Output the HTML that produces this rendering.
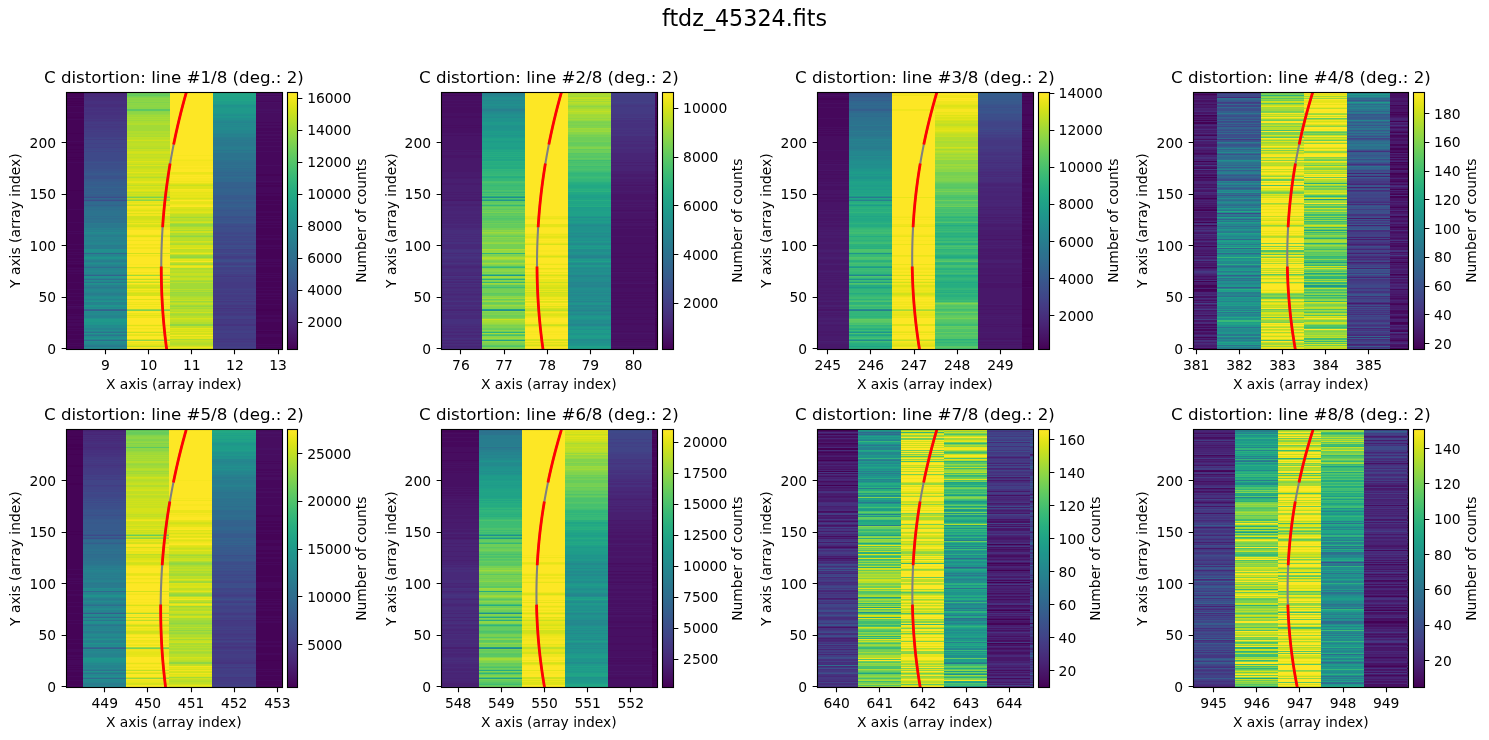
<!DOCTYPE html>
<html lang="en"><head><meta charset="utf-8"><title>ftdz_45324.fits</title>
<style>html,body{margin:0;padding:0;background:#fff}svg{display:block;will-change:transform;opacity:.999}text{font-family:"DejaVu Sans","Liberation Sans",sans-serif;fill:#000}</style></head><body>
<svg width="1489" height="740" viewBox="0 0 1489 740">
<rect width="1489" height="740" fill="#fff"/>
<defs><linearGradient id="vir" x1="0" y1="0" x2="0" y2="1"><stop offset="0.0000" stop-color="#fde725"/><stop offset="0.0156" stop-color="#f6e620"/><stop offset="0.0312" stop-color="#ece51b"/><stop offset="0.0469" stop-color="#e2e418"/><stop offset="0.0625" stop-color="#d8e219"/><stop offset="0.0781" stop-color="#cde11d"/><stop offset="0.0938" stop-color="#c2df23"/><stop offset="0.1094" stop-color="#b8de29"/><stop offset="0.1250" stop-color="#addc30"/><stop offset="0.1406" stop-color="#a2da37"/><stop offset="0.1562" stop-color="#98d83e"/><stop offset="0.1719" stop-color="#8ed645"/><stop offset="0.1875" stop-color="#84d44b"/><stop offset="0.2031" stop-color="#7ad151"/><stop offset="0.2188" stop-color="#70cf57"/><stop offset="0.2344" stop-color="#67cc5c"/><stop offset="0.2500" stop-color="#5ec962"/><stop offset="0.2656" stop-color="#56c667"/><stop offset="0.2812" stop-color="#4ec36b"/><stop offset="0.2969" stop-color="#46c06f"/><stop offset="0.3125" stop-color="#3fbc73"/><stop offset="0.3281" stop-color="#38b977"/><stop offset="0.3438" stop-color="#32b67a"/><stop offset="0.3594" stop-color="#2db27d"/><stop offset="0.3750" stop-color="#28ae80"/><stop offset="0.3906" stop-color="#25ab82"/><stop offset="0.4062" stop-color="#22a785"/><stop offset="0.4219" stop-color="#20a386"/><stop offset="0.4375" stop-color="#1fa088"/><stop offset="0.4531" stop-color="#1e9c89"/><stop offset="0.4688" stop-color="#1f988b"/><stop offset="0.4844" stop-color="#1f948c"/><stop offset="0.5000" stop-color="#21918c"/><stop offset="0.5156" stop-color="#228d8d"/><stop offset="0.5312" stop-color="#23898e"/><stop offset="0.5469" stop-color="#25858e"/><stop offset="0.5625" stop-color="#26828e"/><stop offset="0.5781" stop-color="#277e8e"/><stop offset="0.5938" stop-color="#297a8e"/><stop offset="0.6094" stop-color="#2a768e"/><stop offset="0.6250" stop-color="#2c728e"/><stop offset="0.6406" stop-color="#2e6f8e"/><stop offset="0.6562" stop-color="#2f6b8e"/><stop offset="0.6719" stop-color="#31678e"/><stop offset="0.6875" stop-color="#33638d"/><stop offset="0.7031" stop-color="#355f8d"/><stop offset="0.7188" stop-color="#375b8d"/><stop offset="0.7344" stop-color="#39568c"/><stop offset="0.7500" stop-color="#3b528b"/><stop offset="0.7656" stop-color="#3d4e8a"/><stop offset="0.7812" stop-color="#3e4989"/><stop offset="0.7969" stop-color="#404588"/><stop offset="0.8125" stop-color="#424086"/><stop offset="0.8281" stop-color="#443b84"/><stop offset="0.8438" stop-color="#453781"/><stop offset="0.8594" stop-color="#46327e"/><stop offset="0.8750" stop-color="#472d7b"/><stop offset="0.8906" stop-color="#482878"/><stop offset="0.9062" stop-color="#482374"/><stop offset="0.9219" stop-color="#481d6f"/><stop offset="0.9375" stop-color="#48186a"/><stop offset="0.9531" stop-color="#471365"/><stop offset="0.9688" stop-color="#470d60"/><stop offset="0.9844" stop-color="#46075a"/><stop offset="1.0000" stop-color="#440154"/></linearGradient></defs>
<text font-size="22.22" text-anchor="middle" x="744.5" y="26">ftdz_45324.fits</text>
<g id="p1">
<g shape-rendering="crispEdges">
<path fill="#440154" d="M66 265h18v2h-18zM66 190h18v1h-18zM66 159h18v1h-18zM66 157h18v1h-18zM66 152h18v1h-18zM66 149h18v1h-18zM66 144h18v2h-18zM66 133h18v1h-18zM66 117h18v1h-18zM66 105h18v1h-18zM66 103h18v1h-18zM66 101h18v1h-18zM66 98h18v1h-18zM66 93h18v1h-18zM256 331h27v1h-27zM256 309h27v2h-27z"/>
<path fill="#450457" d="M66 346h18v2h-18zM66 344h18v1h-18zM66 340h18v3h-18zM66 335h18v4h-18zM66 331h18v3h-18zM66 329h18v1h-18zM66 326h18v2h-18zM66 322h18v1h-18zM66 319h18v1h-18zM66 315h18v1h-18zM66 309h18v5h-18zM66 305h18v1h-18zM66 301h18v3h-18zM66 297h18v3h-18zM66 294h18v2h-18zM66 290h18v3h-18zM66 283h18v6h-18zM66 274h18v8h-18zM66 272h18v1h-18zM66 269h18v1h-18zM66 267h18v1h-18zM66 264h18v1h-18zM66 262h18v1h-18zM66 259h18v2h-18zM66 255h18v3h-18zM66 253h18v1h-18zM66 250h18v2h-18zM66 245h18v4h-18zM66 234h18v10h-18zM66 232h18v1h-18zM66 223h18v8h-18zM66 210h18v12h-18zM66 191h18v18h-18zM66 163h18v27h-18zM66 160h18v2h-18zM66 158h18v1h-18zM66 153h18v4h-18zM66 150h18v2h-18zM66 146h18v3h-18zM66 142h18v2h-18zM66 134h18v7h-18zM66 120h18v13h-18zM66 118h18v1h-18zM66 113h18v4h-18zM66 107h18v5h-18zM66 104h18v1h-18zM66 102h18v1h-18zM66 99h18v2h-18zM66 94h18v3h-18zM66 92h18v1h-18zM256 347h27v1h-27zM256 345h27v1h-27zM256 337h27v7h-27zM256 332h27v2h-27zM256 322h27v8h-27zM256 317h27v2h-27zM256 311h27v4h-27zM256 305h27v4h-27zM256 300h27v4h-27zM256 297h27v2h-27zM256 295h27v1h-27zM256 291h27v2h-27zM256 288h27v2h-27zM256 282h27v5h-27zM256 278h27v3h-27zM256 276h27v1h-27zM256 274h27v1h-27zM256 267h27v6h-27zM256 264h27v1h-27zM256 262h27v1h-27zM256 249h27v10h-27zM256 247h27v1h-27zM256 240h27v5h-27zM256 236h27v2h-27zM256 228h27v7h-27zM256 225h27v2h-27zM256 223h27v1h-27zM256 219h27v2h-27zM256 217h27v1h-27zM256 213h27v3h-27zM256 205h27v6h-27zM256 201h27v3h-27zM256 196h27v4h-27zM256 193h27v1h-27zM256 185h27v2h-27zM256 183h27v1h-27zM256 174h27v2h-27z"/>
<path fill="#46085c" d="M66 348h18v2h-18zM66 345h18v1h-18zM66 343h18v1h-18zM66 339h18v1h-18zM66 334h18v1h-18zM66 330h18v1h-18zM66 328h18v1h-18zM66 323h18v3h-18zM66 320h18v2h-18zM66 316h18v3h-18zM66 314h18v1h-18zM66 307h18v2h-18zM66 304h18v1h-18zM66 300h18v1h-18zM66 296h18v1h-18zM66 293h18v1h-18zM66 289h18v1h-18zM66 282h18v1h-18zM66 273h18v1h-18zM66 270h18v2h-18zM66 268h18v1h-18zM66 263h18v1h-18zM66 261h18v1h-18zM66 258h18v1h-18zM66 254h18v1h-18zM66 252h18v1h-18zM66 249h18v1h-18zM66 244h18v1h-18zM66 233h18v1h-18zM66 231h18v1h-18zM66 222h18v1h-18zM66 209h18v1h-18zM66 162h18v1h-18zM66 141h18v1h-18zM66 119h18v1h-18zM66 112h18v1h-18zM66 106h18v1h-18zM66 97h18v1h-18zM256 348h27v2h-27zM256 346h27v1h-27zM256 344h27v1h-27zM256 334h27v3h-27zM256 330h27v1h-27zM256 319h27v3h-27zM256 315h27v2h-27zM256 304h27v1h-27zM256 299h27v1h-27zM256 296h27v1h-27zM256 293h27v2h-27zM256 290h27v1h-27zM256 287h27v1h-27zM256 281h27v1h-27zM256 277h27v1h-27zM256 275h27v1h-27zM256 273h27v1h-27zM256 265h27v2h-27zM256 263h27v1h-27zM256 259h27v3h-27zM256 248h27v1h-27zM256 245h27v2h-27zM256 238h27v2h-27zM256 235h27v1h-27zM256 227h27v1h-27zM256 224h27v1h-27zM256 221h27v2h-27zM256 218h27v1h-27zM256 216h27v1h-27zM256 211h27v2h-27zM256 204h27v1h-27zM256 200h27v1h-27zM256 194h27v2h-27zM256 187h27v6h-27zM256 184h27v1h-27zM256 182h27v1h-27zM256 176h27v5h-27zM256 166h27v8h-27zM256 152h27v13h-27zM256 147h27v4h-27zM256 142h27v4h-27zM256 139h27v2h-27zM256 136h27v2h-27zM256 132h27v2h-27zM256 128h27v3h-27zM256 125h27v1h-27zM256 122h27v1h-27zM256 101h27v1h-27zM256 95h27v1h-27z"/>
<path fill="#470d60" d="M66 306h18v1h-18zM256 181h27v1h-27zM256 165h27v1h-27zM256 151h27v1h-27zM256 146h27v1h-27zM256 141h27v1h-27zM256 138h27v1h-27zM256 134h27v2h-27zM256 131h27v1h-27zM256 126h27v2h-27zM256 123h27v2h-27zM256 113h27v9h-27zM256 111h27v1h-27zM256 103h27v6h-27zM256 97h27v4h-27zM256 92h27v2h-27z"/>
<path fill="#471063" d="M256 112h27v1h-27zM256 109h27v2h-27zM256 102h27v1h-27zM256 96h27v1h-27zM256 94h27v1h-27z"/>
<path fill="#482576" d="M84 92h43v2h-43z"/>
<path fill="#482979" d="M84 94h43v3h-43z"/>
<path fill="#472d7b" d="M84 104h43v3h-43zM84 97h43v4h-43z"/>
<path fill="#46307e" d="M84 112h43v3h-43zM84 109h43v2h-43zM84 107h43v1h-43zM84 101h43v3h-43z"/>
<path fill="#46337f" d="M84 120h43v1h-43zM84 115h43v4h-43zM84 111h43v1h-43zM84 108h43v1h-43zM213 324h43v2h-43zM213 308h43v1h-43z"/>
<path fill="#453781" d="M84 126h43v2h-43zM84 124h43v1h-43zM84 121h43v1h-43zM84 119h43v1h-43zM213 341h43v1h-43zM213 339h43v1h-43zM213 319h43v1h-43zM213 313h43v2h-43zM213 310h43v1h-43zM213 305h43v2h-43zM213 301h43v1h-43zM213 276h43v1h-43z"/>
<path fill="#443a83" d="M84 131h43v1h-43zM84 128h43v2h-43zM84 125h43v1h-43zM84 122h43v2h-43zM213 348h43v2h-43zM213 344h43v2h-43zM213 342h43v1h-43zM213 340h43v1h-43zM213 338h43v1h-43zM213 333h43v1h-43zM213 329h43v1h-43zM213 320h43v4h-43zM213 315h43v1h-43zM213 311h43v1h-43zM213 309h43v1h-43zM213 299h43v1h-43zM213 295h43v2h-43zM213 292h43v1h-43zM213 282h43v6h-43z"/>
<path fill="#433d84" d="M84 139h43v1h-43zM84 132h43v5h-43zM84 130h43v1h-43zM213 346h43v1h-43zM213 343h43v1h-43zM213 334h43v4h-43zM213 330h43v1h-43zM213 326h43v3h-43zM213 312h43v1h-43zM213 307h43v1h-43zM213 304h43v1h-43zM213 302h43v1h-43zM213 297h43v2h-43zM213 294h43v1h-43zM213 290h43v2h-43zM213 288h43v1h-43zM213 278h43v4h-43zM213 274h43v2h-43zM213 264h43v1h-43zM213 256h43v2h-43z"/>
<path fill="#424086" d="M84 147h43v1h-43zM84 143h43v1h-43zM84 137h43v1h-43zM213 347h43v1h-43zM213 331h43v2h-43zM213 316h43v3h-43zM213 303h43v1h-43zM213 300h43v1h-43zM213 293h43v1h-43zM213 289h43v1h-43zM213 277h43v1h-43zM213 272h43v1h-43zM213 267h43v3h-43zM213 263h43v1h-43zM213 258h43v1h-43zM213 249h43v1h-43z"/>
<path fill="#414487" d="M84 151h43v1h-43zM84 144h43v3h-43zM84 140h43v3h-43zM84 138h43v1h-43zM213 273h43v1h-43zM213 270h43v2h-43zM213 262h43v1h-43zM213 254h43v2h-43zM213 250h43v3h-43zM213 244h43v1h-43z"/>
<path fill="#404688" d="M84 148h43v2h-43zM213 265h43v1h-43zM213 243h43v1h-43zM213 240h43v1h-43zM213 236h43v2h-43zM213 233h43v1h-43z"/>
<path fill="#3e4989" d="M84 152h43v9h-43zM84 150h43v1h-43zM213 259h43v1h-43zM213 247h43v1h-43zM213 242h43v1h-43zM213 238h43v2h-43zM213 234h43v1h-43zM213 232h43v1h-43zM213 226h43v1h-43z"/>
<path fill="#3d4d8a" d="M84 200h43v1h-43zM84 197h43v1h-43zM84 163h43v2h-43zM84 161h43v1h-43zM213 266h43v1h-43zM213 260h43v2h-43zM213 253h43v1h-43zM213 248h43v1h-43zM213 245h43v2h-43zM213 241h43v1h-43zM213 235h43v1h-43zM213 229h43v3h-43zM213 227h43v1h-43zM213 224h43v2h-43z"/>
<path fill="#3c4f8a" d="M84 165h43v4h-43zM213 228h43v1h-43zM213 217h43v1h-43z"/>
<path fill="#3b528b" d="M84 176h43v3h-43zM84 169h43v2h-43zM84 162h43v1h-43zM213 223h43v1h-43zM213 219h43v1h-43zM213 216h43v1h-43z"/>
<path fill="#39558c" d="M84 175h43v1h-43zM84 171h43v2h-43zM213 220h43v2h-43zM213 218h43v1h-43zM213 210h43v1h-43z"/>
<path fill="#38598c" d="M84 196h43v1h-43zM84 179h43v2h-43zM84 173h43v2h-43zM213 222h43v1h-43zM213 211h43v5h-43zM213 209h43v1h-43zM213 202h43v1h-43zM213 197h43v1h-43z"/>
<path fill="#375b8d" d="M84 184h43v1h-43zM84 181h43v1h-43zM213 207h43v2h-43zM213 203h43v1h-43zM213 198h43v2h-43zM213 195h43v2h-43z"/>
<path fill="#355e8d" d="M84 199h43v1h-43zM84 194h43v2h-43zM84 192h43v1h-43zM84 188h43v3h-43zM84 185h43v2h-43zM84 182h43v2h-43zM213 204h43v2h-43zM213 201h43v1h-43zM213 187h43v1h-43z"/>
<path fill="#34618d" d="M84 310h43v1h-43zM84 191h43v1h-43zM213 206h43v1h-43zM213 200h43v1h-43zM213 192h43v3h-43zM213 188h43v1h-43zM213 182h43v5h-43z"/>
<path fill="#33638d" d="M84 275h43v1h-43zM84 205h43v1h-43zM84 193h43v1h-43zM84 187h43v1h-43zM213 189h43v3h-43z"/>
<path fill="#31668e" d="M84 201h43v1h-43zM84 198h43v1h-43zM213 175h43v1h-43zM213 172h43v1h-43z"/>
<path fill="#30698e" d="M84 253h43v1h-43zM84 204h43v1h-43zM213 178h43v4h-43zM213 176h43v1h-43zM213 173h43v2h-43z"/>
<path fill="#2f6b8e" d="M84 309h43v1h-43zM84 206h43v1h-43zM84 202h43v2h-43zM213 170h43v2h-43zM213 168h43v1h-43z"/>
<path fill="#2e6e8e" d="M84 340h43v1h-43zM84 267h43v1h-43zM84 218h43v1h-43zM84 216h43v1h-43zM84 209h43v1h-43zM84 207h43v1h-43zM213 177h43v1h-43zM213 169h43v1h-43zM213 166h43v1h-43zM213 162h43v3h-43z"/>
<path fill="#2d718e" d="M84 279h43v1h-43zM84 221h43v2h-43zM84 219h43v1h-43zM84 210h43v1h-43zM84 208h43v1h-43zM213 167h43v1h-43zM213 165h43v1h-43zM213 160h43v2h-43z"/>
<path fill="#2c738e" d="M84 332h43v1h-43zM84 220h43v1h-43zM84 217h43v1h-43zM84 211h43v5h-43zM213 153h43v5h-43z"/>
<path fill="#2b758e" d="M84 335h43v1h-43zM84 282h43v1h-43zM213 158h43v2h-43zM213 150h43v1h-43z"/>
<path fill="#2a788e" d="M84 346h43v1h-43zM84 287h43v1h-43zM84 224h43v4h-43zM213 152h43v1h-43zM213 142h43v4h-43zM213 140h43v1h-43z"/>
<path fill="#297b8e" d="M84 274h43v1h-43zM84 245h43v1h-43zM84 223h43v1h-43zM213 151h43v1h-43zM213 149h43v1h-43zM213 146h43v1h-43zM213 141h43v1h-43zM213 138h43v2h-43z"/>
<path fill="#287d8e" d="M84 345h43v1h-43zM84 293h43v2h-43zM84 266h43v1h-43zM84 261h43v1h-43zM84 246h43v3h-43zM84 235h43v2h-43zM84 229h43v1h-43zM213 147h43v2h-43zM213 137h43v1h-43z"/>
<path fill="#27808e" d="M84 288h43v1h-43zM84 285h43v2h-43zM84 260h43v1h-43zM84 240h43v1h-43zM84 231h43v1h-43zM84 228h43v1h-43zM213 134h43v1h-43z"/>
<path fill="#26828e" d="M84 334h43v1h-43zM84 316h43v1h-43zM84 302h43v1h-43zM84 299h43v1h-43zM84 295h43v1h-43zM84 265h43v1h-43zM84 241h43v1h-43zM84 238h43v1h-43zM84 234h43v1h-43zM213 135h43v2h-43z"/>
<path fill="#25848e" d="M84 344h43v1h-43zM84 339h43v1h-43zM84 331h43v1h-43zM84 328h43v2h-43zM84 317h43v1h-43zM84 315h43v1h-43zM84 303h43v2h-43zM84 292h43v1h-43zM84 278h43v1h-43zM84 272h43v1h-43zM84 268h43v2h-43zM84 254h43v2h-43zM84 244h43v1h-43zM84 242h43v1h-43zM84 239h43v1h-43zM84 237h43v1h-43zM84 230h43v1h-43zM213 133h43v1h-43zM213 122h43v1h-43z"/>
<path fill="#24878e" d="M84 348h43v2h-43zM84 312h43v1h-43zM84 291h43v1h-43zM84 289h43v1h-43zM84 281h43v1h-43zM84 273h43v1h-43zM84 270h43v1h-43zM84 264h43v1h-43zM84 262h43v1h-43zM84 259h43v1h-43zM84 243h43v1h-43zM84 233h43v1h-43zM213 130h43v3h-43zM213 126h43v1h-43zM213 124h43v1h-43zM213 121h43v1h-43z"/>
<path fill="#238a8d" d="M84 347h43v1h-43zM84 342h43v2h-43zM84 336h43v1h-43zM84 325h43v1h-43zM84 313h43v2h-43zM84 307h43v1h-43zM84 296h43v1h-43zM84 290h43v1h-43zM84 271h43v1h-43zM84 256h43v1h-43zM84 252h43v1h-43zM84 232h43v1h-43zM213 127h43v3h-43zM213 125h43v1h-43zM213 123h43v1h-43zM213 120h43v1h-43z"/>
<path fill="#228c8d" d="M84 337h43v1h-43zM84 326h43v2h-43zM84 311h43v1h-43zM84 300h43v1h-43zM84 298h43v1h-43zM84 284h43v1h-43zM84 280h43v1h-43z"/>
<path fill="#218f8d" d="M84 341h43v1h-43zM84 330h43v1h-43zM84 318h43v1h-43zM84 308h43v1h-43zM84 297h43v1h-43zM84 276h43v2h-43zM84 263h43v1h-43zM84 249h43v3h-43zM213 118h43v2h-43zM213 115h43v1h-43z"/>
<path fill="#20928c" d="M84 283h43v1h-43zM84 258h43v1h-43zM213 114h43v1h-43zM213 105h43v1h-43z"/>
<path fill="#1f948c" d="M84 338h43v1h-43zM84 333h43v1h-43zM84 324h43v1h-43zM84 322h43v1h-43zM84 305h43v2h-43zM84 301h43v1h-43zM84 257h43v1h-43zM213 117h43v1h-43zM213 106h43v1h-43z"/>
<path fill="#1f968b" d="M84 323h43v1h-43zM213 116h43v1h-43zM213 113h43v1h-43zM213 107h43v1h-43z"/>
<path fill="#1f998a" d="M84 319h43v3h-43zM213 108h43v5h-43zM213 104h43v1h-43z"/>
<path fill="#1f9e89" d="M213 101h43v3h-43z"/>
<path fill="#1fa188" d="M213 99h43v1h-43zM213 97h43v1h-43z"/>
<path fill="#20a386" d="M213 100h43v1h-43zM213 98h43v1h-43zM213 95h43v2h-43z"/>
<path fill="#21a585" d="M213 93h43v2h-43z"/>
<path fill="#25ab82" d="M213 92h43v1h-43z"/>
<path fill="#5cc863" d="M127 109h43v2h-43z"/>
<path fill="#63cb5f" d="M127 95h43v1h-43z"/>
<path fill="#67cc5c" d="M127 94h43v1h-43z"/>
<path fill="#6ece58" d="M127 92h43v2h-43z"/>
<path fill="#75d054" d="M127 96h43v1h-43z"/>
<path fill="#7ad151" d="M127 310h43v1h-43zM127 197h43v1h-43z"/>
<path fill="#81d34d" d="M127 102h43v1h-43zM127 97h43v1h-43z"/>
<path fill="#89d548" d="M127 200h43v1h-43zM127 111h43v1h-43zM127 107h43v2h-43zM127 104h43v1h-43zM127 99h43v2h-43z"/>
<path fill="#8ed645" d="M127 340h43v1h-43zM127 112h43v2h-43zM127 105h43v2h-43zM127 103h43v1h-43zM127 101h43v1h-43zM127 98h43v1h-43zM170 324h43v2h-43zM170 257h43v1h-43zM170 236h43v1h-43z"/>
<path fill="#95d840" d="M127 114h43v1h-43zM170 306h43v1h-43zM170 292h43v1h-43zM170 256h43v1h-43zM170 224h43v2h-43z"/>
<path fill="#9dd93b" d="M127 309h43v1h-43zM127 275h43v1h-43zM127 120h43v1h-43zM127 116h43v1h-43zM170 301h43v1h-43zM170 294h43v2h-43zM170 281h43v1h-43zM170 255h43v1h-43z"/>
<path fill="#a2da37" d="M127 125h43v6h-43zM127 118h43v1h-43zM127 115h43v1h-43zM170 314h43v1h-43zM170 308h43v1h-43zM170 305h43v1h-43zM170 293h43v1h-43zM170 290h43v1h-43zM170 283h43v6h-43zM170 264h43v1h-43zM170 235h43v1h-43zM170 226h43v1h-43zM170 217h43v1h-43z"/>
<path fill="#aadc32" d="M127 196h43v1h-43zM127 136h43v1h-43zM127 133h43v1h-43zM127 121h43v2h-43zM127 119h43v1h-43zM127 117h43v1h-43zM170 339h43v1h-43zM170 315h43v1h-43zM170 313h43v1h-43zM170 296h43v1h-43zM170 280h43v1h-43zM170 276h43v1h-43zM170 268h43v1h-43zM170 244h43v1h-43zM170 233h43v1h-43zM170 230h43v1h-43zM170 223h43v1h-43z"/>
<path fill="#b2dd2d" d="M127 199h43v1h-43zM127 177h43v1h-43zM127 148h43v1h-43zM127 134h43v2h-43zM127 131h43v2h-43zM127 123h43v2h-43zM170 343h43v2h-43zM170 322h43v2h-43zM170 311h43v1h-43zM170 307h43v1h-43zM170 302h43v1h-43zM170 299h43v1h-43zM170 297h43v1h-43zM170 291h43v1h-43zM170 272h43v1h-43zM170 269h43v1h-43zM170 263h43v1h-43zM170 243h43v1h-43zM170 240h43v1h-43zM170 237h43v1h-43zM170 234h43v1h-43zM170 220h43v1h-43z"/>
<path fill="#bade28" d="M127 146h43v2h-43zM127 141h43v2h-43zM127 138h43v1h-43zM170 342h43v1h-43zM170 316h43v2h-43zM170 309h43v2h-43zM170 304h43v1h-43zM170 298h43v1h-43zM170 289h43v1h-43zM170 282h43v1h-43zM170 277h43v1h-43zM170 271h43v1h-43zM170 258h43v1h-43zM170 249h43v1h-43zM170 238h43v2h-43zM170 227h43v2h-43zM170 219h43v1h-43zM170 216h43v1h-43z"/>
<path fill="#c0df25" d="M127 346h43v1h-43zM127 282h43v1h-43zM127 279h43v1h-43zM127 192h43v1h-43zM127 185h43v1h-43zM127 166h43v2h-43zM127 164h43v1h-43zM127 157h43v1h-43zM127 154h43v1h-43zM127 150h43v1h-43zM127 143h43v3h-43zM127 139h43v1h-43zM127 137h43v1h-43zM170 345h43v1h-43zM170 341h43v1h-43zM170 326h43v2h-43zM170 320h43v2h-43zM170 275h43v1h-43zM170 270h43v1h-43zM170 254h43v1h-43zM170 250h43v2h-43zM170 218h43v1h-43zM170 214h43v2h-43z"/>
<path fill="#c8e020" d="M127 332h43v1h-43zM127 287h43v1h-43zM127 205h43v1h-43zM127 194h43v1h-43zM127 176h43v1h-43zM127 174h43v1h-43zM127 168h43v1h-43zM127 160h43v1h-43zM127 158h43v1h-43zM127 155h43v2h-43zM127 149h43v1h-43zM170 340h43v1h-43zM170 319h43v1h-43zM170 303h43v1h-43zM170 300h43v1h-43zM170 278h43v2h-43zM170 273h43v2h-43zM170 262h43v1h-43zM170 242h43v1h-43zM170 229h43v1h-43zM170 221h43v1h-43zM170 185h43v1h-43z"/>
<path fill="#d0e11c" d="M127 339h43v1h-43zM127 293h43v1h-43zM127 267h43v1h-43zM127 253h43v1h-43zM127 226h43v1h-43zM127 216h43v3h-43zM127 195h43v1h-43zM127 187h43v2h-43zM127 184h43v1h-43zM127 178h43v1h-43zM127 173h43v1h-43zM127 171h43v1h-43zM127 169h43v1h-43zM127 162h43v2h-43zM127 159h43v1h-43zM127 153h43v1h-43zM127 151h43v1h-43zM127 140h43v1h-43zM170 348h43v2h-43zM170 333h43v1h-43zM170 331h43v1h-43zM170 312h43v1h-43zM170 252h43v1h-43zM170 231h43v2h-43zM170 213h43v1h-43zM170 209h43v1h-43z"/>
<path fill="#d5e21a" d="M127 294h43v2h-43zM127 285h43v2h-43zM127 225h43v1h-43zM127 222h43v1h-43zM127 219h43v1h-43zM127 198h43v1h-43zM127 193h43v1h-43zM127 191h43v1h-43zM127 183h43v1h-43zM127 179h43v2h-43zM127 175h43v1h-43zM127 170h43v1h-43zM127 152h43v1h-43zM170 346h43v1h-43zM170 336h43v1h-43zM170 334h43v1h-43zM170 329h43v1h-43zM170 318h43v1h-43zM170 245h43v3h-43zM170 241h43v1h-43zM170 222h43v1h-43zM170 210h43v1h-43zM170 198h43v1h-43zM170 184h43v1h-43z"/>
<path fill="#dde318" d="M127 345h43v1h-43zM127 325h43v1h-43zM127 315h43v1h-43zM127 299h43v1h-43zM127 292h43v1h-43zM127 288h43v1h-43zM127 236h43v1h-43zM127 224h43v1h-43zM127 220h43v1h-43zM127 213h43v1h-43zM127 210h43v1h-43zM127 204h43v1h-43zM127 189h43v1h-43zM127 186h43v1h-43zM127 165h43v1h-43zM127 161h43v1h-43zM170 330h43v1h-43zM170 265h43v1h-43zM170 260h43v1h-43zM170 211h43v1h-43zM170 207h43v2h-43zM170 186h43v3h-43z"/>
<path fill="#e5e419" d="M127 344h43v1h-43zM127 335h43v1h-43zM127 290h43v1h-43zM127 281h43v1h-43zM127 274h43v1h-43zM127 235h43v1h-43zM127 221h43v1h-43zM127 202h43v1h-43zM127 190h43v1h-43zM127 181h43v1h-43zM127 172h43v1h-43zM170 337h43v2h-43zM170 332h43v1h-43zM170 328h43v1h-43zM170 267h43v1h-43zM170 259h43v1h-43zM170 248h43v1h-43zM170 212h43v1h-43zM170 202h43v2h-43zM170 199h43v1h-43zM170 197h43v1h-43zM170 195h43v1h-43zM170 192h43v1h-43zM170 183h43v1h-43z"/>
<path fill="#eae51a" d="M127 342h43v1h-43zM127 334h43v1h-43zM127 317h43v1h-43zM127 313h43v1h-43zM127 304h43v1h-43zM127 284h43v1h-43zM127 227h43v1h-43zM127 211h43v1h-43zM127 209h43v1h-43zM127 201h43v1h-43zM127 182h43v1h-43zM170 253h43v1h-43zM170 201h43v1h-43zM170 196h43v1h-43zM170 193h43v2h-43zM170 172h43v2h-43z"/>
<path fill="#f1e51d" d="M127 343h43v1h-43zM127 331h43v1h-43zM127 328h43v1h-43zM127 316h43v1h-43zM127 314h43v1h-43zM127 306h43v1h-43zM127 302h43v1h-43zM127 291h43v1h-43zM127 278h43v1h-43zM127 272h43v1h-43zM127 268h43v1h-43zM127 255h43v1h-43zM127 247h43v2h-43zM127 244h43v1h-43zM127 240h43v1h-43zM127 228h43v2h-43zM127 223h43v1h-43zM127 214h43v2h-43zM127 208h43v1h-43zM127 203h43v1h-43zM170 347h43v1h-43zM170 266h43v1h-43zM170 204h43v1h-43zM170 190h43v2h-43zM170 181h43v1h-43zM170 174h43v1h-43zM170 160h43v1h-43z"/>
<path fill="#f8e621" d="M127 347h43v3h-43zM127 329h43v1h-43zM127 326h43v1h-43zM127 324h43v1h-43zM127 311h43v1h-43zM127 307h43v2h-43zM127 303h43v1h-43zM127 289h43v1h-43zM127 269h43v1h-43zM127 264h43v1h-43zM127 256h43v1h-43zM127 245h43v1h-43zM127 237h43v1h-43zM127 234h43v1h-43zM127 212h43v1h-43zM127 206h43v2h-43zM170 335h43v1h-43zM170 261h43v1h-43zM170 205h43v1h-43zM170 189h43v1h-43zM170 182h43v1h-43zM170 178h43v3h-43zM170 176h43v1h-43zM170 167h43v2h-43zM170 161h43v5h-43zM170 159h43v1h-43zM170 155h43v1h-43z"/>
<path fill="#fde725" d="M127 341h43v1h-43zM127 336h43v3h-43zM127 333h43v1h-43zM127 330h43v1h-43zM127 327h43v1h-43zM127 318h43v6h-43zM127 312h43v1h-43zM127 305h43v1h-43zM127 300h43v2h-43zM127 296h43v3h-43zM127 283h43v1h-43zM127 280h43v1h-43zM127 276h43v2h-43zM127 273h43v1h-43zM127 270h43v2h-43zM127 265h43v2h-43zM127 257h43v7h-43zM127 254h43v1h-43zM127 249h43v4h-43zM127 246h43v1h-43zM127 241h43v3h-43zM127 238h43v2h-43zM127 230h43v4h-43zM170 206h43v1h-43zM170 200h43v1h-43zM170 177h43v1h-43zM170 175h43v1h-43zM170 169h43v3h-43zM170 166h43v1h-43zM170 156h43v3h-43zM170 92h43v63h-43z"/>
</g>
<clipPath id="c1"><rect x="66.5" y="92.5" width="216" height="257"/></clipPath>
<g clip-path="url(#c1)" fill="none" stroke-linecap="butt">
<polyline stroke="#808080" stroke-width="2.08" points="166.65,349.3 166.23,346.04 165.82,342.79 165.44,339.53 165.06,336.27 164.71,333.02 164.38,329.76 164.06,326.5 163.75,323.24 163.47,319.99 163.2,316.73 162.95,313.47 162.72,310.22 162.51,306.96 162.31,303.7 162.13,300.45 161.96,297.19 161.82,293.93 161.69,290.67 161.58,287.42 161.48,284.16 161.4,280.9 161.34,277.65 161.3,274.39 161.27,271.13 161.27,267.88 161.27,264.62 161.3,261.36 161.34,258.11 161.4,254.85 161.48,251.59 161.58,248.33 161.69,245.08 161.82,241.82 161.97,238.56 162.13,235.31 162.31,232.05 162.51,228.79 162.73,225.54 162.96,222.28 163.21,219.02 163.48,215.76 163.76,212.51 164.06,209.25 164.38,205.99 164.72,202.74 165.07,199.48 165.45,196.22 165.83,192.97 166.24,189.71 166.66,186.45 167.1,183.19 167.56,179.94 168.03,176.68 168.53,173.42 169.04,170.17 169.56,166.91 170.11,163.65 170.67,160.4 171.24,157.14 171.84,153.88 172.45,150.63 173.08,147.37 173.73,144.11 174.39,140.85 175.08,137.6 175.77,134.34 176.49,131.08 177.22,127.83 177.97,124.57 178.74,121.31 179.53,118.06 180.33,114.8 181.15,111.54 181.99,108.28 182.84,105.03 183.71,101.77 184.6,98.51 185.51,95.26 186.43,92"/>
<polyline stroke="#ff0000" stroke-width="2.78" points="166.65,349.3 166.37,347.18 166.1,345.06 165.84,342.93 165.59,340.81 165.34,338.69 165.1,336.57 164.86,334.45 164.64,332.33 164.42,330.2 164.21,328.08 164.01,325.96 163.81,323.84 163.62,321.72 163.44,319.6 163.26,317.47 163.1,315.35 162.94,313.23 162.78,311.11 162.64,308.99 162.5,306.87 162.37,304.74 162.25,302.62 162.13,300.5 162.02,298.38 161.92,296.26 161.82,294.13 161.74,292.01 161.66,289.89 161.59,287.77 161.52,285.65 161.46,283.53 161.41,281.4 161.37,279.28 161.34,277.16 161.31,275.04 161.29,272.92 161.27,270.8 161.27,268.67 161.27,266.55"/>
<polyline stroke="#ff0000" stroke-width="2.78" points="162.61,227.24 162.72,225.6 162.84,223.96 162.96,222.33 163.08,220.69 163.21,219.06 163.34,217.42 163.48,215.78 163.62,214.15 163.76,212.51 163.91,210.88 164.07,209.24 164.22,207.6 164.39,205.97 164.55,204.33 164.73,202.69 164.9,201.06 165.08,199.42 165.27,197.79 165.45,196.15 165.65,194.51 165.84,192.88 166.05,191.24 166.25,189.61 166.46,187.97 166.68,186.33 166.9,184.7 167.12,183.06 167.35,181.42 167.58,179.79 167.82,178.15 168.06,176.52 168.3,174.88 168.55,173.24 168.81,171.61 169.07,169.97 169.33,168.33 169.6,166.7 169.87,165.06 170.14,163.43"/>
<polyline stroke="#ff0000" stroke-width="2.78" points="173.65,144.49 173.92,143.14 174.2,141.8 174.48,140.45 174.76,139.11 175.04,137.76 175.33,136.41 175.62,135.07 175.91,133.72 176.2,132.38 176.5,131.03 176.8,129.68 177.11,128.34 177.41,126.99 177.72,125.65 178.04,124.3 178.35,122.96 178.67,121.61 178.99,120.26 179.32,118.92 179.65,117.57 179.98,116.23 180.31,114.88 180.65,113.53 180.98,112.19 181.33,110.84 181.67,109.5 182.02,108.15 182.37,106.8 182.73,105.46 183.08,104.11 183.44,102.77 183.81,101.42 184.17,100.08 184.54,98.73 184.91,97.38 185.29,96.04 185.66,94.69 186.05,93.35 186.43,92"/>
</g>
<rect x="66.5" y="92.5" width="216" height="257" fill="none" stroke="#000" stroke-width="1.11"/>
<path d="M105.5 349.5v4.86M148.5 349.5v4.86M191.5 349.5v4.86M234.5 349.5v4.86M278.5 349.5v4.86M66.5 348.5h-4.86M66.5 297.5h-4.86M66.5 245.5h-4.86M66.5 194.5h-4.86M66.5 142.5h-4.86" stroke="#000" stroke-width="1.11" fill="none"/>
<g font-size="13.89" text-anchor="middle">
<text x="105.45" y="369.9">9</text>
<text x="148.6" y="369.9">10</text>
<text x="191.75" y="369.9">11</text>
<text x="234.9" y="369.9">12</text>
<text x="278.05" y="369.9">13</text>
</g>
<g font-size="13.89" text-anchor="end">
<text x="56.1" y="354">0</text>
<text x="56.1" y="302">50</text>
<text x="56.1" y="251">100</text>
<text x="56.1" y="199">150</text>
<text x="56.1" y="148">200</text>
</g>
<text font-size="13.89" text-anchor="middle" x="173.78" y="388.7">X axis (array index)</text>
<text font-size="13.89" text-anchor="middle" transform="translate(20.1 220.65) rotate(-90)">Y axis (array index)</text>
<text font-size="16.67" text-anchor="middle" x="173.88" y="83">C distortion: line #1/8 (deg.: 2)</text>
<rect x="287.5" y="92.5" width="10" height="257" fill="url(#vir)" stroke="#000" stroke-width="1.11"/>
<path d="M297.5 322.5h4.86M297.5 290.5h4.86M297.5 258.5h4.86M297.5 226.5h4.86M297.5 194.5h4.86M297.5 162.5h4.86M297.5 130.5h4.86M297.5 98.5h4.86" stroke="#000" stroke-width="1.11" fill="none"/>
<g font-size="13.89">
<text x="307.15" y="327">2000</text>
<text x="307.15" y="295">4000</text>
<text x="307.15" y="263">6000</text>
<text x="307.15" y="231">8000</text>
<text x="307.15" y="199">10000</text>
<text x="307.15" y="167">12000</text>
<text x="307.15" y="135">14000</text>
<text x="307.15" y="103">16000</text>
</g>
<text font-size="13.89" text-anchor="middle" transform="translate(365.75 220.65) rotate(-90)">Number of counts</text>
</g>
<g id="p2">
<g shape-rendering="crispEdges">
<path fill="#440154" d="M655 324h3v2h-3zM655 322h3v1h-3zM655 318h3v1h-3zM655 292h3v1h-3zM655 290h3v1h-3zM655 284h3v1h-3zM655 252h3v1h-3z"/>
<path fill="#450457" d="M655 326h3v24h-3zM655 323h3v1h-3zM655 319h3v3h-3zM655 316h3v1h-3zM655 312h3v3h-3zM655 304h3v7h-3zM655 293h3v10h-3zM655 291h3v1h-3zM655 285h3v5h-3zM655 281h3v3h-3zM655 276h3v3h-3zM655 263h3v11h-3zM655 254h3v6h-3zM655 250h3v2h-3zM655 245h3v4h-3zM655 242h3v1h-3zM655 235h3v6h-3zM655 228h3v6h-3zM655 224h3v2h-3zM655 221h3v2h-3zM655 219h3v1h-3zM655 212h3v6h-3zM655 208h3v2h-3zM655 202h3v5h-3zM655 200h3v1h-3zM655 197h3v2h-3zM655 194h3v1h-3zM655 191h3v1h-3zM655 189h3v1h-3zM655 186h3v2h-3zM655 179h3v6h-3zM655 176h3v1h-3zM655 171h3v3h-3zM655 165h3v2h-3zM655 161h3v2h-3zM655 158h3v1h-3zM655 155h3v2h-3zM655 152h3v2h-3zM655 149h3v1h-3zM655 142h3v1h-3zM655 136h3v3h-3zM655 133h3v1h-3zM655 131h3v1h-3zM655 128h3v1h-3zM655 124h3v2h-3zM655 118h3v1h-3zM655 116h3v1h-3zM655 108h3v1h-3z"/>
<path fill="#46085c" d="M441 95h41v1h-41zM655 317h3v1h-3zM655 315h3v1h-3zM655 311h3v1h-3zM655 303h3v1h-3zM655 279h3v2h-3zM655 274h3v2h-3zM655 260h3v3h-3zM655 253h3v1h-3zM655 249h3v1h-3zM655 243h3v2h-3zM655 241h3v1h-3zM655 234h3v1h-3zM655 226h3v2h-3zM655 223h3v1h-3zM655 220h3v1h-3zM655 218h3v1h-3zM655 210h3v2h-3zM655 207h3v1h-3zM655 201h3v1h-3zM655 199h3v1h-3zM655 195h3v2h-3zM655 192h3v2h-3zM655 190h3v1h-3zM655 188h3v1h-3zM655 185h3v1h-3zM655 177h3v2h-3zM655 174h3v2h-3zM655 167h3v4h-3zM655 163h3v2h-3zM655 159h3v2h-3zM655 157h3v1h-3zM655 154h3v1h-3zM655 150h3v2h-3zM655 147h3v2h-3zM655 143h3v3h-3zM655 139h3v3h-3zM655 134h3v2h-3zM655 132h3v1h-3zM655 129h3v2h-3zM655 126h3v2h-3zM655 119h3v5h-3zM655 117h3v1h-3zM655 109h3v7h-3zM655 107h3v1h-3zM655 92h3v14h-3z"/>
<path fill="#470d60" d="M441 127h41v1h-41zM441 125h41v1h-41zM441 116h41v2h-41zM441 107h41v6h-41zM441 104h41v2h-41zM441 101h41v2h-41zM441 96h41v4h-41zM441 92h41v3h-41zM611 341h44v1h-44zM611 339h44v1h-44zM611 331h44v1h-44zM611 323h44v2h-44zM611 319h44v1h-44zM611 317h44v1h-44zM611 313h44v1h-44zM611 306h44v2h-44zM611 303h44v1h-44zM611 301h44v1h-44zM611 297h44v2h-44zM611 295h44v1h-44zM611 292h44v2h-44zM611 284h44v4h-44zM611 280h44v1h-44zM611 277h44v1h-44zM611 271h44v1h-44zM611 268h44v1h-44zM611 263h44v1h-44zM611 256h44v2h-44zM611 253h44v1h-44zM611 243h44v1h-44zM655 146h3v1h-3zM655 106h3v1h-3z"/>
<path fill="#471063" d="M441 135h41v1h-41zM441 128h41v5h-41zM441 126h41v1h-41zM441 118h41v7h-41zM441 113h41v3h-41zM441 106h41v1h-41zM441 103h41v1h-41zM441 100h41v1h-41zM611 347h44v3h-44zM611 342h44v4h-44zM611 340h44v1h-44zM611 334h44v5h-44zM611 332h44v1h-44zM611 325h44v6h-44zM611 320h44v3h-44zM611 318h44v1h-44zM611 314h44v3h-44zM611 308h44v5h-44zM611 304h44v2h-44zM611 302h44v1h-44zM611 299h44v2h-44zM611 296h44v1h-44zM611 294h44v1h-44zM611 288h44v4h-44zM611 281h44v2h-44zM611 278h44v2h-44zM611 273h44v4h-44zM611 269h44v2h-44zM611 264h44v4h-44zM611 258h44v5h-44zM611 254h44v2h-44zM611 244h44v9h-44zM611 237h44v6h-44zM611 229h44v7h-44zM611 226h44v2h-44zM611 222h44v1h-44zM611 219h44v2h-44zM611 210h44v1h-44z"/>
<path fill="#481467" d="M441 155h41v3h-41zM441 151h41v1h-41zM441 136h41v14h-41zM441 133h41v2h-41zM611 346h44v1h-44zM611 333h44v1h-44zM611 283h44v1h-44zM611 272h44v1h-44zM611 236h44v1h-44zM611 228h44v1h-44zM611 223h44v3h-44zM611 221h44v1h-44zM611 213h44v6h-44zM611 211h44v1h-44zM611 207h44v3h-44zM611 205h44v1h-44zM611 202h44v2h-44zM611 194h44v6h-44zM611 185h44v1h-44z"/>
<path fill="#48186a" d="M441 200h41v1h-41zM441 177h41v1h-41zM441 158h41v14h-41zM441 152h41v3h-41zM441 150h41v1h-41zM611 212h44v1h-44zM611 206h44v1h-44zM611 204h44v1h-44zM611 200h44v2h-44zM611 192h44v2h-44zM611 187h44v4h-44zM611 184h44v1h-44zM611 182h44v1h-44z"/>
<path fill="#481b6d" d="M441 199h41v1h-41zM441 197h41v1h-41zM441 194h41v1h-41zM441 192h41v1h-41zM441 183h41v2h-41zM441 178h41v1h-41zM441 172h41v5h-41zM611 191h44v1h-44zM611 186h44v1h-44zM611 183h44v1h-44zM611 179h44v3h-44zM611 174h44v3h-44z"/>
<path fill="#481f70" d="M441 204h41v2h-41zM441 198h41v1h-41zM441 195h41v2h-41zM441 193h41v1h-41zM441 185h41v7h-41zM441 179h41v4h-41zM611 177h44v2h-44zM611 171h44v3h-44zM611 165h44v1h-44zM611 162h44v1h-44z"/>
<path fill="#482374" d="M441 310h41v1h-41zM441 222h41v1h-41zM441 220h41v1h-41zM441 217h41v2h-41zM441 214h41v2h-41zM441 208h41v3h-41zM441 206h41v1h-41zM441 201h41v3h-41zM611 166h44v5h-44zM611 163h44v1h-44zM611 160h44v1h-44z"/>
<path fill="#482576" d="M441 346h41v1h-41zM441 343h41v1h-41zM441 340h41v1h-41zM441 335h41v1h-41zM441 332h41v1h-41zM441 309h41v1h-41zM441 294h41v1h-41zM441 287h41v1h-41zM441 282h41v1h-41zM441 279h41v1h-41zM441 275h41v1h-41zM441 266h41v2h-41zM441 225h41v3h-41zM441 223h41v1h-41zM441 221h41v1h-41zM441 219h41v1h-41zM441 216h41v1h-41zM441 211h41v3h-41zM441 207h41v1h-41zM611 164h44v1h-44zM611 161h44v1h-44zM611 153h44v7h-44z"/>
<path fill="#482979" d="M441 347h41v1h-41zM441 345h41v1h-41zM441 342h41v1h-41zM441 336h41v2h-41zM441 331h41v1h-41zM441 328h41v2h-41zM441 326h41v1h-41zM441 315h41v4h-41zM441 312h41v1h-41zM441 307h41v1h-41zM441 302h41v3h-41zM441 298h41v2h-41zM441 295h41v1h-41zM441 293h41v1h-41zM441 291h41v1h-41zM441 288h41v1h-41zM441 284h41v1h-41zM441 281h41v1h-41zM441 272h41v3h-41zM441 268h41v1h-41zM441 265h41v1h-41zM441 261h41v1h-41zM441 253h41v1h-41zM441 244h41v5h-41zM441 241h41v1h-41zM441 238h41v1h-41zM441 236h41v1h-41zM441 234h41v1h-41zM441 228h41v2h-41zM441 224h41v1h-41zM611 149h44v4h-44zM611 144h44v3h-44zM611 141h44v1h-44z"/>
<path fill="#472d7b" d="M441 348h41v2h-41zM441 344h41v1h-41zM441 341h41v1h-41zM441 339h41v1h-41zM441 333h41v2h-41zM441 330h41v1h-41zM441 327h41v1h-41zM441 324h41v2h-41zM441 313h41v2h-41zM441 311h41v1h-41zM441 308h41v1h-41zM441 306h41v1h-41zM441 300h41v1h-41zM441 296h41v2h-41zM441 292h41v1h-41zM441 289h41v2h-41zM441 285h41v2h-41zM441 277h41v2h-41zM441 269h41v3h-41zM441 264h41v1h-41zM441 262h41v1h-41zM441 259h41v2h-41zM441 255h41v1h-41zM441 239h41v2h-41zM441 237h41v1h-41zM441 235h41v1h-41zM441 230h41v4h-41zM611 147h44v2h-44zM611 142h44v2h-44zM611 136h44v5h-44z"/>
<path fill="#46307e" d="M441 338h41v1h-41zM441 319h41v5h-41zM441 305h41v1h-41zM441 283h41v1h-41zM441 280h41v1h-41zM441 258h41v1h-41zM441 256h41v1h-41zM441 254h41v1h-41zM441 252h41v1h-41zM441 249h41v1h-41zM441 242h41v2h-41zM611 132h44v2h-44zM611 130h44v1h-44zM611 123h44v5h-44zM611 120h44v2h-44z"/>
<path fill="#46337f" d="M441 301h41v1h-41zM441 276h41v1h-41zM441 263h41v1h-41zM441 257h41v1h-41zM441 250h41v2h-41zM611 134h44v2h-44zM611 131h44v1h-44zM611 128h44v2h-44zM611 122h44v1h-44zM611 118h44v1h-44z"/>
<path fill="#453781" d="M611 119h44v1h-44zM611 114h44v3h-44zM611 105h44v2h-44z"/>
<path fill="#443a83" d="M611 117h44v1h-44zM611 107h44v7h-44zM611 104h44v1h-44z"/>
<path fill="#433d84" d="M611 103h44v1h-44zM611 95h44v7h-44z"/>
<path fill="#424086" d="M611 102h44v1h-44zM611 93h44v2h-44z"/>
<path fill="#414487" d="M611 92h44v1h-44z"/>
<path fill="#27808e" d="M482 109h43v2h-43z"/>
<path fill="#26828e" d="M482 94h43v1h-43zM568 310h43v1h-43zM568 257h43v1h-43z"/>
<path fill="#25848e" d="M482 95h43v1h-43zM482 92h43v2h-43zM568 324h43v1h-43zM568 301h43v1h-43zM568 285h43v2h-43zM568 282h43v1h-43zM568 275h43v2h-43zM568 256h43v1h-43z"/>
<path fill="#24878e" d="M482 111h43v1h-43zM482 108h43v1h-43zM482 100h43v1h-43zM482 96h43v1h-43zM568 325h43v1h-43zM568 314h43v1h-43zM568 305h43v2h-43zM568 295h43v1h-43zM568 292h43v1h-43zM568 283h43v2h-43zM568 255h43v1h-43z"/>
<path fill="#238a8d" d="M482 112h43v1h-43zM482 106h43v1h-43zM482 103h43v1h-43zM568 311h43v1h-43zM568 308h43v2h-43zM568 299h43v1h-43zM568 294h43v1h-43zM568 287h43v1h-43zM568 268h43v1h-43zM568 263h43v2h-43zM568 244h43v1h-43zM568 236h43v1h-43zM568 225h43v1h-43z"/>
<path fill="#228c8d" d="M482 197h43v1h-43zM482 117h43v1h-43zM482 113h43v1h-43zM482 107h43v1h-43zM482 101h43v2h-43zM482 99h43v1h-43zM482 97h43v1h-43zM568 339h43v2h-43zM568 323h43v1h-43zM568 320h43v2h-43zM568 313h43v1h-43zM568 296h43v2h-43zM568 290h43v2h-43zM568 280h43v2h-43zM568 277h43v2h-43zM568 271h43v1h-43zM568 249h43v3h-43zM568 243h43v1h-43zM568 233h43v1h-43z"/>
<path fill="#218f8d" d="M482 310h43v1h-43zM482 116h43v1h-43zM482 114h43v1h-43zM482 104h43v2h-43zM482 98h43v1h-43zM568 342h43v1h-43zM568 329h43v1h-43zM568 322h43v1h-43zM568 307h43v1h-43zM568 302h43v1h-43zM568 300h43v1h-43zM568 298h43v1h-43zM568 293h43v1h-43zM568 288h43v2h-43zM568 279h43v1h-43zM568 274h43v1h-43zM568 272h43v1h-43zM568 269h43v2h-43zM568 267h43v1h-43zM568 258h43v1h-43zM568 254h43v1h-43zM568 240h43v1h-43zM568 237h43v1h-43zM568 235h43v1h-43zM568 226h43v1h-43zM568 224h43v1h-43zM568 217h43v1h-43z"/>
<path fill="#20928c" d="M482 126h43v2h-43zM482 120h43v1h-43zM482 115h43v1h-43zM568 341h43v1h-43zM568 326h43v1h-43zM568 319h43v1h-43zM568 315h43v1h-43zM568 312h43v1h-43zM568 273h43v1h-43zM568 253h43v1h-43zM568 234h43v1h-43zM568 232h43v1h-43zM568 227h43v4h-43z"/>
<path fill="#1f948c" d="M482 128h43v2h-43zM482 125h43v1h-43zM482 121h43v1h-43zM482 118h43v2h-43zM568 343h43v2h-43zM568 333h43v2h-43zM568 304h43v1h-43zM568 262h43v1h-43zM568 252h43v1h-43zM568 242h43v1h-43zM568 238h43v2h-43z"/>
<path fill="#1f968b" d="M482 200h43v1h-43zM482 135h43v1h-43zM482 130h43v1h-43zM568 345h43v1h-43zM568 328h43v1h-43zM568 318h43v1h-43zM568 316h43v1h-43zM568 303h43v1h-43zM568 260h43v1h-43zM568 247h43v1h-43zM568 245h43v1h-43zM568 231h43v1h-43zM568 223h43v1h-43zM568 220h43v1h-43z"/>
<path fill="#1f998a" d="M482 275h43v1h-43zM482 136h43v1h-43zM482 133h43v1h-43zM482 122h43v3h-43zM568 338h43v1h-43zM568 331h43v1h-43zM568 327h43v1h-43zM568 317h43v1h-43zM568 265h43v2h-43zM568 259h43v1h-43zM568 241h43v1h-43zM568 219h43v1h-43zM568 216h43v1h-43z"/>
<path fill="#1e9c89" d="M482 141h43v1h-43zM482 137h43v1h-43zM482 134h43v1h-43zM482 131h43v2h-43zM568 348h43v2h-43zM568 337h43v1h-43zM568 335h43v1h-43zM568 332h43v1h-43zM568 330h43v1h-43zM568 248h43v1h-43zM568 246h43v1h-43zM568 221h43v2h-43zM568 218h43v1h-43zM568 207h43v1h-43z"/>
<path fill="#1f9e89" d="M482 147h43v2h-43zM482 142h43v1h-43zM568 336h43v1h-43zM568 208h43v3h-43zM568 197h43v1h-43z"/>
<path fill="#1fa188" d="M482 143h43v4h-43zM482 140h43v1h-43zM482 138h43v1h-43zM568 346h43v2h-43zM568 261h43v1h-43zM568 211h43v5h-43zM568 195h43v2h-43z"/>
<path fill="#20a386" d="M482 340h43v1h-43zM482 149h43v1h-43zM482 139h43v1h-43zM568 203h43v1h-43zM568 198h43v2h-43z"/>
<path fill="#21a585" d="M482 309h43v1h-43zM482 159h43v2h-43zM482 157h43v1h-43zM482 151h43v1h-43zM568 205h43v1h-43zM568 201h43v2h-43zM568 194h43v1h-43z"/>
<path fill="#22a884" d="M482 155h43v1h-43zM482 153h43v1h-43zM482 150h43v1h-43zM568 204h43v1h-43zM568 192h43v2h-43zM568 185h43v3h-43z"/>
<path fill="#25ab82" d="M482 167h43v2h-43zM482 164h43v1h-43zM482 158h43v1h-43zM482 154h43v1h-43zM482 152h43v1h-43zM568 206h43v1h-43zM568 188h43v1h-43zM568 184h43v1h-43z"/>
<path fill="#26ad81" d="M482 196h43v1h-43zM482 177h43v1h-43zM482 166h43v1h-43zM482 162h43v2h-43zM482 156h43v1h-43zM568 200h43v1h-43zM568 190h43v1h-43zM568 183h43v1h-43z"/>
<path fill="#29af7f" d="M482 279h43v1h-43zM482 176h43v1h-43zM482 165h43v1h-43zM482 161h43v1h-43zM568 189h43v1h-43zM568 182h43v1h-43z"/>
<path fill="#2db27d" d="M482 332h43v1h-43zM482 170h43v1h-43zM568 191h43v1h-43z"/>
<path fill="#31b57b" d="M482 253h43v1h-43zM482 199h43v1h-43zM482 178h43v1h-43zM482 171h43v2h-43zM482 169h43v1h-43zM568 181h43v1h-43zM568 173h43v1h-43z"/>
<path fill="#34b679" d="M482 282h43v1h-43zM482 267h43v1h-43zM482 205h43v1h-43zM482 192h43v1h-43zM482 179h43v2h-43zM482 173h43v2h-43zM568 179h43v2h-43zM568 174h43v2h-43z"/>
<path fill="#38b977" d="M482 185h43v1h-43zM482 175h43v1h-43zM568 178h43v1h-43zM568 176h43v1h-43zM568 172h43v1h-43z"/>
<path fill="#3dbc74" d="M482 189h43v1h-43zM482 186h43v1h-43zM482 184h43v1h-43zM568 177h43v1h-43z"/>
<path fill="#40bd72" d="M482 287h43v1h-43zM482 194h43v1h-43zM482 187h43v2h-43zM482 183h43v1h-43zM568 171h43v1h-43zM568 166h43v1h-43zM568 160h43v1h-43z"/>
<path fill="#46c06f" d="M482 335h43v1h-43zM482 274h43v1h-43zM482 191h43v1h-43zM482 181h43v1h-43zM568 170h43v1h-43zM568 167h43v2h-43zM568 162h43v1h-43z"/>
<path fill="#4cc26c" d="M482 198h43v1h-43zM482 193h43v1h-43zM482 190h43v1h-43zM482 182h43v1h-43zM568 169h43v1h-43zM568 163h43v2h-43zM568 161h43v1h-43z"/>
<path fill="#50c46a" d="M482 346h43v1h-43zM482 266h43v1h-43zM482 218h43v1h-43zM482 195h43v1h-43zM568 165h43v1h-43z"/>
<path fill="#56c667" d="M482 219h43v1h-43zM482 216h43v1h-43zM482 204h43v1h-43zM568 156h43v2h-43zM568 153h43v1h-43z"/>
<path fill="#5cc863" d="M482 345h43v1h-43zM482 334h43v1h-43zM482 293h43v1h-43zM482 285h43v2h-43zM482 222h43v1h-43zM482 220h43v1h-43zM482 217h43v1h-43zM482 213h43v1h-43zM482 209h43v1h-43zM482 206h43v1h-43zM482 201h43v2h-43zM568 159h43v1h-43zM568 154h43v2h-43z"/>
<path fill="#63cb5f" d="M482 294h43v1h-43zM482 226h43v2h-43zM482 224h43v1h-43zM482 214h43v2h-43zM568 158h43v1h-43zM568 149h43v1h-43zM568 143h43v1h-43z"/>
<path fill="#67cc5c" d="M482 339h43v1h-43zM482 329h43v1h-43zM482 303h43v1h-43zM482 299h43v1h-43zM482 295h43v1h-43zM482 288h43v1h-43zM482 236h43v1h-43zM482 225h43v1h-43zM482 221h43v1h-43zM482 211h43v1h-43zM482 208h43v1h-43zM482 203h43v1h-43zM568 144h43v2h-43zM568 142h43v1h-43z"/>
<path fill="#6ece58" d="M482 331h43v1h-43zM482 328h43v1h-43zM482 315h43v2h-43zM482 302h43v1h-43zM482 278h43v1h-43zM482 223h43v1h-43zM482 210h43v1h-43zM482 207h43v1h-43zM568 150h43v3h-43zM568 137h43v4h-43z"/>
<path fill="#75d054" d="M482 344h43v1h-43zM482 317h43v1h-43zM482 304h43v1h-43zM482 289h43v4h-43zM482 272h43v1h-43zM482 261h43v1h-43zM482 244h43v5h-43zM482 240h43v1h-43zM482 235h43v1h-43zM482 228h43v2h-43zM568 146h43v1h-43zM568 141h43v1h-43zM568 135h43v1h-43z"/>
<path fill="#7ad151" d="M482 347h43v1h-43zM482 343h43v1h-43zM482 325h43v1h-43zM482 312h43v2h-43zM482 281h43v1h-43zM482 268h43v1h-43zM482 265h43v1h-43zM482 255h43v1h-43zM482 241h43v1h-43zM482 238h43v1h-43zM482 212h43v1h-43zM568 136h43v1h-43zM568 125h43v1h-43zM568 122h43v1h-43z"/>
<path fill="#81d34d" d="M482 348h43v2h-43zM482 342h43v1h-43zM482 326h43v2h-43zM482 314h43v1h-43zM482 307h43v2h-43zM482 300h43v1h-43zM482 262h43v1h-43zM482 260h43v1h-43zM482 254h43v1h-43zM482 239h43v1h-43zM482 234h43v1h-43zM482 231h43v1h-43zM568 147h43v2h-43zM568 134h43v1h-43zM568 126h43v2h-43zM568 123h43v2h-43zM568 121h43v1h-43z"/>
<path fill="#89d548" d="M482 336h43v1h-43zM482 318h43v1h-43zM482 311h43v1h-43zM482 306h43v1h-43zM482 296h43v2h-43zM482 284h43v1h-43zM482 280h43v1h-43zM482 273h43v1h-43zM482 271h43v1h-43zM482 269h43v1h-43zM482 264h43v1h-43zM482 237h43v1h-43zM568 132h43v2h-43z"/>
<path fill="#8ed645" d="M482 341h43v1h-43zM482 337h43v1h-43zM482 330h43v1h-43zM482 324h43v1h-43zM482 270h43v1h-43zM482 256h43v1h-43zM482 242h43v1h-43zM482 233h43v1h-43zM482 230h43v1h-43zM568 106h43v1h-43z"/>
<path fill="#95d840" d="M482 276h43v1h-43zM482 250h43v3h-43zM482 243h43v1h-43zM568 129h43v2h-43zM568 120h43v1h-43zM568 118h43v1h-43z"/>
<path fill="#9dd93b" d="M482 338h43v1h-43zM482 323h43v1h-43zM482 305h43v1h-43zM482 301h43v1h-43zM482 298h43v1h-43zM482 283h43v1h-43zM482 277h43v1h-43zM482 259h43v1h-43zM482 232h43v1h-43zM568 131h43v1h-43zM568 128h43v1h-43zM568 115h43v1h-43zM568 107h43v1h-43zM568 105h43v1h-43z"/>
<path fill="#a2da37" d="M482 333h43v1h-43zM482 322h43v1h-43zM482 263h43v1h-43zM568 119h43v1h-43zM568 116h43v2h-43zM568 114h43v1h-43zM568 108h43v1h-43zM568 101h43v1h-43zM568 96h43v1h-43z"/>
<path fill="#aadc32" d="M482 320h43v2h-43zM482 257h43v1h-43zM482 249h43v1h-43zM568 104h43v1h-43zM568 99h43v1h-43zM568 94h43v2h-43z"/>
<path fill="#b2dd2d" d="M482 258h43v1h-43zM568 112h43v2h-43zM568 109h43v2h-43zM568 103h43v1h-43zM568 93h43v1h-43z"/>
<path fill="#bade28" d="M525 310h43v1h-43zM568 102h43v1h-43zM568 100h43v1h-43zM568 97h43v1h-43zM568 92h43v1h-43z"/>
<path fill="#c0df25" d="M568 111h43v1h-43zM568 98h43v1h-43z"/>
<path fill="#c8e020" d="M482 319h43v1h-43zM525 325h43v1h-43zM525 309h43v1h-43zM525 292h43v1h-43zM525 282h43v1h-43z"/>
<path fill="#d5e21a" d="M525 345h43v1h-43zM525 339h43v2h-43zM525 324h43v1h-43zM525 308h43v1h-43zM525 294h43v2h-43zM525 290h43v1h-43zM525 287h43v2h-43zM525 275h43v1h-43zM525 256h43v1h-43zM525 244h43v1h-43z"/>
<path fill="#dde318" d="M525 342h43v1h-43zM525 314h43v2h-43zM525 306h43v1h-43zM525 301h43v1h-43zM525 296h43v1h-43zM525 293h43v1h-43zM525 285h43v2h-43z"/>
<path fill="#e5e419" d="M525 344h43v1h-43zM525 313h43v1h-43zM525 311h43v1h-43zM525 302h43v1h-43zM525 299h43v1h-43zM525 268h43v1h-43zM525 236h43v2h-43zM525 224h43v3h-43z"/>
<path fill="#eae51a" d="M525 326h43v1h-43zM525 316h43v1h-43zM525 291h43v1h-43zM525 289h43v1h-43zM525 283h43v2h-43zM525 279h43v3h-43zM525 274h43v1h-43zM525 272h43v1h-43zM525 264h43v1h-43zM525 257h43v1h-43zM525 255h43v1h-43zM525 243h43v1h-43zM525 234h43v1h-43zM525 218h43v1h-43z"/>
<path fill="#f1e51d" d="M525 348h43v2h-43zM525 346h43v1h-43zM525 343h43v1h-43zM525 317h43v1h-43zM525 307h43v1h-43zM525 304h43v1h-43zM525 297h43v2h-43zM525 276h43v2h-43zM525 269h43v1h-43zM525 238h43v1h-43zM525 235h43v1h-43zM525 216h43v2h-43z"/>
<path fill="#f8e621" d="M525 341h43v1h-43zM525 334h43v1h-43zM525 331h43v2h-43zM525 327h43v1h-43zM525 322h43v2h-43zM525 312h43v1h-43zM525 305h43v1h-43zM525 263h43v1h-43zM525 254h43v1h-43zM525 250h43v2h-43zM525 242h43v1h-43zM525 240h43v1h-43zM525 233h43v1h-43zM525 227h43v1h-43zM525 219h43v1h-43z"/>
<path fill="#fde725" d="M525 347h43v1h-43zM525 335h43v4h-43zM525 333h43v1h-43zM525 328h43v3h-43zM525 318h43v4h-43zM525 303h43v1h-43zM525 300h43v1h-43zM525 278h43v1h-43zM525 273h43v1h-43zM525 270h43v2h-43zM525 265h43v3h-43zM525 258h43v5h-43zM525 252h43v2h-43zM525 245h43v5h-43zM525 241h43v1h-43zM525 239h43v1h-43zM525 228h43v5h-43zM525 220h43v4h-43zM525 92h43v124h-43z"/>
</g>
<clipPath id="c2"><rect x="441.5" y="92.5" width="216" height="257"/></clipPath>
<g clip-path="url(#c2)" fill="none" stroke-linecap="butt">
<polyline stroke="#808080" stroke-width="2.08" points="543,349.3 542.55,346.04 542.12,342.79 541.7,339.53 541.3,336.27 540.93,333.02 540.56,329.76 540.22,326.5 539.89,323.24 539.58,319.99 539.29,316.73 539.02,313.47 538.76,310.22 538.52,306.96 538.3,303.7 538.1,300.45 537.91,297.19 537.74,293.93 537.59,290.67 537.46,287.42 537.34,284.16 537.24,280.9 537.16,277.65 537.1,274.39 537.05,271.13 537.02,267.88 537.01,264.62 537.02,261.36 537.04,258.11 537.08,254.85 537.14,251.59 537.22,248.33 537.31,245.08 537.43,241.82 537.55,238.56 537.7,235.31 537.87,232.05 538.05,228.79 538.25,225.54 538.46,222.28 538.7,219.02 538.95,215.76 539.22,212.51 539.51,209.25 539.81,205.99 540.13,202.74 540.47,199.48 540.83,196.22 541.2,192.97 541.59,189.71 542,186.45 542.43,183.19 542.88,179.94 543.34,176.68 543.82,173.42 544.32,170.17 544.83,166.91 545.36,163.65 545.91,160.4 546.48,157.14 547.06,153.88 547.67,150.63 548.29,147.37 548.92,144.11 549.58,140.85 550.25,137.6 550.94,134.34 551.65,131.08 552.37,127.83 553.12,124.57 553.88,121.31 554.65,118.06 555.45,114.8 556.26,111.54 557.09,108.28 557.94,105.03 558.8,101.77 559.69,98.51 560.59,95.26 561.5,92"/>
<polyline stroke="#ff0000" stroke-width="2.78" points="543,349.3 542.7,347.18 542.41,345.06 542.14,342.93 541.86,340.81 541.6,338.69 541.34,336.57 541.09,334.45 540.85,332.33 540.61,330.2 540.38,328.08 540.16,325.96 539.95,323.84 539.75,321.72 539.55,319.6 539.36,317.47 539.17,315.35 539,313.23 538.83,311.11 538.67,308.99 538.52,306.87 538.37,304.74 538.23,302.62 538.1,300.5 537.98,298.38 537.86,296.26 537.75,294.13 537.65,292.01 537.56,289.89 537.47,287.77 537.39,285.65 537.32,283.53 537.26,281.4 537.2,279.28 537.15,277.16 537.11,275.04 537.08,272.92 537.05,270.8 537.03,268.67 537.02,266.55"/>
<polyline stroke="#ff0000" stroke-width="2.78" points="538.14,227.24 538.24,225.6 538.35,223.96 538.46,222.33 538.58,220.69 538.7,219.06 538.82,217.42 538.95,215.78 539.08,214.15 539.22,212.51 539.36,210.88 539.51,209.24 539.66,207.6 539.81,205.97 539.97,204.33 540.14,202.69 540.3,201.06 540.48,199.42 540.65,197.79 540.84,196.15 541.02,194.51 541.21,192.88 541.41,191.24 541.61,189.61 541.81,187.97 542.02,186.33 542.23,184.7 542.45,183.06 542.67,181.42 542.9,179.79 543.13,178.15 543.36,176.52 543.6,174.88 543.85,173.24 544.09,171.61 544.35,169.97 544.6,168.33 544.86,166.7 545.13,165.06 545.4,163.43"/>
<polyline stroke="#ff0000" stroke-width="2.78" points="548.85,144.49 549.12,143.14 549.39,141.8 549.66,140.45 549.94,139.11 550.22,137.76 550.5,136.41 550.78,135.07 551.07,133.72 551.37,132.38 551.66,131.03 551.96,129.68 552.26,128.34 552.56,126.99 552.87,125.65 553.18,124.3 553.49,122.96 553.81,121.61 554.12,120.26 554.45,118.92 554.77,117.57 555.1,116.23 555.43,114.88 555.76,113.53 556.1,112.19 556.44,110.84 556.78,109.5 557.13,108.15 557.47,106.8 557.83,105.46 558.18,104.11 558.54,102.77 558.9,101.42 559.26,100.08 559.63,98.73 560,97.38 560.37,96.04 560.75,94.69 561.12,93.35 561.5,92"/>
</g>
<rect x="441.5" y="92.5" width="216" height="257" fill="none" stroke="#000" stroke-width="1.11"/>
<path d="M460.5 349.5v4.86M504.5 349.5v4.86M547.5 349.5v4.86M590.5 349.5v4.86M633.5 349.5v4.86M441.5 348.5h-4.86M441.5 297.5h-4.86M441.5 245.5h-4.86M441.5 194.5h-4.86M441.5 142.5h-4.86" stroke="#000" stroke-width="1.11" fill="none"/>
<g font-size="13.89" text-anchor="middle">
<text x="460.92" y="369.9">76</text>
<text x="504.07" y="369.9">77</text>
<text x="547.22" y="369.9">78</text>
<text x="590.37" y="369.9">79</text>
<text x="633.52" y="369.9">80</text>
</g>
<g font-size="13.89" text-anchor="end">
<text x="431.1" y="354">0</text>
<text x="431.1" y="302">50</text>
<text x="431.1" y="251">100</text>
<text x="431.1" y="199">150</text>
<text x="431.1" y="148">200</text>
</g>
<text font-size="13.89" text-anchor="middle" x="548.77" y="388.7">X axis (array index)</text>
<text font-size="13.89" text-anchor="middle" transform="translate(396.1 220.65) rotate(-90)">Y axis (array index)</text>
<text font-size="16.67" text-anchor="middle" x="548.88" y="83">C distortion: line #2/8 (deg.: 2)</text>
<rect x="662.5" y="92.5" width="11" height="257" fill="url(#vir)" stroke="#000" stroke-width="1.11"/>
<path d="M673.5 303.5h4.86M673.5 254.5h4.86M673.5 205.5h4.86M673.5 157.5h4.86M673.5 108.5h4.86" stroke="#000" stroke-width="1.11" fill="none"/>
<g font-size="13.89">
<text x="683.1" y="308">2000</text>
<text x="683.1" y="260">4000</text>
<text x="683.1" y="211">6000</text>
<text x="683.1" y="162">8000</text>
<text x="683.1" y="113">10000</text>
</g>
<text font-size="13.89" text-anchor="middle" transform="translate(741.7 220.65) rotate(-90)">Number of counts</text>
</g>
<g id="p3">
<g shape-rendering="crispEdges">
<path fill="#440154" d="M1022 346h12v1h-12zM1022 343h12v2h-12zM1022 336h12v1h-12zM1022 324h12v3h-12zM1022 309h12v1h-12zM1022 285h12v2h-12zM1022 283h12v1h-12zM1022 281h12v1h-12zM1022 271h12v1h-12zM1022 230h12v1h-12z"/>
<path fill="#450457" d="M817 98h32v2h-32zM1022 347h12v3h-12zM1022 345h12v1h-12zM1022 337h12v6h-12zM1022 329h12v7h-12zM1022 327h12v1h-12zM1022 310h12v14h-12zM1022 288h12v21h-12zM1022 284h12v1h-12zM1022 282h12v1h-12zM1022 273h12v8h-12zM1022 269h12v2h-12zM1022 259h12v9h-12zM1022 253h12v5h-12zM1022 249h12v3h-12zM1022 244h12v2h-12zM1022 236h12v7h-12zM1022 231h12v4h-12zM1022 229h12v1h-12zM1022 225h12v3h-12zM1022 221h12v2h-12zM1022 218h12v2h-12zM1022 214h12v2h-12zM1022 209h12v3h-12zM1022 206h12v2h-12zM1022 203h12v2h-12zM1022 198h12v4h-12zM1022 192h12v5h-12zM1022 185h12v3h-12zM1022 178h12v5h-12zM1022 174h12v3h-12zM1022 172h12v1h-12zM1022 167h12v4h-12zM1022 165h12v1h-12zM1022 158h12v2h-12zM1022 156h12v1h-12zM1022 154h12v1h-12zM1022 150h12v1h-12zM1022 146h12v1h-12zM1022 141h12v1h-12zM1022 138h12v1h-12zM1022 130h12v1h-12zM1022 126h12v1h-12zM1022 124h12v1h-12zM1022 114h12v2h-12zM1022 103h12v1h-12zM1022 100h12v1h-12zM1022 96h12v1h-12z"/>
<path fill="#46085c" d="M817 134h32v2h-32zM817 132h32v1h-32zM817 130h32v1h-32zM817 128h32v1h-32zM817 119h32v8h-32zM817 108h32v10h-32zM817 104h32v3h-32zM817 100h32v3h-32zM817 96h32v2h-32zM817 92h32v3h-32zM1022 328h12v1h-12zM1022 287h12v1h-12zM1022 272h12v1h-12zM1022 268h12v1h-12zM1022 258h12v1h-12zM1022 252h12v1h-12zM1022 246h12v3h-12zM1022 243h12v1h-12zM1022 235h12v1h-12zM1022 228h12v1h-12zM1022 223h12v2h-12zM1022 220h12v1h-12zM1022 216h12v2h-12zM1022 212h12v2h-12zM1022 208h12v1h-12zM1022 205h12v1h-12zM1022 202h12v1h-12zM1022 197h12v1h-12zM1022 188h12v4h-12zM1022 183h12v2h-12zM1022 177h12v1h-12zM1022 173h12v1h-12zM1022 171h12v1h-12zM1022 166h12v1h-12zM1022 160h12v5h-12zM1022 157h12v1h-12zM1022 155h12v1h-12zM1022 151h12v3h-12zM1022 147h12v3h-12zM1022 142h12v4h-12zM1022 139h12v2h-12zM1022 132h12v6h-12zM1022 127h12v2h-12zM1022 125h12v1h-12zM1022 116h12v8h-12zM1022 104h12v10h-12zM1022 101h12v2h-12zM1022 97h12v3h-12zM1022 92h12v4h-12z"/>
<path fill="#470d60" d="M817 178h32v1h-32zM817 174h32v1h-32zM817 171h32v1h-32zM817 163h32v1h-32zM817 161h32v1h-32zM817 151h32v9h-32zM817 136h32v14h-32zM817 133h32v1h-32zM817 131h32v1h-32zM817 129h32v1h-32zM817 127h32v1h-32zM817 118h32v1h-32zM817 107h32v1h-32zM817 103h32v1h-32zM817 95h32v1h-32zM1022 131h12v1h-12zM1022 129h12v1h-12z"/>
<path fill="#471063" d="M817 200h32v2h-32zM817 197h32v2h-32zM817 194h32v1h-32zM817 186h32v4h-32zM817 183h32v1h-32zM817 179h32v3h-32zM817 175h32v3h-32zM817 172h32v2h-32zM817 165h32v5h-32zM817 162h32v1h-32zM817 160h32v1h-32zM817 150h32v1h-32z"/>
<path fill="#481467" d="M817 309h32v2h-32zM817 225h32v2h-32zM817 222h32v1h-32zM817 218h32v3h-32zM817 214h32v3h-32zM817 211h32v1h-32zM817 202h32v8h-32zM817 199h32v1h-32zM817 195h32v2h-32zM817 190h32v4h-32zM817 184h32v2h-32zM817 182h32v1h-32zM817 170h32v1h-32zM817 164h32v1h-32zM978 344h44v1h-44zM978 342h44v1h-44zM978 338h44v2h-44zM978 326h44v1h-44zM978 324h44v1h-44zM978 313h44v1h-44zM978 309h44v1h-44zM978 305h44v2h-44zM978 283h44v5h-44zM978 275h44v1h-44zM978 239h44v1h-44z"/>
<path fill="#48186a" d="M817 344h32v6h-32zM817 340h32v1h-32zM817 334h32v2h-32zM817 331h32v2h-32zM817 325h32v1h-32zM817 315h32v1h-32zM817 313h32v1h-32zM817 307h32v1h-32zM817 302h32v3h-32zM817 299h32v1h-32zM817 296h32v1h-32zM817 292h32v2h-32zM817 290h32v1h-32zM817 285h32v3h-32zM817 282h32v1h-32zM817 279h32v1h-32zM817 277h32v1h-32zM817 275h32v1h-32zM817 273h32v1h-32zM817 265h32v5h-32zM817 260h32v3h-32zM817 253h32v1h-32zM817 244h32v5h-32zM817 238h32v4h-32zM817 235h32v1h-32zM817 231h32v1h-32zM817 227h32v3h-32zM817 223h32v2h-32zM817 221h32v1h-32zM817 217h32v1h-32zM817 212h32v2h-32zM817 210h32v1h-32zM978 345h44v5h-44zM978 343h44v1h-44zM978 341h44v1h-44zM978 333h44v5h-44zM978 327h44v5h-44zM978 325h44v1h-44zM978 319h44v5h-44zM978 317h44v1h-44zM978 314h44v2h-44zM978 310h44v3h-44zM978 307h44v2h-44zM978 288h44v16h-44zM978 276h44v6h-44zM978 274h44v1h-44zM978 268h44v5h-44zM978 263h44v2h-44zM978 255h44v4h-44zM978 253h44v1h-44zM978 249h44v3h-44zM978 235h44v1h-44z"/>
<path fill="#481b6d" d="M817 342h32v2h-32zM817 336h32v4h-32zM817 333h32v1h-32zM817 326h32v5h-32zM817 324h32v1h-32zM817 320h32v2h-32zM817 316h32v2h-32zM817 314h32v1h-32zM817 312h32v1h-32zM817 308h32v1h-32zM817 300h32v1h-32zM817 297h32v2h-32zM817 294h32v2h-32zM817 291h32v1h-32zM817 288h32v2h-32zM817 283h32v2h-32zM817 280h32v2h-32zM817 278h32v1h-32zM817 276h32v1h-32zM817 274h32v1h-32zM817 272h32v1h-32zM817 270h32v1h-32zM817 263h32v1h-32zM817 259h32v1h-32zM817 254h32v3h-32zM817 252h32v1h-32zM817 249h32v1h-32zM817 242h32v2h-32zM817 236h32v2h-32zM817 232h32v3h-32zM817 230h32v1h-32zM978 340h44v1h-44zM978 332h44v1h-44zM978 318h44v1h-44zM978 316h44v1h-44zM978 304h44v1h-44zM978 282h44v1h-44zM978 273h44v1h-44zM978 265h44v3h-44zM978 259h44v1h-44zM978 254h44v1h-44zM978 252h44v1h-44zM978 248h44v1h-44zM978 246h44v1h-44zM978 242h44v3h-44zM978 240h44v1h-44zM978 236h44v3h-44zM978 230h44v5h-44zM978 224h44v3h-44zM978 217h44v1h-44z"/>
<path fill="#481f70" d="M817 341h32v1h-32zM817 322h32v2h-32zM817 318h32v2h-32zM817 311h32v1h-32zM817 305h32v2h-32zM817 301h32v1h-32zM817 271h32v1h-32zM817 264h32v1h-32zM817 257h32v2h-32zM817 250h32v2h-32zM978 260h44v3h-44zM978 247h44v1h-44zM978 245h44v1h-44zM978 241h44v1h-44zM978 227h44v3h-44zM978 223h44v1h-44zM978 221h44v1h-44zM978 218h44v2h-44zM978 214h44v2h-44zM978 209h44v1h-44zM978 207h44v1h-44z"/>
<path fill="#482374" d="M978 222h44v1h-44zM978 220h44v1h-44zM978 216h44v1h-44zM978 210h44v4h-44zM978 208h44v1h-44zM978 206h44v1h-44zM978 202h44v1h-44zM978 196h44v4h-44zM978 191h44v2h-44zM978 184h44v2h-44z"/>
<path fill="#482576" d="M978 203h44v3h-44zM978 200h44v2h-44zM978 193h44v3h-44zM978 188h44v3h-44zM978 186h44v1h-44zM978 183h44v1h-44z"/>
<path fill="#482979" d="M978 187h44v1h-44zM978 182h44v1h-44zM978 176h44v1h-44zM978 174h44v1h-44zM978 172h44v1h-44z"/>
<path fill="#472d7b" d="M978 178h44v4h-44zM978 175h44v1h-44zM978 173h44v1h-44zM978 171h44v1h-44zM978 169h44v1h-44zM978 162h44v1h-44z"/>
<path fill="#46307e" d="M978 177h44v1h-44zM978 170h44v1h-44zM978 167h44v2h-44zM978 165h44v1h-44zM978 163h44v1h-44zM978 160h44v1h-44zM978 154h44v1h-44z"/>
<path fill="#46337f" d="M978 166h44v1h-44zM978 164h44v1h-44zM978 161h44v1h-44zM978 157h44v3h-44zM978 155h44v1h-44zM978 152h44v2h-44z"/>
<path fill="#453781" d="M978 156h44v1h-44zM978 149h44v3h-44zM978 140h44v6h-44z"/>
<path fill="#443a83" d="M978 146h44v3h-44zM978 138h44v2h-44z"/>
<path fill="#433d84" d="M978 137h44v1h-44zM978 135h44v1h-44z"/>
<path fill="#424086" d="M978 136h44v1h-44zM978 134h44v1h-44zM978 132h44v1h-44z"/>
<path fill="#414487" d="M978 133h44v1h-44zM978 130h44v1h-44zM978 122h44v5h-44z"/>
<path fill="#404688" d="M978 131h44v1h-44zM978 127h44v2h-44zM978 121h44v1h-44z"/>
<path fill="#3e4989" d="M978 129h44v1h-44zM978 120h44v1h-44z"/>
<path fill="#3d4d8a" d="M978 117h44v3h-44zM978 114h44v1h-44z"/>
<path fill="#3c4f8a" d="M978 115h44v2h-44zM978 107h44v1h-44z"/>
<path fill="#3b528b" d="M978 113h44v1h-44zM978 109h44v2h-44zM978 105h44v2h-44z"/>
<path fill="#39558c" d="M978 111h44v2h-44zM978 108h44v1h-44zM978 104h44v1h-44z"/>
<path fill="#38598c" d="M849 93h43v1h-43zM978 101h44v3h-44zM978 99h44v1h-44z"/>
<path fill="#375b8d" d="M849 96h43v1h-43zM849 94h43v1h-43zM849 92h43v1h-43zM978 100h44v1h-44zM978 95h44v4h-44z"/>
<path fill="#355e8d" d="M849 109h43v2h-43zM849 100h43v1h-43zM849 95h43v1h-43zM978 94h44v1h-44z"/>
<path fill="#34618d" d="M849 97h43v1h-43zM978 93h44v1h-44z"/>
<path fill="#33638d" d="M849 98h43v2h-43zM978 92h44v1h-44z"/>
<path fill="#31668e" d="M849 108h43v1h-43zM849 105h43v1h-43zM849 101h43v2h-43z"/>
<path fill="#30698e" d="M849 111h43v2h-43zM849 106h43v2h-43zM849 103h43v2h-43z"/>
<path fill="#2f6b8e" d="M849 116h43v1h-43z"/>
<path fill="#2e6e8e" d="M849 113h43v3h-43z"/>
<path fill="#2d718e" d="M849 126h43v2h-43zM849 117h43v4h-43z"/>
<path fill="#2c738e" d="M849 128h43v2h-43zM849 121h43v4h-43z"/>
<path fill="#2b758e" d="M849 134h43v2h-43zM849 132h43v1h-43zM849 130h43v1h-43z"/>
<path fill="#2a788e" d="M849 197h43v1h-43zM849 136h43v1h-43zM849 133h43v1h-43zM849 125h43v1h-43z"/>
<path fill="#297b8e" d="M849 148h43v1h-43zM849 137h43v2h-43zM849 131h43v1h-43z"/>
<path fill="#287d8e" d="M849 310h43v1h-43zM849 146h43v2h-43zM849 143h43v1h-43zM849 141h43v1h-43z"/>
<path fill="#27808e" d="M849 200h43v1h-43zM849 149h43v1h-43zM849 144h43v2h-43zM849 142h43v1h-43zM849 140h43v1h-43z"/>
<path fill="#26828e" d="M849 275h43v1h-43zM849 150h43v1h-43zM849 139h43v1h-43z"/>
<path fill="#25848e" d="M849 155h43v1h-43z"/>
<path fill="#24878e" d="M849 157h43v2h-43zM849 151h43v4h-43z"/>
<path fill="#238a8d" d="M849 340h43v1h-43zM849 159h43v1h-43z"/>
<path fill="#228c8d" d="M849 164h43v1h-43zM849 160h43v1h-43zM849 156h43v1h-43z"/>
<path fill="#218f8d" d="M849 309h43v1h-43zM849 165h43v3h-43zM849 161h43v3h-43z"/>
<path fill="#20928c" d="M849 279h43v1h-43zM849 168h43v1h-43z"/>
<path fill="#1f948c" d="M849 332h43v1h-43zM849 253h43v1h-43zM849 196h43v1h-43zM849 177h43v2h-43z"/>
<path fill="#1f968b" d="M849 176h43v1h-43zM849 174h43v1h-43zM849 169h43v2h-43z"/>
<path fill="#1f998a" d="M849 267h43v1h-43zM849 171h43v1h-43z"/>
<path fill="#1e9c89" d="M849 282h43v1h-43zM849 205h43v1h-43zM849 199h43v1h-43zM849 179h43v2h-43zM849 175h43v1h-43zM849 172h43v2h-43z"/>
<path fill="#1f9e89" d="M849 287h43v1h-43zM849 189h43v1h-43zM849 185h43v2h-43z"/>
<path fill="#1fa188" d="M849 192h43v1h-43zM849 188h43v1h-43zM849 183h43v2h-43zM849 181h43v1h-43z"/>
<path fill="#20a386" d="M849 346h43v1h-43zM849 335h43v1h-43zM849 194h43v1h-43zM849 190h43v2h-43zM849 187h43v1h-43zM849 182h43v1h-43z"/>
<path fill="#21a585" d="M849 274h43v1h-43zM849 216h43v1h-43zM849 198h43v1h-43zM849 193h43v1h-43z"/>
<path fill="#22a884" d="M849 266h43v1h-43zM849 218h43v3h-43zM849 204h43v1h-43zM849 195h43v1h-43zM935 282h43v1h-43zM935 275h43v1h-43zM935 257h43v1h-43z"/>
<path fill="#25ab82" d="M849 339h43v1h-43zM849 334h43v1h-43zM849 293h43v1h-43zM849 285h43v2h-43zM849 225h43v2h-43zM849 221h43v1h-43zM849 217h43v1h-43zM849 214h43v2h-43zM849 201h43v1h-43zM935 292h43v1h-43zM935 256h43v1h-43zM935 225h43v1h-43z"/>
<path fill="#26ad81" d="M849 344h43v2h-43zM849 331h43v1h-43zM849 329h43v1h-43zM849 288h43v1h-43zM849 236h43v1h-43zM849 224h43v1h-43zM849 222h43v1h-43zM849 213h43v1h-43zM849 209h43v1h-43zM849 206h43v1h-43zM849 202h43v1h-43zM935 284h43v3h-43zM935 276h43v1h-43zM935 244h43v1h-43zM935 236h43v1h-43z"/>
<path fill="#29af7f" d="M849 347h43v3h-43zM849 343h43v1h-43zM849 261h43v1h-43zM849 248h43v1h-43zM849 246h43v1h-43zM849 210h43v2h-43zM849 207h43v1h-43zM935 295h43v2h-43zM935 290h43v1h-43zM935 287h43v1h-43zM935 283h43v1h-43zM935 281h43v1h-43zM935 269h43v1h-43zM935 255h43v1h-43zM935 243h43v1h-43zM935 233h43v1h-43z"/>
<path fill="#2db27d" d="M849 328h43v1h-43zM849 316h43v1h-43zM849 302h43v2h-43zM849 299h43v1h-43zM849 294h43v1h-43zM849 278h43v1h-43zM849 260h43v1h-43zM849 247h43v1h-43zM849 244h43v2h-43zM849 240h43v1h-43zM849 227h43v1h-43zM849 223h43v1h-43zM849 208h43v1h-43zM849 203h43v1h-43zM935 339h43v1h-43zM935 294h43v1h-43zM935 291h43v1h-43zM935 280h43v1h-43zM935 277h43v1h-43zM935 268h43v1h-43zM935 263h43v2h-43zM935 258h43v1h-43zM935 249h43v1h-43zM935 240h43v1h-43zM935 237h43v1h-43zM935 234h43v2h-43zM935 226h43v1h-43zM935 217h43v1h-43z"/>
<path fill="#31b57b" d="M849 342h43v1h-43zM849 325h43v1h-43zM849 317h43v1h-43zM849 313h43v2h-43zM849 304h43v1h-43zM849 289h43v2h-43zM849 212h43v1h-43zM935 342h43v1h-43zM935 297h43v2h-43zM935 288h43v1h-43zM935 271h43v1h-43zM935 230h43v1h-43zM935 228h43v1h-43zM935 223h43v2h-43z"/>
<path fill="#34b679" d="M849 336h43v1h-43zM849 315h43v1h-43zM849 311h43v2h-43zM849 307h43v1h-43zM849 295h43v1h-43zM849 291h43v2h-43zM849 281h43v1h-43zM849 272h43v2h-43zM849 254h43v1h-43zM849 241h43v1h-43zM849 237h43v3h-43zM849 234h43v2h-43zM849 228h43v1h-43zM935 301h43v1h-43zM935 299h43v1h-43zM935 293h43v1h-43zM935 289h43v1h-43zM935 278h43v2h-43zM935 274h43v1h-43zM935 272h43v1h-43zM935 262h43v1h-43zM935 254h43v1h-43zM935 250h43v2h-43zM935 232h43v1h-43zM935 227h43v1h-43zM935 220h43v1h-43z"/>
<path fill="#38b977" d="M849 337h43v1h-43zM849 326h43v1h-43zM849 296h43v1h-43zM849 271h43v1h-43zM849 269h43v1h-43zM849 262h43v1h-43zM849 255h43v2h-43zM849 231h43v1h-43zM849 229h43v1h-43zM935 340h43v1h-43zM935 270h43v1h-43zM935 252h43v1h-43zM935 238h43v2h-43zM935 229h43v1h-43zM935 219h43v1h-43zM935 216h43v1h-43z"/>
<path fill="#3dbc74" d="M849 341h43v1h-43zM849 330h43v1h-43zM849 327h43v1h-43zM849 306h43v1h-43zM849 280h43v1h-43zM849 270h43v1h-43zM849 268h43v1h-43zM849 264h43v1h-43zM849 242h43v1h-43zM849 230h43v1h-43zM935 343h43v3h-43zM935 324h43v2h-43zM935 300h43v1h-43zM935 267h43v1h-43zM935 253h43v1h-43zM935 247h43v1h-43zM935 242h43v1h-43zM935 231h43v1h-43zM935 218h43v1h-43zM935 213h43v1h-43z"/>
<path fill="#40bd72" d="M849 318h43v1h-43zM849 308h43v1h-43zM849 300h43v1h-43zM849 297h43v2h-43zM849 284h43v1h-43zM849 277h43v1h-43zM849 265h43v1h-43zM849 252h43v1h-43zM849 243h43v1h-43zM849 232h43v2h-43zM935 341h43v1h-43zM935 309h43v1h-43zM935 273h43v1h-43zM935 245h43v1h-43zM935 241h43v1h-43zM935 221h43v1h-43z"/>
<path fill="#46c06f" d="M849 338h43v1h-43zM849 333h43v1h-43zM849 323h43v1h-43zM849 263h43v1h-43zM849 259h43v1h-43zM935 348h43v2h-43zM935 310h43v1h-43zM935 265h43v2h-43zM935 259h43v1h-43zM935 248h43v1h-43zM935 214h43v2h-43zM935 209h43v3h-43zM935 207h43v1h-43zM935 197h43v1h-43z"/>
<path fill="#4cc26c" d="M849 324h43v1h-43zM849 305h43v1h-43zM849 301h43v1h-43zM849 276h43v1h-43zM849 258h43v1h-43zM849 249h43v3h-43zM935 333h43v1h-43zM935 331h43v1h-43zM935 323h43v1h-43zM935 313h43v1h-43zM935 260h43v1h-43zM935 246h43v1h-43z"/>
<path fill="#50c46a" d="M849 283h43v1h-43zM849 257h43v1h-43zM935 337h43v2h-43zM935 334h43v1h-43zM935 329h43v2h-43zM935 322h43v1h-43zM935 314h43v1h-43zM935 306h43v1h-43zM935 222h43v1h-43zM935 212h43v1h-43zM935 208h43v1h-43zM935 202h43v1h-43zM935 198h43v2h-43zM935 195h43v2h-43z"/>
<path fill="#56c667" d="M849 322h43v1h-43zM935 346h43v1h-43zM935 336h43v1h-43zM935 320h43v2h-43zM935 311h43v1h-43zM935 308h43v1h-43zM935 305h43v1h-43zM935 203h43v1h-43zM935 201h43v1h-43zM935 187h43v1h-43z"/>
<path fill="#5cc863" d="M849 320h43v2h-43zM935 347h43v1h-43zM935 335h43v1h-43zM935 327h43v1h-43zM935 319h43v1h-43zM935 315h43v1h-43zM935 307h43v1h-43zM935 302h43v1h-43zM935 261h43v1h-43zM935 205h43v1h-43zM935 188h43v1h-43zM935 184h43v3h-43z"/>
<path fill="#63cb5f" d="M849 319h43v1h-43zM935 332h43v1h-43zM935 328h43v1h-43zM935 326h43v1h-43zM935 316h43v2h-43zM935 204h43v1h-43zM935 192h43v3h-43zM935 183h43v1h-43z"/>
<path fill="#67cc5c" d="M935 304h43v1h-43zM935 190h43v1h-43z"/>
<path fill="#6ece58" d="M935 312h43v1h-43zM935 206h43v1h-43zM935 200h43v1h-43zM935 189h43v1h-43zM935 182h43v1h-43z"/>
<path fill="#75d054" d="M935 318h43v1h-43zM935 172h43v3h-43z"/>
<path fill="#7ad151" d="M935 191h43v1h-43zM935 181h43v1h-43zM935 177h43v1h-43zM935 175h43v1h-43z"/>
<path fill="#81d34d" d="M935 303h43v1h-43zM935 178h43v3h-43zM935 176h43v1h-43z"/>
<path fill="#89d548" d="M935 170h43v1h-43zM935 163h43v1h-43z"/>
<path fill="#8ed645" d="M935 171h43v1h-43zM935 169h43v1h-43zM935 166h43v1h-43zM935 160h43v3h-43z"/>
<path fill="#95d840" d="M935 168h43v1h-43z"/>
<path fill="#9dd93b" d="M935 167h43v1h-43zM935 164h43v2h-43zM935 157h43v1h-43zM935 154h43v1h-43z"/>
<path fill="#a2da37" d="M892 310h43v1h-43zM935 158h43v1h-43zM935 149h43v1h-43z"/>
<path fill="#aadc32" d="M935 159h43v1h-43zM935 155h43v2h-43zM935 153h43v1h-43zM935 141h43v2h-43z"/>
<path fill="#b2dd2d" d="M935 152h43v1h-43zM935 150h43v1h-43zM935 143h43v4h-43zM935 137h43v3h-43z"/>
<path fill="#bade28" d="M892 309h43v1h-43zM935 140h43v1h-43z"/>
<path fill="#c0df25" d="M892 340h43v1h-43zM935 151h43v1h-43zM935 148h43v1h-43zM935 134h43v2h-43zM935 124h43v2h-43z"/>
<path fill="#c8e020" d="M935 136h43v1h-43zM935 133h43v1h-43zM935 123h43v1h-43zM935 121h43v1h-43z"/>
<path fill="#d0e11c" d="M892 293h43v2h-43zM892 282h43v1h-43zM935 147h43v1h-43zM935 132h43v1h-43zM935 126h43v1h-43zM935 122h43v1h-43z"/>
<path fill="#d5e21a" d="M892 275h43v1h-43zM935 127h43v1h-43zM935 120h43v1h-43z"/>
<path fill="#dde318" d="M892 345h43v1h-43zM892 339h43v1h-43zM892 324h43v2h-43zM892 295h43v1h-43zM892 285h43v2h-43zM892 279h43v1h-43zM935 131h43v1h-43zM935 128h43v2h-43zM935 117h43v2h-43zM935 115h43v1h-43zM935 105h43v2h-43z"/>
<path fill="#e5e419" d="M892 346h43v1h-43zM892 344h43v1h-43zM892 332h43v1h-43zM892 314h43v2h-43zM892 292h43v1h-43zM935 130h43v1h-43zM935 119h43v1h-43zM935 107h43v1h-43z"/>
<path fill="#eae51a" d="M892 343h43v1h-43zM892 317h43v1h-43zM892 312h43v2h-43zM892 296h43v1h-43zM892 290h43v1h-43zM892 287h43v1h-43zM892 264h43v1h-43zM892 255h43v1h-43zM892 244h43v1h-43zM892 236h43v1h-43zM892 226h43v1h-43zM892 197h43v1h-43zM935 116h43v1h-43zM935 112h43v1h-43zM935 108h43v1h-43zM935 104h43v1h-43z"/>
<path fill="#f1e51d" d="M892 342h43v1h-43zM892 334h43v1h-43zM892 331h43v1h-43zM892 316h43v1h-43zM892 311h43v1h-43zM892 306h43v2h-43zM892 304h43v1h-43zM892 302h43v1h-43zM892 291h43v1h-43zM892 288h43v2h-43zM892 284h43v1h-43zM892 281h43v1h-43zM892 272h43v1h-43zM892 268h43v2h-43zM892 256h43v1h-43zM892 235h43v1h-43zM892 224h43v2h-43zM892 217h43v1h-43zM892 109h43v2h-43zM892 95h43v1h-43zM935 113h43v2h-43zM935 101h43v3h-43zM935 95h43v3h-43z"/>
<path fill="#f8e621" d="M892 341h43v1h-43zM892 308h43v1h-43zM892 303h43v1h-43zM892 301h43v1h-43zM892 299h43v1h-43zM892 297h43v1h-43zM892 283h43v1h-43zM892 274h43v1h-43zM892 271h43v1h-43zM892 267h43v1h-43zM892 240h43v1h-43zM892 234h43v1h-43zM892 219h43v1h-43zM892 216h43v1h-43zM892 93h43v2h-43zM935 109h43v3h-43zM935 99h43v1h-43z"/>
<path fill="#fde725" d="M892 347h43v3h-43zM892 335h43v4h-43zM892 333h43v1h-43zM892 326h43v5h-43zM892 318h43v6h-43zM892 305h43v1h-43zM892 300h43v1h-43zM892 298h43v1h-43zM892 280h43v1h-43zM892 276h43v3h-43zM892 273h43v1h-43zM892 270h43v1h-43zM892 265h43v2h-43zM892 257h43v7h-43zM892 245h43v10h-43zM892 241h43v3h-43zM892 237h43v3h-43zM892 227h43v7h-43zM892 220h43v4h-43zM892 218h43v1h-43zM892 198h43v18h-43zM892 111h43v86h-43zM892 96h43v13h-43zM892 92h43v1h-43zM935 100h43v1h-43zM935 98h43v1h-43zM935 92h43v3h-43z"/>
</g>
<clipPath id="c3"><rect x="817.5" y="92.5" width="216" height="257"/></clipPath>
<g clip-path="url(#c3)" fill="none" stroke-linecap="butt">
<polyline stroke="#808080" stroke-width="2.08" points="919.5,349.3 918.98,346.04 918.49,342.79 918.01,339.53 917.55,336.27 917.11,333.02 916.68,329.76 916.28,326.5 915.9,323.24 915.53,319.99 915.18,316.73 914.86,313.47 914.55,310.22 914.26,306.96 913.99,303.7 913.73,300.45 913.5,297.19 913.29,293.93 913.09,290.67 912.92,287.42 912.76,284.16 912.62,280.9 912.5,277.65 912.4,274.39 912.32,271.13 912.26,267.88 912.21,264.62 912.19,261.36 912.18,258.11 912.19,254.85 912.22,251.59 912.28,248.33 912.34,245.08 912.43,241.82 912.54,238.56 912.67,235.31 912.81,232.05 912.98,228.79 913.16,225.54 913.36,222.28 913.58,219.02 913.82,215.76 914.08,212.51 914.36,209.25 914.65,205.99 914.97,202.74 915.3,199.48 915.66,196.22 916.03,192.97 916.42,189.71 916.83,186.45 917.26,183.19 917.71,179.94 918.17,176.68 918.66,173.42 919.17,170.17 919.69,166.91 920.23,163.65 920.79,160.4 921.37,157.14 921.97,153.88 922.59,150.63 923.23,147.37 923.88,144.11 924.56,140.85 925.25,137.6 925.96,134.34 926.7,131.08 927.45,127.83 928.22,124.57 929,121.31 929.81,118.06 930.64,114.8 931.48,111.54 932.35,108.28 933.23,105.03 934.13,101.77 935.05,98.51 935.99,95.26 936.95,92"/>
<polyline stroke="#ff0000" stroke-width="2.78" points="919.5,349.3 919.16,347.18 918.83,345.06 918.51,342.93 918.19,340.81 917.89,338.69 917.59,336.57 917.3,334.45 917.01,332.33 916.74,330.2 916.47,328.08 916.21,325.96 915.96,323.84 915.72,321.72 915.49,319.6 915.26,317.47 915.04,315.35 914.83,313.23 914.63,311.11 914.44,308.99 914.25,306.87 914.07,304.74 913.9,302.62 913.74,300.5 913.58,298.38 913.44,296.26 913.3,294.13 913.17,292.01 913.05,289.89 912.93,287.77 912.83,285.65 912.73,283.53 912.64,281.4 912.56,279.28 912.48,277.16 912.42,275.04 912.36,272.92 912.31,270.8 912.27,268.67 912.23,266.55"/>
<polyline stroke="#ff0000" stroke-width="2.78" points="913.06,227.24 913.16,225.6 913.25,223.96 913.36,222.33 913.47,220.69 913.58,219.06 913.7,217.42 913.82,215.78 913.95,214.15 914.08,212.51 914.22,210.88 914.36,209.24 914.51,207.6 914.66,205.97 914.81,204.33 914.97,202.69 915.14,201.06 915.31,199.42 915.49,197.79 915.67,196.15 915.85,194.51 916.04,192.88 916.23,191.24 916.43,189.61 916.64,187.97 916.85,186.33 917.06,184.7 917.28,183.06 917.5,181.42 917.73,179.79 917.96,178.15 918.2,176.52 918.44,174.88 918.69,173.24 918.94,171.61 919.2,169.97 919.46,168.33 919.72,166.7 919.99,165.06 920.27,163.43"/>
<polyline stroke="#ff0000" stroke-width="2.78" points="923.81,144.49 924.08,143.14 924.36,141.8 924.64,140.45 924.93,139.11 925.22,137.76 925.51,136.41 925.8,135.07 926.1,133.72 926.4,132.38 926.71,131.03 927.02,129.68 927.33,128.34 927.64,126.99 927.96,125.65 928.28,124.3 928.6,122.96 928.93,121.61 929.26,120.26 929.6,118.92 929.93,117.57 930.27,116.23 930.62,114.88 930.96,113.53 931.31,112.19 931.67,110.84 932.02,109.5 932.38,108.15 932.74,106.8 933.11,105.46 933.48,104.11 933.85,102.77 934.23,101.42 934.61,100.08 934.99,98.73 935.38,97.38 935.76,96.04 936.16,94.69 936.55,93.35 936.95,92"/>
</g>
<rect x="817.5" y="92.5" width="216" height="257" fill="none" stroke="#000" stroke-width="1.11"/>
<path d="M827.5 349.5v4.86M870.5 349.5v4.86M914.5 349.5v4.86M957.5 349.5v4.86M1000.5 349.5v4.86M817.5 348.5h-4.86M817.5 297.5h-4.86M817.5 245.5h-4.86M817.5 194.5h-4.86M817.5 142.5h-4.86" stroke="#000" stroke-width="1.11" fill="none"/>
<g font-size="13.89" text-anchor="middle">
<text x="827.77" y="369.9">245</text>
<text x="870.92" y="369.9">246</text>
<text x="914.07" y="369.9">247</text>
<text x="957.22" y="369.9">248</text>
<text x="1000.37" y="369.9">249</text>
</g>
<g font-size="13.89" text-anchor="end">
<text x="807.1" y="354">0</text>
<text x="807.1" y="302">50</text>
<text x="807.1" y="251">100</text>
<text x="807.1" y="199">150</text>
<text x="807.1" y="148">200</text>
</g>
<text font-size="13.89" text-anchor="middle" x="924.77" y="388.7">X axis (array index)</text>
<text font-size="13.89" text-anchor="middle" transform="translate(771.1 220.65) rotate(-90)">Y axis (array index)</text>
<text font-size="16.67" text-anchor="middle" x="924.88" y="83">C distortion: line #3/8 (deg.: 2)</text>
<rect x="1038.5" y="92.5" width="11" height="257" fill="url(#vir)" stroke="#000" stroke-width="1.11"/>
<path d="M1049.5 315.5h4.86M1049.5 278.5h4.86M1049.5 241.5h4.86M1049.5 204.5h4.86M1049.5 167.5h4.86M1049.5 130.5h4.86M1049.5 93.5h4.86" stroke="#000" stroke-width="1.11" fill="none"/>
<g font-size="13.89">
<text x="1058.6" y="321">2000</text>
<text x="1058.6" y="284">4000</text>
<text x="1058.6" y="247">6000</text>
<text x="1058.6" y="209">8000</text>
<text x="1058.6" y="172">10000</text>
<text x="1058.6" y="135">12000</text>
<text x="1058.6" y="98">14000</text>
</g>
<text font-size="13.89" text-anchor="middle" transform="translate(1117.9 220.65) rotate(-90)">Number of counts</text>
</g>
<g id="p4">
<g shape-rendering="crispEdges">
<path fill="#440154" d="M1193 348h24v2h-24zM1193 289h24v1h-24zM1193 281h24v1h-24zM1193 222h24v1h-24zM1193 210h24v1h-24zM1193 198h24v1h-24zM1193 177h24v1h-24zM1193 161h24v1h-24zM1193 122h24v2h-24zM1193 120h24v1h-24zM1193 115h24v1h-24zM1193 94h24v1h-24zM1390 348h19v2h-19zM1390 322h19v2h-19zM1390 274h19v1h-19zM1390 262h19v1h-19zM1390 227h19v1h-19zM1390 216h19v1h-19zM1390 207h19v1h-19zM1390 196h19v2h-19zM1390 194h19v1h-19zM1390 189h19v1h-19zM1390 173h19v1h-19zM1390 169h19v1h-19zM1390 162h19v1h-19zM1390 152h19v1h-19zM1390 148h19v2h-19zM1390 132h19v1h-19zM1390 121h19v1h-19z"/>
<path fill="#450457" d="M1193 337h24v1h-24zM1193 290h24v1h-24zM1193 285h24v2h-24zM1193 267h24v1h-24zM1193 246h24v1h-24zM1193 225h24v1h-24zM1193 135h24v1h-24zM1390 340h19v1h-19zM1390 331h19v1h-19zM1390 317h19v1h-19zM1390 304h19v1h-19zM1390 181h19v1h-19zM1390 174h19v1h-19zM1390 168h19v1h-19zM1390 164h19v1h-19zM1390 157h19v1h-19zM1390 144h19v2h-19zM1390 135h19v1h-19zM1390 114h19v1h-19zM1390 112h19v1h-19zM1390 105h19v1h-19z"/>
<path fill="#46085c" d="M1193 329h24v2h-24zM1193 327h24v1h-24zM1193 324h24v1h-24zM1193 291h24v1h-24zM1193 287h24v1h-24zM1193 209h24v1h-24zM1193 207h24v1h-24zM1193 175h24v1h-24zM1193 168h24v1h-24zM1193 153h24v1h-24zM1390 330h19v1h-19zM1390 324h19v1h-19zM1390 311h19v1h-19zM1390 303h19v1h-19zM1390 298h19v1h-19zM1390 289h19v1h-19zM1390 258h19v1h-19zM1390 246h19v1h-19zM1390 184h19v1h-19zM1390 176h19v1h-19zM1390 159h19v1h-19zM1390 136h19v1h-19zM1390 127h19v1h-19z"/>
<path fill="#470d60" d="M1193 333h24v1h-24zM1193 315h24v1h-24zM1193 305h24v1h-24zM1193 300h24v1h-24zM1193 279h24v1h-24zM1193 255h24v1h-24zM1193 219h24v1h-24zM1193 139h24v1h-24zM1193 118h24v1h-24zM1193 116h24v1h-24zM1193 104h24v1h-24zM1390 334h19v1h-19zM1390 316h19v1h-19zM1390 312h19v2h-19zM1390 310h19v1h-19zM1390 277h19v1h-19zM1390 245h19v1h-19zM1390 243h19v1h-19zM1390 238h19v1h-19zM1390 232h19v1h-19zM1390 226h19v1h-19zM1390 211h19v1h-19zM1390 193h19v1h-19zM1390 191h19v1h-19zM1390 179h19v2h-19zM1390 175h19v1h-19zM1390 154h19v1h-19zM1390 137h19v1h-19zM1390 115h19v1h-19zM1390 108h19v1h-19zM1390 95h19v1h-19zM1390 92h19v2h-19z"/>
<path fill="#471063" d="M1193 339h24v1h-24zM1193 325h24v1h-24zM1193 296h24v2h-24zM1193 276h24v1h-24zM1193 239h24v1h-24zM1193 218h24v1h-24zM1193 187h24v1h-24zM1193 179h24v2h-24zM1193 170h24v1h-24zM1193 167h24v1h-24zM1193 164h24v1h-24zM1193 154h24v1h-24zM1193 100h24v2h-24zM1193 95h24v1h-24zM1390 345h19v2h-19zM1390 339h19v1h-19zM1390 318h19v1h-19zM1390 296h19v1h-19zM1390 282h19v1h-19zM1390 275h19v1h-19zM1390 264h19v1h-19zM1390 252h19v1h-19zM1390 241h19v1h-19zM1390 229h19v1h-19zM1390 224h19v1h-19zM1390 221h19v1h-19zM1390 217h19v1h-19zM1390 206h19v1h-19zM1390 177h19v1h-19zM1390 165h19v1h-19zM1390 163h19v1h-19zM1390 150h19v2h-19zM1390 139h19v2h-19zM1390 131h19v1h-19zM1390 116h19v1h-19zM1390 113h19v1h-19zM1390 107h19v1h-19zM1390 101h19v1h-19zM1390 96h19v2h-19zM1390 94h19v1h-19z"/>
<path fill="#481467" d="M1193 332h24v1h-24zM1193 320h24v2h-24zM1193 310h24v1h-24zM1193 302h24v1h-24zM1193 265h24v1h-24zM1193 261h24v1h-24zM1193 253h24v1h-24zM1193 243h24v1h-24zM1193 233h24v1h-24zM1193 220h24v1h-24zM1193 212h24v1h-24zM1193 205h24v1h-24zM1193 199h24v1h-24zM1193 195h24v1h-24zM1193 190h24v2h-24zM1193 184h24v1h-24zM1193 174h24v1h-24zM1193 150h24v1h-24zM1193 144h24v2h-24zM1193 134h24v1h-24zM1193 127h24v1h-24zM1193 112h24v2h-24zM1193 107h24v1h-24zM1193 98h24v1h-24zM1390 344h19v1h-19zM1390 338h19v1h-19zM1390 299h19v1h-19zM1390 297h19v1h-19zM1390 294h19v1h-19zM1390 267h19v1h-19zM1390 257h19v1h-19zM1390 249h19v1h-19zM1390 244h19v1h-19zM1390 233h19v1h-19zM1390 231h19v1h-19zM1390 228h19v1h-19zM1390 220h19v1h-19zM1390 209h19v1h-19zM1390 205h19v1h-19zM1390 202h19v1h-19zM1390 198h19v3h-19zM1390 166h19v1h-19zM1390 155h19v1h-19zM1390 147h19v1h-19zM1390 109h19v3h-19zM1390 106h19v1h-19zM1390 100h19v1h-19z"/>
<path fill="#48186a" d="M1193 284h24v1h-24zM1193 268h24v1h-24zM1193 263h24v2h-24zM1193 258h24v1h-24zM1193 250h24v2h-24zM1193 232h24v1h-24zM1193 213h24v4h-24zM1193 208h24v1h-24zM1193 203h24v1h-24zM1193 196h24v2h-24zM1193 185h24v1h-24zM1193 178h24v1h-24zM1193 172h24v1h-24zM1193 166h24v1h-24zM1193 152h24v1h-24zM1193 146h24v1h-24zM1193 132h24v1h-24zM1193 130h24v1h-24zM1193 126h24v1h-24zM1193 119h24v1h-24zM1193 117h24v1h-24zM1193 106h24v1h-24zM1193 96h24v2h-24zM1193 93h24v1h-24zM1347 303h43v1h-43zM1347 218h43v1h-43zM1390 341h19v1h-19zM1390 329h19v1h-19zM1390 326h19v1h-19zM1390 308h19v1h-19zM1390 305h19v2h-19zM1390 279h19v2h-19zM1390 272h19v1h-19zM1390 266h19v1h-19zM1390 260h19v2h-19zM1390 248h19v1h-19zM1390 237h19v1h-19zM1390 235h19v1h-19zM1390 212h19v2h-19zM1390 208h19v1h-19zM1390 188h19v1h-19zM1390 182h19v1h-19zM1390 172h19v1h-19zM1390 167h19v1h-19zM1390 146h19v1h-19zM1390 142h19v1h-19zM1390 134h19v1h-19zM1390 128h19v1h-19zM1390 124h19v1h-19zM1390 117h19v1h-19zM1390 103h19v1h-19zM1390 98h19v2h-19z"/>
<path fill="#481b6d" d="M1193 345h24v2h-24zM1193 342h24v1h-24zM1193 334h24v1h-24zM1193 307h24v1h-24zM1193 283h24v1h-24zM1193 277h24v1h-24zM1193 244h24v1h-24zM1193 242h24v1h-24zM1193 240h24v1h-24zM1193 237h24v1h-24zM1193 226h24v1h-24zM1193 206h24v1h-24zM1193 201h24v1h-24zM1193 171h24v1h-24zM1193 163h24v1h-24zM1193 151h24v1h-24zM1193 142h24v1h-24zM1193 128h24v1h-24zM1193 105h24v1h-24zM1193 102h24v1h-24zM1347 239h43v1h-43zM1390 327h19v1h-19zM1390 315h19v1h-19zM1390 307h19v1h-19zM1390 301h19v2h-19zM1390 295h19v1h-19zM1390 291h19v3h-19zM1390 283h19v1h-19zM1390 270h19v2h-19zM1390 268h19v1h-19zM1390 263h19v1h-19zM1390 256h19v1h-19zM1390 254h19v1h-19zM1390 247h19v1h-19zM1390 239h19v1h-19zM1390 234h19v1h-19zM1390 225h19v1h-19zM1390 218h19v1h-19zM1390 204h19v1h-19zM1390 192h19v1h-19zM1390 187h19v1h-19zM1390 171h19v1h-19zM1390 160h19v1h-19zM1390 156h19v1h-19zM1390 143h19v1h-19zM1390 141h19v1h-19zM1390 138h19v1h-19zM1390 130h19v1h-19zM1390 126h19v1h-19zM1390 123h19v1h-19zM1390 104h19v1h-19zM1390 102h19v1h-19z"/>
<path fill="#481f70" d="M1193 338h24v1h-24zM1193 326h24v1h-24zM1193 318h24v1h-24zM1193 316h24v1h-24zM1193 313h24v1h-24zM1193 311h24v1h-24zM1193 299h24v1h-24zM1193 294h24v1h-24zM1193 282h24v1h-24zM1193 278h24v1h-24zM1193 275h24v1h-24zM1193 254h24v1h-24zM1193 252h24v1h-24zM1193 249h24v1h-24zM1193 235h24v1h-24zM1193 229h24v1h-24zM1193 204h24v1h-24zM1193 189h24v1h-24zM1193 186h24v1h-24zM1193 176h24v1h-24zM1193 159h24v1h-24zM1193 156h24v1h-24zM1193 149h24v1h-24zM1193 143h24v1h-24zM1193 141h24v1h-24zM1193 131h24v1h-24zM1193 124h24v1h-24zM1193 121h24v1h-24zM1193 109h24v2h-24zM1193 103h24v1h-24zM1193 99h24v1h-24zM1193 92h24v1h-24zM1347 262h43v1h-43zM1347 253h43v1h-43zM1347 244h43v1h-43zM1347 237h43v1h-43zM1347 187h43v1h-43zM1390 347h19v1h-19zM1390 335h19v2h-19zM1390 320h19v2h-19zM1390 309h19v1h-19zM1390 290h19v1h-19zM1390 285h19v2h-19zM1390 281h19v1h-19zM1390 265h19v1h-19zM1390 236h19v1h-19zM1390 219h19v1h-19zM1390 203h19v1h-19zM1390 183h19v1h-19zM1390 120h19v1h-19z"/>
<path fill="#482374" d="M1193 336h24v1h-24zM1193 331h24v1h-24zM1193 328h24v1h-24zM1193 317h24v1h-24zM1193 312h24v1h-24zM1193 304h24v1h-24zM1193 288h24v1h-24zM1193 274h24v1h-24zM1193 266h24v1h-24zM1193 262h24v1h-24zM1193 257h24v1h-24zM1193 247h24v2h-24zM1193 227h24v1h-24zM1193 211h24v1h-24zM1193 202h24v1h-24zM1193 200h24v1h-24zM1193 193h24v1h-24zM1193 181h24v1h-24zM1193 162h24v1h-24zM1193 148h24v1h-24zM1193 138h24v1h-24zM1193 108h24v1h-24zM1347 344h43v1h-43zM1347 277h43v1h-43zM1347 268h43v1h-43zM1347 225h43v1h-43zM1347 176h43v1h-43zM1347 173h43v1h-43zM1390 342h19v1h-19zM1390 337h19v1h-19zM1390 333h19v1h-19zM1390 319h19v1h-19zM1390 314h19v1h-19zM1390 300h19v1h-19zM1390 273h19v1h-19zM1390 259h19v1h-19zM1390 253h19v1h-19zM1390 222h19v1h-19zM1390 201h19v1h-19zM1390 190h19v1h-19zM1390 178h19v1h-19zM1390 170h19v1h-19zM1390 158h19v1h-19zM1390 153h19v1h-19zM1390 133h19v1h-19zM1390 118h19v1h-19z"/>
<path fill="#482576" d="M1193 347h24v1h-24zM1193 344h24v1h-24zM1193 308h24v1h-24zM1193 306h24v1h-24zM1193 301h24v1h-24zM1193 292h24v2h-24zM1193 269h24v1h-24zM1193 245h24v1h-24zM1193 238h24v1h-24zM1193 236h24v1h-24zM1193 221h24v1h-24zM1193 217h24v1h-24zM1193 194h24v1h-24zM1193 182h24v2h-24zM1193 173h24v1h-24zM1193 160h24v1h-24zM1193 155h24v1h-24zM1193 114h24v1h-24zM1347 337h43v1h-43zM1347 328h43v1h-43zM1347 257h43v1h-43zM1347 249h43v1h-43zM1347 184h43v1h-43zM1390 328h19v1h-19zM1390 288h19v1h-19zM1390 276h19v1h-19zM1390 269h19v1h-19zM1390 242h19v1h-19zM1390 223h19v1h-19zM1390 214h19v2h-19zM1390 185h19v1h-19zM1390 161h19v1h-19zM1390 129h19v1h-19zM1390 119h19v1h-19z"/>
<path fill="#482979" d="M1193 323h24v1h-24zM1193 270h24v1h-24zM1193 259h24v1h-24zM1193 231h24v1h-24zM1193 136h24v2h-24zM1193 133h24v1h-24zM1193 129h24v1h-24zM1193 125h24v1h-24zM1193 111h24v1h-24zM1217 97h44v1h-44zM1347 335h43v1h-43zM1347 259h43v1h-43zM1347 204h43v1h-43zM1390 325h19v1h-19zM1390 287h19v1h-19zM1390 284h19v1h-19zM1390 210h19v1h-19zM1390 122h19v1h-19z"/>
<path fill="#472d7b" d="M1193 343h24v1h-24zM1193 341h24v1h-24zM1193 322h24v1h-24zM1193 314h24v1h-24zM1193 298h24v1h-24zM1193 295h24v1h-24zM1193 273h24v1h-24zM1193 228h24v1h-24zM1193 223h24v1h-24zM1193 192h24v1h-24zM1193 188h24v1h-24zM1193 157h24v2h-24zM1347 345h43v1h-43zM1347 339h43v1h-43zM1347 314h43v1h-43zM1347 306h43v1h-43zM1347 296h43v1h-43zM1347 256h43v1h-43zM1347 245h43v1h-43zM1347 230h43v1h-43zM1347 202h43v1h-43zM1347 190h43v1h-43zM1390 343h19v1h-19zM1390 278h19v1h-19zM1390 230h19v1h-19zM1390 195h19v1h-19z"/>
<path fill="#46307e" d="M1193 335h24v1h-24zM1193 280h24v1h-24zM1193 256h24v1h-24zM1193 241h24v1h-24zM1193 234h24v1h-24zM1193 147h24v1h-24zM1193 140h24v1h-24zM1347 347h43v1h-43zM1347 334h43v1h-43zM1347 325h43v1h-43zM1347 302h43v1h-43zM1347 288h43v1h-43zM1347 263h43v1h-43zM1347 243h43v1h-43zM1347 231h43v1h-43zM1347 164h43v1h-43zM1347 151h43v1h-43zM1390 186h19v1h-19zM1390 125h19v1h-19z"/>
<path fill="#46337f" d="M1193 340h24v1h-24zM1193 230h24v1h-24zM1347 330h43v1h-43zM1347 320h43v2h-43zM1347 312h43v1h-43zM1347 310h43v1h-43zM1347 304h43v1h-43zM1347 291h43v2h-43zM1347 279h43v1h-43zM1347 242h43v1h-43zM1347 220h43v1h-43zM1347 214h43v2h-43zM1347 183h43v1h-43zM1390 250h19v2h-19zM1390 240h19v1h-19z"/>
<path fill="#453781" d="M1193 272h24v1h-24zM1193 224h24v1h-24zM1347 308h43v1h-43zM1347 298h43v1h-43zM1347 280h43v1h-43zM1347 201h43v1h-43zM1347 191h43v1h-43zM1347 181h43v1h-43z"/>
<path fill="#443a83" d="M1193 309h24v1h-24zM1193 271h24v1h-24zM1193 260h24v1h-24zM1193 169h24v1h-24zM1193 165h24v1h-24zM1217 139h44v1h-44zM1347 340h43v1h-43zM1347 332h43v1h-43zM1347 329h43v1h-43zM1347 326h43v1h-43zM1347 324h43v1h-43zM1347 273h43v1h-43zM1347 264h43v1h-43zM1347 258h43v1h-43zM1347 252h43v1h-43zM1347 248h43v1h-43zM1347 223h43v1h-43zM1390 332h19v1h-19zM1390 255h19v1h-19z"/>
<path fill="#433d84" d="M1193 319h24v1h-24zM1217 102h44v1h-44zM1217 93h44v1h-44zM1347 341h43v1h-43zM1347 333h43v1h-43zM1347 316h43v1h-43zM1347 281h43v2h-43zM1347 276h43v1h-43zM1347 260h43v1h-43zM1347 255h43v1h-43zM1347 240h43v2h-43zM1347 233h43v1h-43zM1347 209h43v1h-43zM1347 198h43v1h-43zM1347 182h43v1h-43z"/>
<path fill="#424086" d="M1193 303h24v1h-24zM1347 348h43v2h-43zM1347 319h43v1h-43zM1347 313h43v1h-43zM1347 311h43v1h-43zM1347 283h43v1h-43zM1347 266h43v1h-43zM1347 236h43v1h-43zM1347 234h43v1h-43zM1347 232h43v1h-43zM1347 222h43v1h-43zM1347 200h43v1h-43zM1347 179h43v2h-43z"/>
<path fill="#414487" d="M1217 103h44v1h-44zM1347 322h43v1h-43zM1347 299h43v2h-43zM1347 297h43v1h-43zM1347 289h43v1h-43zM1347 284h43v1h-43zM1347 250h43v2h-43zM1347 247h43v1h-43zM1347 235h43v1h-43zM1347 199h43v1h-43zM1347 197h43v1h-43zM1347 194h43v2h-43zM1347 138h43v1h-43z"/>
<path fill="#404688" d="M1217 126h44v1h-44zM1217 105h44v2h-44zM1217 95h44v1h-44zM1347 343h43v1h-43zM1347 317h43v2h-43zM1347 309h43v1h-43zM1347 293h43v1h-43zM1347 290h43v1h-43zM1347 287h43v1h-43zM1347 275h43v1h-43zM1347 265h43v1h-43zM1347 254h43v1h-43zM1347 238h43v1h-43zM1347 216h43v1h-43zM1347 188h43v1h-43zM1347 170h43v1h-43zM1347 165h43v1h-43z"/>
<path fill="#3e4989" d="M1217 213h44v1h-44zM1217 121h44v1h-44zM1217 96h44v1h-44zM1217 92h44v1h-44zM1347 342h43v1h-43zM1347 331h43v1h-43zM1347 315h43v1h-43zM1347 301h43v1h-43zM1347 285h43v2h-43zM1347 261h43v1h-43zM1347 226h43v1h-43zM1347 203h43v1h-43zM1347 196h43v1h-43zM1347 193h43v1h-43zM1347 178h43v1h-43zM1347 163h43v1h-43z"/>
<path fill="#3d4d8a" d="M1217 179h44v2h-44zM1217 137h44v1h-44zM1217 135h44v1h-44zM1217 124h44v1h-44zM1217 116h44v1h-44zM1347 323h43v1h-43zM1347 305h43v1h-43zM1347 270h43v1h-43zM1347 267h43v1h-43zM1347 246h43v1h-43zM1347 221h43v1h-43zM1347 213h43v1h-43zM1347 211h43v1h-43zM1347 205h43v1h-43zM1347 192h43v1h-43zM1347 175h43v1h-43zM1347 171h43v1h-43zM1347 159h43v1h-43zM1347 150h43v1h-43z"/>
<path fill="#3c4f8a" d="M1217 134h44v1h-44zM1217 132h44v1h-44zM1217 130h44v1h-44zM1217 122h44v1h-44zM1217 119h44v1h-44zM1217 109h44v2h-44zM1217 94h44v1h-44zM1347 307h43v1h-43zM1347 278h43v1h-43zM1347 271h43v1h-43zM1347 217h43v1h-43zM1347 210h43v1h-43zM1347 207h43v1h-43zM1347 139h43v1h-43zM1347 136h43v1h-43z"/>
<path fill="#3b528b" d="M1217 154h44v1h-44zM1217 140h44v1h-44zM1217 136h44v1h-44zM1217 115h44v1h-44zM1217 108h44v1h-44zM1347 327h43v1h-43zM1347 272h43v1h-43zM1347 227h43v2h-43zM1347 219h43v1h-43zM1347 212h43v1h-43zM1347 208h43v1h-43zM1347 172h43v1h-43z"/>
<path fill="#39558c" d="M1217 144h44v2h-44zM1217 141h44v1h-44zM1217 129h44v1h-44zM1347 294h43v2h-43zM1347 189h43v1h-43zM1347 185h43v2h-43zM1347 162h43v1h-43zM1347 155h43v1h-43zM1347 125h43v1h-43zM1347 114h43v1h-43z"/>
<path fill="#38598c" d="M1217 195h44v1h-44zM1217 175h44v1h-44zM1217 101h44v1h-44zM1347 269h43v1h-43zM1347 224h43v1h-43zM1347 206h43v1h-43zM1347 130h43v1h-43zM1347 122h43v1h-43zM1347 117h43v1h-43zM1347 100h43v1h-43z"/>
<path fill="#375b8d" d="M1217 188h44v1h-44zM1217 178h44v1h-44zM1217 167h44v1h-44zM1217 125h44v1h-44zM1217 118h44v1h-44zM1347 346h43v1h-43zM1347 229h43v1h-43zM1347 177h43v1h-43zM1347 174h43v1h-43zM1347 169h43v1h-43zM1347 156h43v1h-43zM1347 152h43v1h-43zM1347 133h43v1h-43zM1347 118h43v1h-43z"/>
<path fill="#355e8d" d="M1217 287h44v1h-44zM1217 170h44v1h-44zM1217 146h44v1h-44zM1217 114h44v1h-44zM1217 111h44v2h-44zM1217 100h44v1h-44zM1347 338h43v1h-43zM1347 274h43v1h-43zM1347 160h43v1h-43zM1347 157h43v1h-43zM1347 154h43v1h-43zM1347 115h43v1h-43z"/>
<path fill="#34618d" d="M1217 275h44v1h-44zM1217 131h44v1h-44zM1347 153h43v1h-43zM1347 127h43v1h-43z"/>
<path fill="#33638d" d="M1217 177h44v1h-44zM1217 149h44v1h-44zM1217 127h44v2h-44zM1217 117h44v1h-44zM1347 336h43v1h-43zM1347 167h43v1h-43zM1347 149h43v1h-43zM1347 140h43v1h-43zM1347 135h43v1h-43zM1347 119h43v1h-43zM1347 116h43v1h-43zM1347 111h43v1h-43z"/>
<path fill="#31668e" d="M1217 248h44v1h-44zM1217 219h44v1h-44zM1217 216h44v1h-44zM1217 193h44v1h-44zM1217 165h44v1h-44zM1217 157h44v1h-44zM1217 123h44v1h-44zM1217 120h44v1h-44zM1347 168h43v1h-43zM1347 161h43v1h-43z"/>
<path fill="#30698e" d="M1217 253h44v1h-44zM1217 239h44v1h-44zM1217 189h44v1h-44zM1217 187h44v1h-44zM1217 185h44v1h-44zM1217 176h44v1h-44zM1217 174h44v1h-44zM1217 158h44v1h-44zM1217 153h44v1h-44zM1217 143h44v1h-44zM1217 133h44v1h-44zM1217 107h44v1h-44zM1217 104h44v1h-44zM1217 99h44v1h-44zM1347 143h43v1h-43zM1347 137h43v1h-43zM1347 131h43v1h-43zM1347 98h43v1h-43z"/>
<path fill="#2f6b8e" d="M1217 205h44v1h-44zM1217 200h44v1h-44zM1217 147h44v1h-44zM1217 138h44v1h-44zM1347 158h43v1h-43zM1347 124h43v1h-43zM1347 121h43v1h-43zM1347 104h43v1h-43z"/>
<path fill="#2e6e8e" d="M1217 266h44v1h-44zM1217 159h44v1h-44zM1217 156h44v1h-44zM1347 146h43v1h-43zM1347 141h43v1h-43zM1347 123h43v1h-43zM1347 101h43v1h-43zM1347 99h43v1h-43z"/>
<path fill="#2d718e" d="M1217 345h44v1h-44zM1217 296h44v1h-44zM1217 278h44v1h-44zM1217 226h44v1h-44zM1217 197h44v1h-44zM1217 182h44v1h-44zM1217 163h44v1h-44zM1217 155h44v1h-44zM1217 151h44v1h-44zM1217 98h44v1h-44zM1347 166h43v1h-43zM1347 147h43v1h-43zM1347 134h43v1h-43zM1347 126h43v1h-43z"/>
<path fill="#2c738e" d="M1217 338h44v1h-44zM1217 327h44v1h-44zM1217 280h44v1h-44zM1217 210h44v1h-44zM1217 204h44v1h-44zM1217 199h44v1h-44zM1217 194h44v1h-44zM1217 164h44v1h-44zM1217 162h44v1h-44zM1347 142h43v1h-43zM1347 129h43v1h-43z"/>
<path fill="#2b758e" d="M1217 312h44v1h-44zM1217 221h44v1h-44zM1217 207h44v1h-44zM1217 171h44v1h-44zM1217 168h44v1h-44zM1217 150h44v1h-44zM1217 113h44v1h-44zM1347 148h43v1h-43zM1347 132h43v1h-43zM1347 128h43v1h-43zM1347 113h43v1h-43zM1347 109h43v2h-43zM1347 106h43v1h-43z"/>
<path fill="#2a788e" d="M1217 334h44v2h-44zM1217 196h44v1h-44zM1347 144h43v2h-43z"/>
<path fill="#297b8e" d="M1217 292h44v1h-44zM1217 271h44v1h-44zM1217 244h44v1h-44zM1217 232h44v1h-44zM1217 228h44v1h-44zM1217 214h44v2h-44zM1217 166h44v1h-44zM1217 142h44v1h-44zM1347 112h43v1h-43zM1347 107h43v1h-43z"/>
<path fill="#287d8e" d="M1217 347h44v3h-44zM1217 340h44v1h-44zM1217 337h44v1h-44zM1217 310h44v1h-44zM1217 293h44v1h-44zM1217 288h44v1h-44zM1217 276h44v1h-44zM1217 267h44v1h-44zM1217 231h44v1h-44zM1217 172h44v1h-44zM1347 97h43v1h-43z"/>
<path fill="#27808e" d="M1217 308h44v1h-44zM1217 203h44v1h-44zM1217 201h44v1h-44zM1217 186h44v1h-44zM1217 184h44v1h-44zM1217 173h44v1h-44zM1347 105h43v1h-43zM1347 92h43v1h-43z"/>
<path fill="#26828e" d="M1217 315h44v1h-44zM1217 301h44v1h-44zM1217 295h44v1h-44zM1217 283h44v1h-44zM1217 279h44v1h-44zM1217 224h44v1h-44zM1217 206h44v1h-44zM1217 191h44v1h-44zM1217 181h44v1h-44zM1217 169h44v1h-44zM1217 161h44v1h-44zM1217 148h44v1h-44zM1347 108h43v1h-43z"/>
<path fill="#25848e" d="M1217 314h44v1h-44zM1217 265h44v1h-44zM1217 254h44v1h-44zM1217 236h44v1h-44zM1217 218h44v1h-44zM1217 209h44v1h-44zM1347 120h43v1h-43zM1347 103h43v1h-43zM1347 95h43v1h-43zM1347 93h43v1h-43z"/>
<path fill="#24878e" d="M1217 306h44v1h-44zM1217 294h44v1h-44zM1217 263h44v1h-44zM1217 227h44v1h-44zM1217 225h44v1h-44z"/>
<path fill="#238a8d" d="M1217 329h44v3h-44zM1217 307h44v1h-44zM1217 272h44v1h-44zM1217 261h44v1h-44zM1217 220h44v1h-44zM1217 183h44v1h-44zM1217 152h44v1h-44z"/>
<path fill="#228c8d" d="M1217 341h44v1h-44zM1217 339h44v1h-44zM1217 284h44v1h-44zM1217 262h44v1h-44zM1217 258h44v1h-44zM1217 250h44v2h-44zM1217 246h44v1h-44zM1217 212h44v1h-44zM1217 202h44v1h-44zM1217 198h44v1h-44zM1217 190h44v1h-44z"/>
<path fill="#218f8d" d="M1217 318h44v1h-44zM1217 316h44v1h-44zM1217 313h44v1h-44zM1217 299h44v1h-44zM1217 281h44v2h-44zM1217 237h44v1h-44zM1217 235h44v1h-44zM1217 230h44v1h-44zM1217 160h44v1h-44zM1347 96h43v1h-43z"/>
<path fill="#20928c" d="M1217 346h44v1h-44zM1217 328h44v1h-44zM1217 298h44v1h-44zM1217 269h44v1h-44zM1217 242h44v1h-44zM1217 238h44v1h-44zM1217 223h44v1h-44zM1217 192h44v1h-44z"/>
<path fill="#1f948c" d="M1217 343h44v1h-44zM1217 325h44v2h-44zM1217 304h44v1h-44zM1217 274h44v1h-44zM1217 268h44v1h-44zM1217 255h44v2h-44zM1217 243h44v1h-44z"/>
<path fill="#1f968b" d="M1217 332h44v2h-44zM1217 319h44v1h-44zM1217 309h44v1h-44zM1217 300h44v1h-44zM1217 285h44v2h-44zM1217 259h44v1h-44zM1217 234h44v1h-44zM1217 229h44v1h-44z"/>
<path fill="#1f998a" d="M1217 302h44v1h-44zM1217 252h44v1h-44zM1217 249h44v1h-44zM1217 208h44v1h-44zM1304 285h43v2h-43zM1347 102h43v1h-43z"/>
<path fill="#1e9c89" d="M1217 303h44v1h-44zM1217 297h44v1h-44zM1217 277h44v1h-44zM1217 270h44v1h-44zM1217 245h44v1h-44zM1217 240h44v1h-44zM1217 222h44v1h-44zM1304 199h43v1h-43zM1347 94h43v1h-43z"/>
<path fill="#1f9e89" d="M1217 344h44v1h-44zM1217 322h44v1h-44zM1217 305h44v1h-44zM1217 290h44v1h-44zM1217 273h44v1h-44zM1217 260h44v1h-44zM1304 262h43v1h-43z"/>
<path fill="#1fa188" d="M1217 336h44v1h-44zM1217 311h44v1h-44zM1217 291h44v1h-44zM1217 241h44v1h-44zM1217 233h44v1h-44zM1217 217h44v1h-44z"/>
<path fill="#20a386" d="M1217 342h44v1h-44zM1217 324h44v1h-44zM1304 230h43v1h-43z"/>
<path fill="#21a585" d="M1217 323h44v1h-44zM1304 273h43v1h-43z"/>
<path fill="#22a884" d="M1217 317h44v1h-44zM1217 211h44v1h-44z"/>
<path fill="#25ab82" d="M1217 264h44v1h-44zM1217 247h44v1h-44z"/>
<path fill="#26ad81" d="M1217 289h44v1h-44zM1304 243h43v1h-43zM1304 238h43v1h-43z"/>
<path fill="#29af7f" d="M1304 183h43v1h-43z"/>
<path fill="#2db27d" d="M1261 95h43v1h-43zM1304 295h43v1h-43zM1304 278h43v1h-43z"/>
<path fill="#31b57b" d="M1304 283h43v1h-43zM1304 277h43v1h-43zM1304 265h43v1h-43zM1304 196h43v1h-43z"/>
<path fill="#34b679" d="M1217 257h44v1h-44zM1304 282h43v1h-43zM1304 276h43v1h-43zM1304 256h43v1h-43zM1304 227h43v1h-43z"/>
<path fill="#38b977" d="M1217 320h44v2h-44zM1304 341h43v1h-43zM1304 301h43v1h-43zM1304 232h43v1h-43zM1304 217h43v1h-43z"/>
<path fill="#3dbc74" d="M1304 327h43v1h-43zM1304 257h43v1h-43zM1304 249h43v1h-43zM1304 221h43v1h-43zM1304 219h43v1h-43zM1304 214h43v2h-43z"/>
<path fill="#40bd72" d="M1304 338h43v1h-43zM1304 297h43v1h-43zM1304 292h43v1h-43zM1304 274h43v1h-43zM1304 258h43v1h-43z"/>
<path fill="#46c06f" d="M1261 340h43v1h-43zM1261 130h43v1h-43zM1304 339h43v1h-43zM1304 287h43v1h-43zM1304 271h43v1h-43zM1304 260h43v2h-43z"/>
<path fill="#4cc26c" d="M1261 250h43v2h-43zM1261 185h43v1h-43zM1304 312h43v1h-43zM1304 290h43v1h-43zM1304 207h43v1h-43z"/>
<path fill="#50c46a" d="M1261 297h43v1h-43zM1304 325h43v2h-43zM1304 315h43v1h-43zM1304 309h43v1h-43zM1304 223h43v1h-43zM1304 186h43v1h-43z"/>
<path fill="#56c667" d="M1261 254h43v1h-43zM1261 137h43v1h-43zM1261 103h43v1h-43zM1261 98h43v1h-43zM1304 343h43v1h-43zM1304 298h43v1h-43zM1304 289h43v1h-43zM1304 252h43v1h-43zM1304 237h43v1h-43zM1304 206h43v1h-43zM1304 195h43v1h-43zM1304 132h43v1h-43z"/>
<path fill="#5cc863" d="M1261 274h43v1h-43zM1304 328h43v1h-43zM1304 280h43v1h-43zM1304 264h43v1h-43zM1304 254h43v1h-43zM1304 234h43v1h-43zM1304 222h43v1h-43zM1304 204h43v1h-43z"/>
<path fill="#63cb5f" d="M1261 317h43v1h-43zM1261 294h43v1h-43zM1304 270h43v1h-43zM1304 253h43v1h-43zM1304 229h43v1h-43zM1304 212h43v1h-43zM1304 177h43v1h-43zM1304 160h43v1h-43zM1304 118h43v1h-43z"/>
<path fill="#67cc5c" d="M1261 298h43v1h-43zM1261 179h43v2h-43zM1261 92h43v1h-43zM1304 267h43v1h-43zM1304 263h43v1h-43zM1304 255h43v1h-43zM1304 247h43v2h-43zM1304 244h43v1h-43zM1304 233h43v1h-43zM1304 165h43v1h-43zM1304 140h43v1h-43zM1304 134h43v1h-43z"/>
<path fill="#6ece58" d="M1261 309h43v1h-43zM1261 192h43v1h-43zM1261 120h43v1h-43zM1261 100h43v1h-43zM1261 93h43v1h-43zM1304 345h43v1h-43zM1304 293h43v1h-43zM1304 284h43v1h-43zM1304 210h43v1h-43zM1304 189h43v1h-43z"/>
<path fill="#75d054" d="M1261 322h43v1h-43zM1261 257h43v1h-43zM1261 246h43v1h-43zM1261 243h43v1h-43zM1261 111h43v1h-43zM1304 296h43v1h-43zM1304 188h43v1h-43z"/>
<path fill="#7ad151" d="M1261 193h43v1h-43zM1261 150h43v1h-43zM1261 132h43v1h-43zM1261 96h43v1h-43zM1261 94h43v1h-43zM1304 320h43v2h-43zM1304 305h43v1h-43zM1304 213h43v1h-43zM1304 209h43v1h-43z"/>
<path fill="#81d34d" d="M1261 295h43v1h-43zM1261 160h43v1h-43zM1261 133h43v2h-43zM1261 126h43v1h-43zM1261 112h43v1h-43zM1304 331h43v1h-43zM1304 311h43v1h-43zM1304 304h43v1h-43zM1304 291h43v1h-43zM1304 275h43v1h-43zM1304 269h43v1h-43zM1304 250h43v2h-43zM1304 246h43v1h-43zM1304 236h43v1h-43zM1304 224h43v1h-43zM1304 218h43v1h-43zM1304 169h43v1h-43zM1304 159h43v1h-43zM1304 157h43v1h-43z"/>
<path fill="#89d548" d="M1261 311h43v1h-43zM1261 282h43v1h-43zM1261 148h43v1h-43zM1261 140h43v1h-43zM1261 123h43v1h-43zM1261 119h43v1h-43zM1304 294h43v1h-43zM1304 272h43v1h-43zM1304 259h43v1h-43zM1304 231h43v1h-43zM1304 168h43v1h-43zM1304 152h43v1h-43zM1304 143h43v1h-43zM1304 133h43v1h-43zM1304 131h43v1h-43zM1304 126h43v1h-43z"/>
<path fill="#8ed645" d="M1261 320h43v2h-43zM1261 296h43v1h-43zM1261 293h43v1h-43zM1261 225h43v1h-43zM1261 176h43v1h-43zM1261 99h43v1h-43zM1304 334h43v1h-43zM1304 324h43v1h-43zM1304 306h43v1h-43zM1304 299h43v1h-43zM1304 239h43v1h-43zM1304 235h43v1h-43zM1304 200h43v1h-43zM1304 197h43v1h-43zM1304 151h43v1h-43z"/>
<path fill="#95d840" d="M1261 346h43v1h-43zM1261 191h43v1h-43zM1261 157h43v1h-43zM1261 136h43v1h-43zM1261 97h43v1h-43zM1304 340h43v1h-43zM1304 332h43v1h-43zM1304 330h43v1h-43zM1304 300h43v1h-43zM1304 279h43v1h-43zM1304 216h43v1h-43zM1304 205h43v1h-43zM1304 202h43v1h-43zM1304 182h43v1h-43zM1304 173h43v1h-43zM1304 163h43v1h-43zM1304 114h43v1h-43zM1304 98h43v1h-43z"/>
<path fill="#9dd93b" d="M1261 343h43v2h-43zM1261 310h43v1h-43zM1261 301h43v1h-43zM1261 275h43v1h-43zM1261 263h43v1h-43zM1261 252h43v1h-43zM1261 203h43v1h-43zM1261 142h43v1h-43zM1261 124h43v1h-43zM1261 109h43v2h-43zM1304 336h43v1h-43zM1304 333h43v1h-43zM1304 242h43v1h-43zM1304 228h43v1h-43zM1304 220h43v1h-43zM1304 194h43v1h-43zM1304 187h43v1h-43zM1304 185h43v1h-43z"/>
<path fill="#a2da37" d="M1261 332h43v1h-43zM1261 116h43v1h-43zM1261 107h43v1h-43zM1261 104h43v1h-43zM1304 310h43v1h-43zM1304 245h43v1h-43zM1304 201h43v1h-43zM1304 181h43v1h-43zM1304 119h43v1h-43zM1304 96h43v1h-43z"/>
<path fill="#aadc32" d="M1261 327h43v1h-43zM1261 236h43v1h-43zM1261 165h43v1h-43zM1261 143h43v1h-43zM1261 108h43v1h-43zM1304 342h43v1h-43zM1304 303h43v1h-43zM1304 240h43v1h-43zM1304 226h43v1h-43zM1304 164h43v1h-43zM1304 137h43v1h-43zM1304 113h43v1h-43z"/>
<path fill="#b2dd2d" d="M1261 329h43v1h-43zM1261 315h43v1h-43zM1261 163h43v1h-43zM1261 152h43v2h-43zM1261 128h43v1h-43zM1304 317h43v1h-43zM1304 313h43v2h-43zM1304 308h43v1h-43zM1304 281h43v1h-43zM1304 241h43v1h-43zM1304 192h43v1h-43zM1304 171h43v1h-43zM1304 167h43v1h-43zM1304 158h43v1h-43zM1304 139h43v1h-43zM1304 125h43v1h-43z"/>
<path fill="#bade28" d="M1261 314h43v1h-43zM1261 305h43v1h-43zM1261 272h43v1h-43zM1261 268h43v1h-43zM1261 237h43v1h-43zM1261 195h43v1h-43zM1261 164h43v1h-43zM1261 129h43v1h-43zM1261 127h43v1h-43zM1261 114h43v1h-43zM1304 347h43v1h-43zM1304 335h43v1h-43zM1304 319h43v1h-43zM1304 288h43v1h-43zM1304 179h43v2h-43zM1304 108h43v1h-43z"/>
<path fill="#c0df25" d="M1261 336h43v1h-43zM1261 319h43v1h-43zM1261 307h43v1h-43zM1261 278h43v1h-43zM1261 270h43v1h-43zM1261 256h43v1h-43zM1261 226h43v1h-43zM1261 216h43v1h-43zM1261 175h43v1h-43zM1261 169h43v1h-43zM1261 144h43v2h-43zM1261 125h43v1h-43zM1261 102h43v1h-43zM1304 337h43v1h-43zM1304 307h43v1h-43zM1304 211h43v1h-43zM1304 190h43v2h-43zM1304 148h43v1h-43zM1304 135h43v1h-43z"/>
<path fill="#c8e020" d="M1261 342h43v1h-43zM1261 339h43v1h-43zM1261 326h43v1h-43zM1261 261h43v1h-43zM1261 220h43v1h-43zM1261 204h43v1h-43zM1261 197h43v1h-43zM1261 190h43v1h-43zM1261 171h43v1h-43zM1261 162h43v1h-43zM1261 105h43v1h-43zM1304 346h43v1h-43zM1304 322h43v2h-43zM1304 184h43v1h-43zM1304 172h43v1h-43zM1304 116h43v1h-43z"/>
<path fill="#d0e11c" d="M1261 312h43v1h-43zM1261 306h43v1h-43zM1261 302h43v1h-43zM1261 253h43v1h-43zM1261 248h43v1h-43zM1261 182h43v1h-43zM1261 139h43v1h-43zM1261 118h43v1h-43zM1261 101h43v1h-43zM1304 348h43v2h-43zM1304 302h43v1h-43zM1304 266h43v1h-43zM1304 225h43v1h-43zM1304 162h43v1h-43zM1304 121h43v1h-43z"/>
<path fill="#d5e21a" d="M1261 330h43v1h-43zM1261 299h43v1h-43zM1261 178h43v1h-43zM1261 147h43v1h-43zM1261 135h43v1h-43zM1304 344h43v1h-43zM1304 268h43v1h-43zM1304 208h43v1h-43z"/>
<path fill="#dde318" d="M1261 345h43v1h-43zM1261 313h43v1h-43zM1261 304h43v1h-43zM1261 283h43v1h-43zM1261 259h43v1h-43zM1261 235h43v1h-43zM1261 224h43v1h-43zM1261 194h43v1h-43zM1261 188h43v1h-43zM1261 158h43v1h-43zM1261 151h43v1h-43zM1261 141h43v1h-43zM1261 115h43v1h-43zM1304 316h43v1h-43zM1304 198h43v1h-43zM1304 175h43v1h-43zM1304 170h43v1h-43zM1304 142h43v1h-43zM1304 138h43v1h-43zM1304 124h43v1h-43zM1304 94h43v1h-43z"/>
<path fill="#e5e419" d="M1261 333h43v1h-43zM1261 324h43v1h-43zM1261 318h43v1h-43zM1261 290h43v1h-43zM1261 279h43v1h-43zM1261 276h43v1h-43zM1261 260h43v1h-43zM1261 218h43v2h-43zM1304 166h43v1h-43zM1304 104h43v1h-43zM1304 101h43v1h-43zM1304 92h43v1h-43z"/>
<path fill="#eae51a" d="M1261 347h43v1h-43zM1261 335h43v1h-43zM1261 316h43v1h-43zM1261 292h43v1h-43zM1261 269h43v1h-43zM1261 233h43v1h-43zM1261 231h43v1h-43zM1261 223h43v1h-43zM1261 212h43v1h-43zM1261 209h43v1h-43zM1261 206h43v1h-43zM1261 196h43v1h-43zM1261 189h43v1h-43zM1261 174h43v1h-43zM1261 172h43v1h-43zM1261 166h43v1h-43zM1261 159h43v1h-43zM1261 106h43v1h-43zM1304 193h43v1h-43zM1304 153h43v1h-43zM1304 150h43v1h-43zM1304 147h43v1h-43zM1304 122h43v1h-43zM1304 107h43v1h-43zM1304 102h43v1h-43zM1304 100h43v1h-43zM1304 97h43v1h-43zM1304 95h43v1h-43z"/>
<path fill="#f1e51d" d="M1261 348h43v2h-43zM1261 303h43v1h-43zM1261 265h43v1h-43zM1261 199h43v1h-43zM1261 154h43v1h-43zM1261 149h43v1h-43zM1304 161h43v1h-43zM1304 129h43v1h-43zM1304 120h43v1h-43z"/>
<path fill="#f8e621" d="M1261 337h43v1h-43zM1261 289h43v1h-43zM1261 281h43v1h-43zM1261 240h43v1h-43zM1261 222h43v1h-43zM1261 201h43v1h-43zM1261 155h43v1h-43zM1261 121h43v1h-43zM1261 113h43v1h-43zM1304 154h43v1h-43zM1304 111h43v1h-43zM1304 93h43v1h-43z"/>
<path fill="#fde725" d="M1261 341h43v1h-43zM1261 338h43v1h-43zM1261 334h43v1h-43zM1261 331h43v1h-43zM1261 328h43v1h-43zM1261 325h43v1h-43zM1261 323h43v1h-43zM1261 308h43v1h-43zM1261 300h43v1h-43zM1261 291h43v1h-43zM1261 284h43v5h-43zM1261 280h43v1h-43zM1261 277h43v1h-43zM1261 273h43v1h-43zM1261 271h43v1h-43zM1261 266h43v2h-43zM1261 264h43v1h-43zM1261 262h43v1h-43zM1261 258h43v1h-43zM1261 255h43v1h-43zM1261 249h43v1h-43zM1261 247h43v1h-43zM1261 244h43v2h-43zM1261 241h43v2h-43zM1261 238h43v2h-43zM1261 234h43v1h-43zM1261 232h43v1h-43zM1261 227h43v4h-43zM1261 221h43v1h-43zM1261 217h43v1h-43zM1261 213h43v3h-43zM1261 210h43v2h-43zM1261 207h43v2h-43zM1261 205h43v1h-43zM1261 202h43v1h-43zM1261 200h43v1h-43zM1261 198h43v1h-43zM1261 186h43v2h-43zM1261 183h43v2h-43zM1261 181h43v1h-43zM1261 177h43v1h-43zM1261 173h43v1h-43zM1261 170h43v1h-43zM1261 167h43v2h-43zM1261 161h43v1h-43zM1261 156h43v1h-43zM1261 146h43v1h-43zM1261 138h43v1h-43zM1261 131h43v1h-43zM1261 122h43v1h-43zM1261 117h43v1h-43zM1304 329h43v1h-43zM1304 318h43v1h-43zM1304 203h43v1h-43zM1304 178h43v1h-43zM1304 176h43v1h-43zM1304 174h43v1h-43zM1304 155h43v2h-43zM1304 149h43v1h-43zM1304 144h43v3h-43zM1304 141h43v1h-43zM1304 136h43v1h-43zM1304 130h43v1h-43zM1304 127h43v2h-43zM1304 123h43v1h-43zM1304 117h43v1h-43zM1304 115h43v1h-43zM1304 112h43v1h-43zM1304 109h43v2h-43zM1304 105h43v2h-43zM1304 103h43v1h-43zM1304 99h43v1h-43z"/>
</g>
<clipPath id="c4"><rect x="1193.5" y="92.5" width="215" height="257"/></clipPath>
<g clip-path="url(#c4)" fill="none" stroke-linecap="butt">
<polyline stroke="#808080" stroke-width="2.08" points="1295.29,349.3 1294.73,346.04 1294.19,342.79 1293.68,339.53 1293.18,336.27 1292.71,333.02 1292.25,329.76 1291.81,326.5 1291.4,323.24 1291,319.99 1290.63,316.73 1290.27,313.47 1289.93,310.22 1289.62,306.96 1289.32,303.7 1289.05,300.45 1288.79,297.19 1288.55,293.93 1288.34,290.67 1288.14,287.42 1287.96,284.16 1287.81,280.9 1287.67,277.65 1287.55,274.39 1287.45,271.13 1287.38,267.88 1287.32,264.62 1287.28,261.36 1287.27,258.11 1287.27,254.85 1287.29,251.59 1287.33,248.33 1287.4,245.08 1287.48,241.82 1287.58,238.56 1287.7,235.31 1287.85,232.05 1288.01,228.79 1288.19,225.54 1288.39,222.28 1288.62,219.02 1288.86,215.76 1289.12,212.51 1289.4,209.25 1289.7,205.99 1290.02,202.74 1290.37,199.48 1290.73,196.22 1291.11,192.97 1291.51,189.71 1291.93,186.45 1292.37,183.19 1292.84,179.94 1293.32,176.68 1293.82,173.42 1294.34,170.17 1294.88,166.91 1295.44,163.65 1296.02,160.4 1296.62,157.14 1297.24,153.88 1297.88,150.63 1298.55,147.37 1299.23,144.11 1299.93,140.85 1300.65,137.6 1301.39,134.34 1302.15,131.08 1302.93,127.83 1303.73,124.57 1304.55,121.31 1305.39,118.06 1306.25,114.8 1307.13,111.54 1308.03,108.28 1308.95,105.03 1309.89,101.77 1310.85,98.51 1311.83,95.26 1312.83,92"/>
<polyline stroke="#ff0000" stroke-width="2.78" points="1295.29,349.3 1294.92,347.18 1294.57,345.06 1294.22,342.93 1293.88,340.81 1293.55,338.69 1293.23,336.57 1292.91,334.45 1292.61,332.33 1292.31,330.2 1292.02,328.08 1291.74,325.96 1291.47,323.84 1291.21,321.72 1290.96,319.6 1290.71,317.47 1290.47,315.35 1290.24,313.23 1290.02,311.11 1289.81,308.99 1289.61,306.87 1289.41,304.74 1289.23,302.62 1289.05,300.5 1288.88,298.38 1288.72,296.26 1288.57,294.13 1288.42,292.01 1288.29,289.89 1288.16,287.77 1288.04,285.65 1287.93,283.53 1287.83,281.4 1287.73,279.28 1287.65,277.16 1287.57,275.04 1287.51,272.92 1287.45,270.8 1287.39,268.67 1287.35,266.55"/>
<polyline stroke="#ff0000" stroke-width="2.78" points="1288.09,227.24 1288.19,225.6 1288.29,223.96 1288.39,222.33 1288.5,220.69 1288.61,219.06 1288.73,217.42 1288.86,215.78 1288.98,214.15 1289.12,212.51 1289.26,210.88 1289.4,209.24 1289.55,207.6 1289.71,205.97 1289.86,204.33 1290.03,202.69 1290.2,201.06 1290.37,199.42 1290.55,197.79 1290.74,196.15 1290.93,194.51 1291.12,192.88 1291.32,191.24 1291.52,189.61 1291.73,187.97 1291.95,186.33 1292.17,184.7 1292.39,183.06 1292.62,181.42 1292.86,179.79 1293.1,178.15 1293.34,176.52 1293.59,174.88 1293.85,173.24 1294.11,171.61 1294.37,169.97 1294.64,168.33 1294.92,166.7 1295.2,165.06 1295.48,163.43"/>
<polyline stroke="#ff0000" stroke-width="2.78" points="1299.15,144.49 1299.43,143.14 1299.72,141.8 1300.01,140.45 1300.31,139.11 1300.61,137.76 1300.91,136.41 1301.22,135.07 1301.53,133.72 1301.84,132.38 1302.16,131.03 1302.48,129.68 1302.8,128.34 1303.13,126.99 1303.46,125.65 1303.8,124.3 1304.13,122.96 1304.47,121.61 1304.82,120.26 1305.17,118.92 1305.52,117.57 1305.87,116.23 1306.23,114.88 1306.59,113.53 1306.95,112.19 1307.32,110.84 1307.69,109.5 1308.07,108.15 1308.45,106.8 1308.83,105.46 1309.21,104.11 1309.6,102.77 1309.99,101.42 1310.39,100.08 1310.79,98.73 1311.19,97.38 1311.59,96.04 1312,94.69 1312.41,93.35 1312.83,92"/>
</g>
<rect x="1193.5" y="92.5" width="215" height="257" fill="none" stroke="#000" stroke-width="1.11"/>
<path d="M1196.5 349.5v4.86M1239.5 349.5v4.86M1282.5 349.5v4.86M1325.5 349.5v4.86M1368.5 349.5v4.86M1193.5 348.5h-4.86M1193.5 297.5h-4.86M1193.5 245.5h-4.86M1193.5 194.5h-4.86M1193.5 142.5h-4.86" stroke="#000" stroke-width="1.11" fill="none"/>
<g font-size="13.89" text-anchor="middle">
<text x="1196.22" y="369.9">381</text>
<text x="1239.37" y="369.9">382</text>
<text x="1282.52" y="369.9">383</text>
<text x="1325.67" y="369.9">384</text>
<text x="1368.82" y="369.9">385</text>
</g>
<g font-size="13.89" text-anchor="end">
<text x="1183.1" y="354">0</text>
<text x="1183.1" y="302">50</text>
<text x="1183.1" y="251">100</text>
<text x="1183.1" y="199">150</text>
<text x="1183.1" y="148">200</text>
</g>
<text font-size="13.89" text-anchor="middle" x="1300.78" y="388.7">X axis (array index)</text>
<text font-size="13.89" text-anchor="middle" transform="translate(1147.1 220.65) rotate(-90)">Y axis (array index)</text>
<text font-size="16.67" text-anchor="middle" x="1300.88" y="83">C distortion: line #4/8 (deg.: 2)</text>
<rect x="1413.5" y="92.5" width="11" height="257" fill="url(#vir)" stroke="#000" stroke-width="1.11"/>
<path d="M1424.5 343.5h4.86M1424.5 314.5h4.86M1424.5 286.5h4.86M1424.5 257.5h4.86M1424.5 228.5h4.86M1424.5 199.5h4.86M1424.5 171.5h4.86M1424.5 142.5h4.86M1424.5 113.5h4.86" stroke="#000" stroke-width="1.11" fill="none"/>
<g font-size="13.89">
<text x="1434.1" y="349">20</text>
<text x="1434.1" y="320">40</text>
<text x="1434.1" y="291">60</text>
<text x="1434.1" y="262">80</text>
<text x="1434.1" y="234">100</text>
<text x="1434.1" y="205">120</text>
<text x="1434.1" y="176">140</text>
<text x="1434.1" y="147">160</text>
<text x="1434.1" y="119">180</text>
</g>
<text font-size="13.89" text-anchor="middle" transform="translate(1476.02 220.65) rotate(-90)">Number of counts</text>
</g>
<g id="p5">
<g shape-rendering="crispEdges">
<path fill="#440154" d="M66 534h17v1h-17zM66 531h17v1h-17zM66 483h17v2h-17zM66 475h17v1h-17zM66 465h17v2h-17zM66 454h17v1h-17zM66 448h17v2h-17zM66 444h17v3h-17zM66 439h17v1h-17zM66 436h17v1h-17zM256 660h27v1h-27zM256 590h27v1h-27z"/>
<path fill="#450457" d="M66 686h17v2h-17zM66 681h17v4h-17zM66 677h17v3h-17zM66 672h17v4h-17zM66 669h17v1h-17zM66 667h17v1h-17zM66 665h17v1h-17zM66 659h17v1h-17zM66 657h17v1h-17zM66 652h17v3h-17zM66 644h17v5h-17zM66 640h17v3h-17zM66 624h17v15h-17zM66 621h17v2h-17zM66 614h17v6h-17zM66 607h17v6h-17zM66 603h17v3h-17zM66 596h17v6h-17zM66 591h17v3h-17zM66 584h17v6h-17zM66 582h17v1h-17zM66 580h17v1h-17zM66 575h17v3h-17zM66 570h17v4h-17zM66 535h17v34h-17zM66 532h17v2h-17zM66 485h17v46h-17zM66 476h17v7h-17zM66 467h17v8h-17zM66 455h17v10h-17zM66 450h17v4h-17zM66 447h17v1h-17zM66 440h17v4h-17zM66 437h17v2h-17zM66 429h17v7h-17zM256 686h27v2h-27zM256 681h27v4h-27zM256 676h27v4h-27zM256 672h27v3h-27zM256 670h27v1h-27zM256 661h27v8h-27zM256 655h27v5h-27zM256 647h27v6h-27zM256 643h27v2h-27zM256 623h27v18h-27zM256 620h27v1h-27zM256 618h27v1h-27zM256 611h27v5h-27zM256 608h27v1h-27zM256 605h27v2h-27zM256 602h27v1h-27zM256 600h27v1h-27zM256 592h27v7h-27zM256 588h27v2h-27zM256 577h27v5h-27zM256 565h27v11h-27zM256 563h27v1h-27zM256 559h27v3h-27zM256 554h27v3h-27zM256 550h27v2h-27zM256 543h27v3h-27zM256 534h27v6h-27zM256 532h27v1h-27zM256 527h27v3h-27zM256 524h27v2h-27zM256 521h27v2h-27zM256 515h27v2h-27z"/>
<path fill="#46085c" d="M66 685h17v1h-17zM66 680h17v1h-17zM66 676h17v1h-17zM66 670h17v2h-17zM66 668h17v1h-17zM66 666h17v1h-17zM66 660h17v5h-17zM66 658h17v1h-17zM66 655h17v2h-17zM66 649h17v3h-17zM66 643h17v1h-17zM66 639h17v1h-17zM66 623h17v1h-17zM66 620h17v1h-17zM66 613h17v1h-17zM66 606h17v1h-17zM66 602h17v1h-17zM66 594h17v2h-17zM66 590h17v1h-17zM66 583h17v1h-17zM66 581h17v1h-17zM66 578h17v2h-17zM66 574h17v1h-17zM66 569h17v1h-17zM256 685h27v1h-27zM256 680h27v1h-27zM256 675h27v1h-27zM256 671h27v1h-27zM256 669h27v1h-27zM256 653h27v2h-27zM256 645h27v2h-27zM256 641h27v2h-27zM256 621h27v2h-27zM256 619h27v1h-27zM256 616h27v2h-27zM256 609h27v2h-27zM256 607h27v1h-27zM256 603h27v2h-27zM256 601h27v1h-27zM256 599h27v1h-27zM256 591h27v1h-27zM256 582h27v6h-27zM256 576h27v1h-27zM256 564h27v1h-27zM256 562h27v1h-27zM256 557h27v2h-27zM256 552h27v2h-27zM256 546h27v4h-27zM256 540h27v3h-27zM256 533h27v1h-27zM256 530h27v2h-27zM256 526h27v1h-27zM256 523h27v1h-27zM256 517h27v4h-27zM256 506h27v9h-27zM256 498h27v7h-27zM256 493h27v4h-27zM256 489h27v2h-27zM256 480h27v8h-27zM256 475h27v2h-27zM256 472h27v1h-27zM256 469h27v2h-27zM256 463h27v1h-27zM256 461h27v1h-27z"/>
<path fill="#470d60" d="M256 505h27v1h-27zM256 497h27v1h-27zM256 491h27v2h-27zM256 488h27v1h-27zM256 477h27v3h-27zM256 473h27v2h-27zM256 471h27v1h-27zM256 464h27v5h-27zM256 462h27v1h-27zM256 455h27v6h-27zM256 450h27v4h-27zM256 437h27v11h-27zM256 434h27v2h-27zM256 429h27v3h-27z"/>
<path fill="#471063" d="M256 454h27v1h-27zM256 448h27v2h-27zM256 436h27v1h-27zM256 432h27v2h-27z"/>
<path fill="#482576" d="M83 434h43v1h-43zM83 429h43v3h-43z"/>
<path fill="#482979" d="M83 447h43v1h-43zM83 440h43v1h-43zM83 438h43v1h-43zM83 436h43v1h-43zM83 432h43v2h-43z"/>
<path fill="#472d7b" d="M83 448h43v2h-43zM83 444h43v3h-43zM83 441h43v2h-43zM83 439h43v1h-43zM83 437h43v1h-43zM83 435h43v1h-43z"/>
<path fill="#46307e" d="M83 454h43v1h-43zM83 450h43v3h-43zM83 443h43v1h-43z"/>
<path fill="#46337f" d="M83 465h43v1h-43zM83 455h43v2h-43zM83 453h43v1h-43zM212 662h44v2h-44zM212 647h44v1h-44z"/>
<path fill="#453781" d="M83 466h43v2h-43zM83 463h43v2h-43zM83 461h43v1h-43zM83 457h43v3h-43zM212 677h44v1h-44zM212 667h44v1h-44zM212 660h44v2h-44zM212 648h44v1h-44zM212 646h44v1h-44zM212 643h44v2h-44zM212 639h44v1h-44zM212 634h44v1h-44zM212 620h44v1h-44z"/>
<path fill="#443a83" d="M83 468h43v7h-43zM83 462h43v1h-43zM83 460h43v1h-43zM212 683h44v1h-44zM212 678h44v4h-44zM212 658h44v2h-44zM212 651h44v3h-44zM212 649h44v1h-44zM212 635h44v2h-44zM212 633h44v1h-44zM212 630h44v1h-44zM212 621h44v5h-44zM212 613h44v2h-44z"/>
<path fill="#433d84" d="M83 485h43v1h-43zM83 479h43v1h-43zM83 476h43v1h-43zM212 686h44v2h-44zM212 684h44v1h-44zM212 682h44v1h-44zM212 670h44v4h-44zM212 668h44v1h-44zM212 664h44v2h-44zM212 654h44v4h-44zM212 645h44v1h-44zM212 642h44v1h-44zM212 640h44v1h-44zM212 637h44v1h-44zM212 631h44v2h-44zM212 628h44v1h-44zM212 626h44v1h-44zM212 618h44v1h-44zM212 602h44v1h-44zM212 595h44v1h-44z"/>
<path fill="#424086" d="M83 486h43v1h-43zM83 477h43v2h-43zM83 475h43v1h-43zM212 685h44v1h-44zM212 674h44v3h-44zM212 669h44v1h-44zM212 666h44v1h-44zM212 650h44v1h-44zM212 638h44v1h-44zM212 629h44v1h-44zM212 627h44v1h-44zM212 619h44v1h-44zM212 617h44v1h-44zM212 615h44v1h-44zM212 612h44v1h-44zM212 606h44v3h-44zM212 601h44v1h-44zM212 596h44v1h-44zM212 594h44v1h-44z"/>
<path fill="#414487" d="M83 491h43v1h-43zM83 487h43v3h-43zM83 480h43v5h-43zM212 641h44v1h-44zM212 616h44v1h-44zM212 609h44v3h-44zM212 605h44v1h-44zM212 592h44v2h-44zM212 588h44v2h-44zM212 582h44v1h-44z"/>
<path fill="#404688" d="M83 494h43v3h-43zM83 490h43v1h-43zM212 600h44v1h-44zM212 597h44v1h-44zM212 590h44v1h-44zM212 581h44v1h-44zM212 575h44v1h-44z"/>
<path fill="#3e4989" d="M83 535h43v1h-43zM83 502h43v1h-43zM83 500h43v1h-43zM83 497h43v2h-43zM83 492h43v2h-43zM212 603h44v2h-44zM212 598h44v1h-44zM212 591h44v1h-44zM212 580h44v1h-44zM212 577h44v1h-44zM212 574h44v1h-44zM212 571h44v1h-44z"/>
<path fill="#3d4d8a" d="M83 504h43v2h-43zM83 499h43v1h-43zM212 583h44v3h-44zM212 578h44v2h-44zM212 576h44v1h-44zM212 572h44v2h-44zM212 568h44v1h-44zM212 562h44v3h-44z"/>
<path fill="#3c4f8a" d="M83 538h43v1h-43zM83 515h43v1h-43zM83 506h43v3h-43zM83 503h43v1h-43zM83 501h43v1h-43zM212 599h44v1h-44zM212 586h44v2h-44zM212 570h44v1h-44zM212 566h44v1h-44zM212 555h44v1h-44z"/>
<path fill="#3b528b" d="M83 514h43v1h-43zM83 512h43v1h-43zM83 509h43v1h-43zM212 569h44v1h-44zM212 567h44v1h-44zM212 565h44v1h-44zM212 561h44v1h-44z"/>
<path fill="#39558c" d="M83 534h43v1h-43zM83 516h43v3h-43zM83 513h43v1h-43zM83 510h43v2h-43zM212 556h44v3h-44z"/>
<path fill="#38598c" d="M83 537h43v1h-43zM83 530h43v1h-43zM83 522h43v2h-43zM83 519h43v1h-43zM212 559h44v2h-44zM212 552h44v3h-44zM212 550h44v1h-44zM212 547h44v1h-44z"/>
<path fill="#375b8d" d="M83 532h43v1h-43zM83 524h43v6h-43zM83 520h43v2h-43zM212 551h44v1h-44zM212 548h44v2h-44zM212 545h44v1h-44zM212 534h44v4h-44z"/>
<path fill="#355e8d" d="M83 648h43v1h-43zM83 613h43v1h-43zM83 543h43v1h-43zM83 533h43v1h-43zM83 531h43v1h-43zM212 546h44v1h-44zM212 543h44v1h-44zM212 540h44v1h-44zM212 533h44v1h-44z"/>
<path fill="#34618d" d="M83 536h43v1h-43zM212 541h44v1h-44zM212 539h44v1h-44zM212 531h44v1h-44zM212 524h44v2h-44zM212 522h44v1h-44z"/>
<path fill="#33638d" d="M212 544h44v1h-44zM212 542h44v1h-44zM212 538h44v1h-44zM212 532h44v1h-44zM212 530h44v1h-44zM212 526h44v1h-44zM212 523h44v1h-44zM212 520h44v2h-44z"/>
<path fill="#31668e" d="M83 542h43v1h-43zM83 539h43v1h-43zM212 527h44v3h-44z"/>
<path fill="#30698e" d="M83 617h43v1h-43zM83 591h43v1h-43zM212 511h44v1h-44z"/>
<path fill="#2f6b8e" d="M83 678h43v1h-43zM83 647h43v1h-43zM83 554h43v1h-43zM83 544h43v1h-43zM83 540h43v2h-43zM212 517h44v3h-44zM212 512h44v3h-44zM212 510h44v1h-44z"/>
<path fill="#2e6e8e" d="M83 605h43v1h-43zM83 555h43v3h-43zM83 551h43v1h-43zM83 545h43v4h-43zM212 515h44v2h-44zM212 506h44v1h-44z"/>
<path fill="#2d718e" d="M83 558h43v3h-43zM83 552h43v2h-43zM83 549h43v1h-43zM212 509h44v1h-44zM212 507h44v1h-44zM212 504h44v1h-44zM212 501h44v1h-44zM212 499h44v1h-44z"/>
<path fill="#2c738e" d="M83 670h43v1h-43zM83 562h43v2h-43zM83 550h43v1h-43zM212 508h44v1h-44zM212 505h44v1h-44zM212 502h44v2h-44zM212 500h44v1h-44zM212 498h44v1h-44zM212 492h44v1h-44z"/>
<path fill="#2b758e" d="M83 673h43v1h-43zM83 625h43v1h-43zM83 620h43v1h-43zM83 564h43v1h-43zM83 561h43v1h-43zM212 493h44v4h-44z"/>
<path fill="#2a788e" d="M83 604h43v1h-43zM83 583h43v1h-43zM83 565h43v1h-43zM212 497h44v1h-44zM212 490h44v2h-44z"/>
<path fill="#297b8e" d="M83 684h43v1h-43zM83 612h43v1h-43zM83 599h43v1h-43zM83 584h43v4h-43zM83 578h43v1h-43zM83 567h43v1h-43zM212 487h44v3h-44zM212 480h44v3h-44zM212 477h44v1h-44z"/>
<path fill="#287d8e" d="M83 683h43v1h-43zM83 631h43v2h-43zM83 624h43v1h-43zM83 582h43v1h-43zM83 579h43v1h-43zM83 576h43v1h-43zM83 573h43v2h-43zM83 569h43v1h-43zM83 566h43v1h-43zM212 483h44v2h-44zM212 478h44v1h-44z"/>
<path fill="#27808e" d="M83 669h43v1h-43zM83 637h43v1h-43zM83 598h43v1h-43zM83 577h43v1h-43zM83 575h43v1h-43zM83 572h43v1h-43zM83 568h43v1h-43zM212 486h44v1h-44zM212 479h44v1h-44zM212 475h44v2h-44z"/>
<path fill="#26828e" d="M83 685h43v1h-43zM83 672h43v1h-43zM83 667h43v1h-43zM83 654h43v3h-43zM83 650h43v1h-43zM83 641h43v2h-43zM83 629h43v1h-43zM83 626h43v2h-43zM83 616h43v1h-43zM83 610h43v1h-43zM83 607h43v1h-43zM83 603h43v1h-43zM83 600h43v1h-43zM83 593h43v1h-43zM83 580h43v1h-43zM83 571h43v1h-43zM212 485h44v1h-44z"/>
<path fill="#25848e" d="M83 686h43v2h-43zM83 682h43v1h-43zM83 677h43v1h-43zM83 665h43v2h-43zM83 653h43v1h-43zM83 640h43v1h-43zM83 633h43v1h-43zM83 628h43v1h-43zM83 611h43v1h-43zM83 606h43v1h-43zM83 602h43v1h-43zM83 592h43v1h-43zM83 581h43v1h-43zM83 570h43v1h-43zM212 474h44v1h-44zM212 472h44v1h-44zM212 461h44v1h-44z"/>
<path fill="#24878e" d="M83 680h43v2h-43zM83 674h43v2h-43zM83 663h43v1h-43zM83 651h43v2h-43zM83 645h43v1h-43zM83 636h43v1h-43zM83 630h43v1h-43zM83 619h43v1h-43zM83 597h43v1h-43zM83 594h43v1h-43zM83 589h43v1h-43zM212 473h44v1h-44zM212 471h44v1h-44zM212 462h44v2h-44zM212 459h44v2h-44z"/>
<path fill="#238a8d" d="M83 668h43v1h-43zM83 664h43v1h-43zM83 657h43v1h-43zM83 649h43v1h-43zM83 644h43v1h-43zM83 638h43v1h-43zM83 635h43v1h-43zM83 615h43v1h-43zM83 608h43v1h-43zM83 590h43v1h-43zM212 470h44v1h-44zM212 468h44v1h-44zM212 464h44v2h-44z"/>
<path fill="#228c8d" d="M83 679h43v1h-43zM83 646h43v1h-43zM83 634h43v1h-43zM83 623h43v1h-43zM83 618h43v1h-43zM83 614h43v1h-43zM83 609h43v1h-43zM83 601h43v1h-43zM83 588h43v1h-43zM212 467h44v1h-44z"/>
<path fill="#218f8d" d="M83 676h43v1h-43zM83 662h43v1h-43zM83 621h43v2h-43zM212 469h44v1h-44zM212 466h44v1h-44zM212 456h44v1h-44z"/>
<path fill="#20928c" d="M83 671h43v1h-43zM83 661h43v1h-43zM83 639h43v1h-43zM83 595h43v2h-43zM212 457h44v2h-44zM212 453h44v1h-44z"/>
<path fill="#1f948c" d="M83 659h43v2h-43zM83 643h43v1h-43zM212 452h44v1h-44z"/>
<path fill="#1f968b" d="M83 658h43v1h-43zM212 454h44v2h-44zM212 443h44v2h-44z"/>
<path fill="#1f998a" d="M212 451h44v1h-44zM212 445h44v1h-44z"/>
<path fill="#1e9c89" d="M212 446h44v4h-44zM212 442h44v1h-44z"/>
<path fill="#1f9e89" d="M212 450h44v1h-44zM212 439h44v1h-44z"/>
<path fill="#1fa188" d="M212 441h44v1h-44zM212 435h44v1h-44z"/>
<path fill="#20a386" d="M212 440h44v1h-44zM212 437h44v2h-44zM212 433h44v1h-44z"/>
<path fill="#21a585" d="M212 436h44v1h-44zM212 434h44v1h-44z"/>
<path fill="#22a884" d="M212 431h44v2h-44z"/>
<path fill="#26ad81" d="M212 429h44v2h-44z"/>
<path fill="#5cc863" d="M126 447h43v1h-43z"/>
<path fill="#63cb5f" d="M126 429h43v2h-43z"/>
<path fill="#67cc5c" d="M126 535h43v1h-43zM126 432h43v2h-43z"/>
<path fill="#6ece58" d="M126 434h43v1h-43zM126 431h43v1h-43z"/>
<path fill="#75d054" d="M126 648h43v1h-43z"/>
<path fill="#81d34d" d="M126 443h43v1h-43zM126 439h43v2h-43zM126 435h43v1h-43z"/>
<path fill="#89d548" d="M126 450h43v1h-43zM126 445h43v2h-43zM126 436h43v1h-43z"/>
<path fill="#8ed645" d="M126 538h43v1h-43zM126 448h43v2h-43zM126 444h43v1h-43zM126 441h43v1h-43zM126 437h43v2h-43zM169 662h43v2h-43zM169 630h43v1h-43zM169 623h43v1h-43zM169 595h43v1h-43zM169 563h43v1h-43z"/>
<path fill="#95d840" d="M126 678h43v1h-43zM126 464h43v1h-43zM126 451h43v1h-43zM126 442h43v1h-43zM169 633h43v1h-43zM169 594h43v1h-43zM169 564h43v1h-43z"/>
<path fill="#9dd93b" d="M126 647h43v1h-43zM126 471h43v1h-43zM126 465h43v1h-43zM126 463h43v1h-43zM126 454h43v1h-43zM126 452h43v1h-43zM169 632h43v1h-43zM169 624h43v1h-43zM169 621h43v2h-43zM169 606h43v1h-43zM169 582h43v1h-43zM169 562h43v1h-43z"/>
<path fill="#a2da37" d="M126 613h43v1h-43zM126 534h43v1h-43zM126 473h43v1h-43zM126 466h43v2h-43zM126 460h43v1h-43zM126 458h43v1h-43zM126 456h43v1h-43zM126 453h43v1h-43zM169 677h43v1h-43zM169 652h43v1h-43zM169 639h43v1h-43zM169 628h43v1h-43zM169 626h43v1h-43zM169 620h43v1h-43zM169 614h43v1h-43zM169 602h43v1h-43zM169 593h43v1h-43zM169 581h43v1h-43zM169 574h43v2h-43zM169 555h43v1h-43z"/>
<path fill="#aadc32" d="M126 537h43v1h-43zM126 472h43v1h-43zM126 459h43v1h-43zM126 457h43v1h-43zM126 455h43v1h-43zM169 653h43v1h-43zM169 651h43v1h-43zM169 648h43v2h-43zM169 646h43v1h-43zM169 643h43v2h-43zM169 636h43v1h-43zM169 634h43v1h-43zM169 631h43v1h-43zM169 629h43v1h-43zM169 625h43v1h-43zM169 618h43v2h-43zM169 573h43v1h-43zM169 571h43v1h-43zM169 565h43v1h-43z"/>
<path fill="#b2dd2d" d="M126 485h43v2h-43zM126 480h43v1h-43zM126 474h43v2h-43zM126 470h43v1h-43zM126 468h43v1h-43zM126 461h43v2h-43zM169 681h43v1h-43zM169 661h43v1h-43zM169 635h43v1h-43zM169 615h43v1h-43zM169 609h43v2h-43zM169 607h43v1h-43zM169 596h43v1h-43zM169 568h43v1h-43zM169 566h43v1h-43zM169 561h43v1h-43zM169 557h43v1h-43zM169 554h43v1h-43z"/>
<path fill="#bade28" d="M126 620h43v1h-43zM126 554h43v1h-43zM126 496h43v1h-43zM126 481h43v1h-43zM126 479h43v1h-43zM126 476h43v1h-43zM126 469h43v1h-43zM169 680h43v1h-43zM169 664h43v1h-43zM169 660h43v1h-43zM169 654h43v3h-43zM169 647h43v1h-43zM169 645h43v1h-43zM169 637h43v1h-43zM169 627h43v1h-43zM169 601h43v1h-43zM169 577h43v2h-43zM169 572h43v1h-43zM169 556h43v1h-43z"/>
<path fill="#c0df25" d="M126 670h43v1h-43zM126 617h43v1h-43zM126 516h43v1h-43zM126 514h43v1h-43zM126 497h43v1h-43zM126 495h43v1h-43zM126 491h43v3h-43zM126 482h43v1h-43zM169 682h43v2h-43zM169 679h43v1h-43zM169 665h43v1h-43zM169 650h43v1h-43zM169 640h43v1h-43zM169 613h43v1h-43zM169 608h43v1h-43zM169 600h43v1h-43zM169 592h43v1h-43zM169 588h43v2h-43zM169 576h43v1h-43zM169 569h43v2h-43zM169 567h43v1h-43z"/>
<path fill="#c8e020" d="M126 625h43v1h-43zM126 557h43v1h-43zM126 532h43v1h-43zM126 530h43v1h-43zM126 526h43v1h-43zM126 515h43v1h-43zM126 506h43v2h-43zM126 504h43v1h-43zM126 502h43v1h-43zM126 500h43v1h-43zM126 498h43v1h-43zM126 487h43v2h-43zM126 483h43v2h-43zM126 478h43v1h-43zM169 658h43v2h-43zM169 641h43v1h-43zM169 638h43v1h-43zM169 612h43v1h-43zM169 580h43v1h-43zM169 558h43v2h-43zM169 548h43v1h-43z"/>
<path fill="#d0e11c" d="M126 631h43v2h-43zM126 591h43v1h-43zM126 563h43v1h-43zM126 555h43v2h-43zM126 543h43v1h-43zM126 522h43v2h-43zM126 517h43v2h-43zM126 512h43v2h-43zM126 505h43v1h-43zM126 503h43v1h-43zM126 501h43v1h-43zM126 499h43v1h-43zM126 494h43v1h-43zM126 489h43v1h-43zM126 477h43v1h-43zM169 684h43v1h-43zM169 678h43v1h-43zM169 672h43v1h-43zM169 642h43v1h-43zM169 617h43v1h-43zM169 611h43v1h-43zM169 590h43v1h-43zM169 560h43v1h-43zM169 551h43v3h-43zM169 549h43v1h-43zM169 523h43v1h-43z"/>
<path fill="#d5e21a" d="M126 683h43v2h-43zM126 677h43v1h-43zM126 673h43v1h-43zM126 633h43v1h-43zM126 605h43v1h-43zM126 564h43v1h-43zM126 562h43v1h-43zM126 547h43v1h-43zM126 542h43v1h-43zM126 536h43v1h-43zM126 533h43v1h-43zM126 531h43v1h-43zM126 527h43v2h-43zM126 524h43v1h-43zM126 521h43v1h-43zM126 508h43v4h-43zM126 490h43v1h-43zM169 686h43v2h-43zM169 671h43v1h-43zM169 669h43v1h-43zM169 657h43v1h-43zM169 616h43v1h-43zM169 603h43v1h-43zM169 584h43v2h-43zM169 547h43v1h-43zM169 533h43v1h-43zM169 522h43v1h-43z"/>
<path fill="#dde318" d="M126 626h43v1h-43zM126 558h43v2h-43zM126 540h43v1h-43zM126 525h43v1h-43zM169 676h43v1h-43zM169 674h43v1h-43zM169 667h43v1h-43zM169 605h43v1h-43zM169 598h43v1h-43zM169 586h43v2h-43zM169 583h43v1h-43zM169 579h43v1h-43zM169 546h43v1h-43zM169 540h43v1h-43zM169 536h43v1h-43zM169 530h43v1h-43zM169 524h43v1h-43z"/>
<path fill="#e5e419" d="M126 682h43v1h-43zM126 663h43v1h-43zM126 652h43v3h-43zM126 630h43v1h-43zM126 624h43v1h-43zM126 612h43v1h-43zM126 574h43v1h-43zM126 560h43v1h-43zM126 551h43v1h-43zM126 529h43v1h-43zM126 519h43v1h-43zM169 675h43v1h-43zM169 668h43v1h-43zM169 597h43v1h-43zM169 591h43v1h-43zM169 550h43v1h-43zM169 545h43v1h-43zM169 537h43v1h-43zM169 525h43v2h-43zM169 521h43v1h-43z"/>
<path fill="#eae51a" d="M126 680h43v2h-43zM126 672h43v1h-43zM126 655h43v2h-43zM126 651h43v1h-43zM126 649h43v1h-43zM126 645h43v1h-43zM126 640h43v1h-43zM126 637h43v1h-43zM126 628h43v1h-43zM126 582h43v1h-43zM126 575h43v1h-43zM126 573h43v1h-43zM126 565h43v1h-43zM126 561h43v1h-43zM126 552h43v2h-43zM126 541h43v1h-43zM126 539h43v1h-43zM169 685h43v1h-43zM169 541h43v1h-43zM169 539h43v1h-43zM169 534h43v1h-43zM169 531h43v2h-43zM169 520h43v1h-43zM169 510h43v3h-43z"/>
<path fill="#f1e51d" d="M126 686h43v2h-43zM126 669h43v1h-43zM126 667h43v1h-43zM126 650h43v1h-43zM126 644h43v1h-43zM126 641h43v2h-43zM126 634h43v1h-43zM126 629h43v1h-43zM126 619h43v1h-43zM126 604h43v1h-43zM126 594h43v1h-43zM126 578h43v1h-43zM126 548h43v2h-43zM126 520h43v1h-43zM169 673h43v1h-43zM169 670h43v1h-43zM169 666h43v1h-43zM169 604h43v1h-43zM169 599h43v1h-43zM169 542h43v1h-43zM169 535h43v1h-43zM169 514h43v1h-43zM169 500h43v1h-43z"/>
<path fill="#f8e621" d="M126 685h43v1h-43zM126 679h43v1h-43zM126 666h43v1h-43zM126 664h43v1h-43zM126 662h43v1h-43zM126 627h43v1h-43zM126 623h43v1h-43zM126 615h43v1h-43zM126 609h43v3h-43zM126 606h43v2h-43zM126 602h43v1h-43zM126 599h43v1h-43zM126 593h43v1h-43zM126 583h43v1h-43zM126 579h43v1h-43zM126 566h43v2h-43zM126 550h43v1h-43zM126 546h43v1h-43zM126 544h43v1h-43zM169 543h43v1h-43zM169 527h43v2h-43zM169 515h43v2h-43zM169 513h43v1h-43zM169 504h43v2h-43zM169 498h43v1h-43zM169 480h43v1h-43z"/>
<path fill="#fde725" d="M126 674h43v3h-43zM126 671h43v1h-43zM126 668h43v1h-43zM126 665h43v1h-43zM126 657h43v5h-43zM126 646h43v1h-43zM126 643h43v1h-43zM126 638h43v2h-43zM126 635h43v2h-43zM126 621h43v2h-43zM126 618h43v1h-43zM126 616h43v1h-43zM126 614h43v1h-43zM126 608h43v1h-43zM126 603h43v1h-43zM126 600h43v2h-43zM126 595h43v4h-43zM126 592h43v1h-43zM126 584h43v7h-43zM126 580h43v2h-43zM126 576h43v2h-43zM126 568h43v5h-43zM126 545h43v1h-43zM169 544h43v1h-43zM169 538h43v1h-43zM169 529h43v1h-43zM169 517h43v3h-43zM169 506h43v4h-43zM169 501h43v3h-43zM169 499h43v1h-43zM169 481h43v17h-43zM169 429h43v51h-43z"/>
</g>
<clipPath id="c5"><rect x="66.5" y="429.5" width="216" height="258"/></clipPath>
<g clip-path="url(#c5)" fill="none" stroke-linecap="butt">
<polyline stroke="#808080" stroke-width="2.08" points="165.6,687.4 165.2,684.14 164.82,680.88 164.45,677.62 164.1,674.36 163.77,671.11 163.46,667.85 163.16,664.59 162.88,661.33 162.61,658.07 162.37,654.81 162.13,651.55 161.92,648.29 161.72,645.03 161.55,641.78 161.38,638.52 161.24,635.26 161.11,632 161,628.74 160.9,625.48 160.82,622.22 160.76,618.96 160.72,615.71 160.69,612.45 160.68,609.19 160.69,605.93 160.71,602.67 160.75,599.41 160.81,596.15 160.88,592.89 160.97,589.63 161.08,586.38 161.21,583.12 161.35,579.86 161.51,576.6 161.68,573.34 161.87,570.08 162.08,566.82 162.31,563.56 162.55,560.3 162.81,557.05 163.09,553.79 163.39,550.53 163.7,547.27 164.02,544.01 164.37,540.75 164.73,537.49 165.11,534.23 165.51,530.97 165.92,527.72 166.35,524.46 166.79,521.2 167.26,517.94 167.74,514.68 168.24,511.42 168.75,508.16 169.28,504.9 169.83,501.64 170.39,498.39 170.98,495.13 171.57,491.87 172.19,488.61 172.82,485.35 173.47,482.09 174.14,478.83 174.82,475.57 175.52,472.32 176.24,469.06 176.97,465.8 177.73,462.54 178.49,459.28 179.28,456.02 180.08,452.76 180.9,449.5 181.73,446.24 182.59,442.99 183.46,439.73 184.34,436.47 185.25,433.21 186.17,429.95"/>
<polyline stroke="#ff0000" stroke-width="2.78" points="165.6,687.4 165.34,685.28 165.08,683.15 164.83,681.03 164.59,678.91 164.36,676.79 164.13,674.66 163.92,672.54 163.7,670.42 163.5,668.29 163.3,666.17 163.11,664.05 162.93,661.92 162.75,659.8 162.58,657.68 162.42,655.56 162.27,653.43 162.12,651.31 161.98,649.19 161.85,647.06 161.72,644.94 161.6,642.82 161.49,640.69 161.38,638.57 161.29,636.45 161.2,634.33 161.12,632.2 161.04,630.08 160.97,627.96 160.91,625.83 160.86,623.71 160.81,621.59 160.77,619.46 160.74,617.34 160.71,615.22 160.69,613.1 160.68,610.97 160.68,608.85 160.68,606.73 160.69,604.6"/>
<polyline stroke="#ff0000" stroke-width="2.78" points="162.19,565.27 162.31,563.63 162.43,561.99 162.55,560.35 162.68,558.72 162.81,557.08 162.95,555.44 163.09,553.81 163.24,552.17 163.39,550.53 163.54,548.89 163.7,547.26 163.86,545.62 164.03,543.98 164.2,542.35 164.37,540.71 164.55,539.07 164.74,537.43 164.93,535.8 165.12,534.16 165.32,532.52 165.52,530.89 165.72,529.25 165.93,527.61 166.15,525.97 166.36,524.34 166.59,522.7 166.81,521.06 167.04,519.43 167.28,517.79 167.52,516.15 167.76,514.52 168.01,512.88 168.26,511.24 168.52,509.6 168.78,507.97 169.05,506.33 169.32,504.69 169.59,503.06 169.87,501.42"/>
<polyline stroke="#ff0000" stroke-width="2.78" points="173.4,482.47 173.67,481.12 173.94,479.78 174.22,478.43 174.5,477.08 174.79,475.74 175.07,474.39 175.36,473.04 175.66,471.7 175.95,470.35 176.25,469 176.55,467.66 176.86,466.31 177.16,464.96 177.47,463.62 177.79,462.27 178.1,460.92 178.42,459.58 178.74,458.23 179.07,456.88 179.4,455.54 179.73,454.19 180.06,452.84 180.4,451.5 180.73,450.15 181.08,448.8 181.42,447.46 181.77,446.11 182.12,444.76 182.47,443.42 182.83,442.07 183.19,440.72 183.55,439.38 183.92,438.03 184.28,436.68 184.65,435.34 185.03,433.99 185.4,432.64 185.78,431.3 186.17,429.95"/>
</g>
<rect x="66.5" y="429.5" width="216" height="258" fill="none" stroke="#000" stroke-width="1.11"/>
<path d="M104.5 687.5v4.86M147.5 687.5v4.86M191.5 687.5v4.86M234.5 687.5v4.86M277.5 687.5v4.86M66.5 686.5h-4.86M66.5 635.5h-4.86M66.5 583.5h-4.86M66.5 532.5h-4.86M66.5 480.5h-4.86" stroke="#000" stroke-width="1.11" fill="none"/>
<g font-size="13.89" text-anchor="middle">
<text x="104.77" y="707.9">449</text>
<text x="147.92" y="707.9">450</text>
<text x="191.07" y="707.9">451</text>
<text x="234.22" y="707.9">452</text>
<text x="277.37" y="707.9">453</text>
</g>
<g font-size="13.89" text-anchor="end">
<text x="56.1" y="692">0</text>
<text x="56.1" y="640">50</text>
<text x="56.1" y="589">100</text>
<text x="56.1" y="537">150</text>
<text x="56.1" y="486">200</text>
</g>
<text font-size="13.89" text-anchor="middle" x="173.78" y="726.7">X axis (array index)</text>
<text font-size="13.89" text-anchor="middle" transform="translate(20.1 558.67) rotate(-90)">Y axis (array index)</text>
<text font-size="16.67" text-anchor="middle" x="173.88" y="420">C distortion: line #5/8 (deg.: 2)</text>
<rect x="287.5" y="429.5" width="10" height="258" fill="url(#vir)" stroke="#000" stroke-width="1.11"/>
<path d="M297.5 644.5h4.86M297.5 596.5h4.86M297.5 549.5h4.86M297.5 501.5h4.86M297.5 453.5h4.86" stroke="#000" stroke-width="1.11" fill="none"/>
<g font-size="13.89">
<text x="307.15" y="650">5000</text>
<text x="307.15" y="602">10000</text>
<text x="307.15" y="554">15000</text>
<text x="307.15" y="506">20000</text>
<text x="307.15" y="459">25000</text>
</g>
<text font-size="13.89" text-anchor="middle" transform="translate(365.75 558.67) rotate(-90)">Number of counts</text>
</g>
<g id="p6">
<g shape-rendering="crispEdges">
<path fill="#440154" d="M652 683h6v1h-6zM652 680h6v1h-6zM652 666h6v1h-6zM652 664h6v1h-6zM652 654h6v1h-6zM652 652h6v1h-6zM652 636h6v1h-6zM652 633h6v1h-6zM652 630h6v1h-6zM652 621h6v2h-6zM652 619h6v1h-6zM652 615h6v1h-6zM652 543h6v1h-6zM652 537h6v1h-6zM652 535h6v1h-6z"/>
<path fill="#450457" d="M441 431h38v1h-38zM652 684h6v4h-6zM652 681h6v2h-6zM652 667h6v13h-6zM652 665h6v1h-6zM652 655h6v9h-6zM652 653h6v1h-6zM652 651h6v1h-6zM652 637h6v11h-6zM652 634h6v2h-6zM652 631h6v2h-6zM652 623h6v7h-6zM652 620h6v1h-6zM652 616h6v3h-6zM652 606h6v8h-6zM652 601h6v4h-6zM652 588h6v12h-6zM652 583h6v3h-6zM652 567h6v15h-6zM652 563h6v3h-6zM652 544h6v18h-6zM652 538h6v5h-6zM652 519h6v16h-6zM652 515h6v2h-6zM652 506h6v8h-6zM652 504h6v1h-6zM652 499h6v4h-6zM652 489h6v9h-6zM652 482h6v5h-6zM652 474h6v7h-6zM652 467h6v6h-6zM652 460h6v6h-6zM652 452h6v5h-6zM652 450h6v1h-6zM652 445h6v3h-6zM652 439h6v5h-6zM652 437h6v1h-6zM652 431h6v3h-6z"/>
<path fill="#46085c" d="M441 460h38v1h-38zM441 452h38v1h-38zM441 442h38v5h-38zM441 438h38v3h-38zM441 434h38v3h-38zM441 432h38v1h-38zM441 429h38v2h-38zM652 648h6v3h-6zM652 614h6v1h-6zM652 605h6v1h-6zM652 600h6v1h-6zM652 586h6v2h-6zM652 582h6v1h-6zM652 566h6v1h-6zM652 562h6v1h-6zM652 536h6v1h-6zM652 517h6v2h-6zM652 514h6v1h-6zM652 505h6v1h-6zM652 503h6v1h-6zM652 498h6v1h-6zM652 487h6v2h-6zM652 481h6v1h-6zM652 473h6v1h-6zM652 466h6v1h-6zM652 457h6v3h-6zM652 451h6v1h-6zM652 448h6v2h-6zM652 444h6v1h-6zM652 438h6v1h-6zM652 434h6v3h-6zM652 429h6v2h-6z"/>
<path fill="#470d60" d="M441 472h38v1h-38zM441 468h38v3h-38zM441 466h38v1h-38zM441 464h38v1h-38zM441 461h38v2h-38zM441 453h38v7h-38zM441 447h38v5h-38zM441 441h38v1h-38zM441 437h38v1h-38zM441 433h38v1h-38zM608 677h44v2h-44zM608 663h44v1h-44zM608 660h44v2h-44zM608 658h44v1h-44zM608 650h44v1h-44zM608 643h44v2h-44zM608 636h44v1h-44zM608 627h44v2h-44zM608 621h44v2h-44zM608 614h44v1h-44zM608 582h44v1h-44zM608 574h44v1h-44zM608 571h44v1h-44zM608 563h44v1h-44z"/>
<path fill="#471063" d="M441 495h38v1h-38zM441 492h38v2h-38zM441 490h38v1h-38zM441 488h38v1h-38zM441 473h38v14h-38zM441 471h38v1h-38zM441 467h38v1h-38zM441 465h38v1h-38zM441 463h38v1h-38zM608 679h44v9h-44zM608 675h44v2h-44zM608 672h44v2h-44zM608 666h44v5h-44zM608 664h44v1h-44zM608 662h44v1h-44zM608 659h44v1h-44zM608 651h44v6h-44zM608 645h44v5h-44zM608 637h44v6h-44zM608 629h44v7h-44zM608 623h44v3h-44zM608 617h44v4h-44zM608 612h44v2h-44zM608 610h44v1h-44zM608 608h44v1h-44zM608 604h44v3h-44zM608 600h44v3h-44zM608 597h44v1h-44zM608 593h44v3h-44zM608 589h44v2h-44zM608 584h44v1h-44zM608 581h44v1h-44zM608 577h44v2h-44zM608 575h44v1h-44zM608 566h44v1h-44zM608 564h44v1h-44z"/>
<path fill="#481467" d="M441 507h38v1h-38zM441 504h38v1h-38zM441 500h38v3h-38zM441 496h38v3h-38zM441 494h38v1h-38zM441 491h38v1h-38zM441 489h38v1h-38zM441 487h38v1h-38zM608 674h44v1h-44zM608 671h44v1h-44zM608 665h44v1h-44zM608 657h44v1h-44zM608 626h44v1h-44zM608 615h44v2h-44zM608 611h44v1h-44zM608 609h44v1h-44zM608 607h44v1h-44zM608 603h44v1h-44zM608 598h44v2h-44zM608 596h44v1h-44zM608 591h44v2h-44zM608 585h44v4h-44zM608 583h44v1h-44zM608 579h44v2h-44zM608 576h44v1h-44zM608 572h44v2h-44zM608 567h44v4h-44zM608 565h44v1h-44zM608 558h44v5h-44zM608 552h44v4h-44zM608 547h44v4h-44zM608 545h44v1h-44zM608 540h44v3h-44zM608 535h44v3h-44zM608 532h44v1h-44z"/>
<path fill="#48186a" d="M441 538h38v1h-38zM441 522h38v1h-38zM441 516h38v3h-38zM441 508h38v7h-38zM441 505h38v2h-38zM441 503h38v1h-38zM441 499h38v1h-38zM608 556h44v2h-44zM608 551h44v1h-44zM608 546h44v1h-44zM608 543h44v1h-44zM608 538h44v2h-44zM608 533h44v2h-44zM608 529h44v3h-44zM608 527h44v1h-44zM608 524h44v2h-44zM608 520h44v1h-44z"/>
<path fill="#481b6d" d="M441 537h38v1h-38zM441 534h38v2h-38zM441 530h38v2h-38zM441 523h38v6h-38zM441 519h38v3h-38zM441 515h38v1h-38zM608 544h44v1h-44zM608 528h44v1h-44zM608 526h44v1h-44zM608 521h44v3h-44z"/>
<path fill="#481f70" d="M441 683h38v3h-38zM441 647h38v2h-38zM441 560h38v1h-38zM441 556h38v1h-38zM441 551h38v1h-38zM441 546h38v1h-38zM441 543h38v1h-38zM441 539h38v1h-38zM441 536h38v1h-38zM441 532h38v1h-38zM441 529h38v1h-38zM608 512h44v8h-44zM608 509h44v1h-44zM608 506h44v1h-44zM608 499h44v1h-44z"/>
<path fill="#482374" d="M441 681h38v2h-38zM441 678h38v1h-38zM441 673h38v1h-38zM441 669h38v2h-38zM441 654h38v1h-38zM441 617h38v1h-38zM441 564h38v1h-38zM441 561h38v2h-38zM441 557h38v3h-38zM441 552h38v4h-38zM441 547h38v4h-38zM441 544h38v1h-38zM441 540h38v3h-38zM441 533h38v1h-38zM608 510h44v2h-44zM608 507h44v2h-44zM608 504h44v1h-44zM608 502h44v1h-44zM608 500h44v1h-44zM608 498h44v1h-44z"/>
<path fill="#482576" d="M441 686h38v2h-38zM441 679h38v2h-38zM441 674h38v4h-38zM441 672h38v1h-38zM441 668h38v1h-38zM441 664h38v3h-38zM441 655h38v2h-38zM441 653h38v1h-38zM441 650h38v2h-38zM441 633h38v1h-38zM441 629h38v2h-38zM441 625h38v1h-38zM441 620h38v1h-38zM441 613h38v1h-38zM441 604h38v2h-38zM441 599h38v1h-38zM441 591h38v1h-38zM441 586h38v2h-38zM441 583h38v1h-38zM441 566h38v1h-38zM441 563h38v1h-38zM441 545h38v1h-38zM608 505h44v1h-44zM608 503h44v1h-44zM608 501h44v1h-44zM608 495h44v3h-44zM608 491h44v2h-44z"/>
<path fill="#482979" d="M441 671h38v1h-38zM441 667h38v1h-38zM441 662h38v2h-38zM441 660h38v1h-38zM441 657h38v1h-38zM441 652h38v1h-38zM441 649h38v1h-38zM441 644h38v3h-38zM441 640h38v3h-38zM441 635h38v4h-38zM441 631h38v2h-38zM441 628h38v1h-38zM441 626h38v1h-38zM441 624h38v1h-38zM441 610h38v2h-38zM441 606h38v1h-38zM441 603h38v1h-38zM441 598h38v1h-38zM441 592h38v1h-38zM441 584h38v2h-38zM441 572h38v8h-38zM441 569h38v1h-38zM441 567h38v1h-38zM441 565h38v1h-38zM608 493h44v2h-44zM608 487h44v4h-44zM608 483h44v2h-44zM608 481h44v1h-44z"/>
<path fill="#472d7b" d="M441 661h38v1h-38zM441 658h38v2h-38zM441 643h38v1h-38zM441 639h38v1h-38zM441 634h38v1h-38zM441 627h38v1h-38zM441 621h38v2h-38zM441 618h38v2h-38zM441 614h38v3h-38zM441 612h38v1h-38zM441 607h38v3h-38zM441 600h38v3h-38zM441 593h38v1h-38zM441 589h38v2h-38zM441 580h38v3h-38zM441 570h38v2h-38zM441 568h38v1h-38zM608 479h44v2h-44z"/>
<path fill="#46307e" d="M441 623h38v1h-38zM441 596h38v2h-38zM441 594h38v1h-38zM441 588h38v1h-38zM608 485h44v2h-44zM608 482h44v1h-44zM608 475h44v4h-44zM608 472h44v1h-44z"/>
<path fill="#46337f" d="M441 595h38v1h-38zM608 474h44v1h-44zM608 470h44v2h-44zM608 463h44v1h-44z"/>
<path fill="#453781" d="M608 473h44v1h-44zM608 467h44v3h-44zM608 464h44v1h-44zM608 459h44v3h-44z"/>
<path fill="#443a83" d="M608 465h44v2h-44zM608 462h44v1h-44z"/>
<path fill="#433d84" d="M608 454h44v5h-44z"/>
<path fill="#424086" d="M608 452h44v2h-44zM608 446h44v1h-44zM608 442h44v2h-44zM608 439h44v1h-44z"/>
<path fill="#414487" d="M608 447h44v5h-44zM608 444h44v2h-44z"/>
<path fill="#404688" d="M608 440h44v2h-44zM608 433h44v6h-44z"/>
<path fill="#3e4989" d="M608 429h44v4h-44z"/>
<path fill="#2d718e" d="M479 432h43v1h-43z"/>
<path fill="#2c738e" d="M479 447h43v1h-43zM479 433h43v2h-43zM479 429h43v3h-43z"/>
<path fill="#297b8e" d="M479 448h43v2h-43zM479 437h43v2h-43zM479 435h43v1h-43z"/>
<path fill="#287d8e" d="M479 439h43v7h-43zM479 436h43v1h-43z"/>
<path fill="#27808e" d="M479 450h43v2h-43zM479 446h43v1h-43z"/>
<path fill="#26828e" d="M479 454h43v1h-43z"/>
<path fill="#25848e" d="M479 457h43v1h-43zM479 452h43v2h-43zM565 595h43v1h-43z"/>
<path fill="#24878e" d="M479 648h43v1h-43zM479 455h43v2h-43zM565 623h43v2h-43zM565 620h43v1h-43zM565 613h43v1h-43zM565 594h43v1h-43z"/>
<path fill="#238a8d" d="M479 463h43v3h-43zM479 458h43v2h-43zM565 633h43v1h-43zM565 621h43v2h-43zM565 593h43v1h-43zM565 574h43v2h-43zM565 571h43v1h-43zM565 568h43v1h-43zM565 563h43v2h-43z"/>
<path fill="#228c8d" d="M479 462h43v1h-43zM565 662h43v1h-43zM565 648h43v1h-43zM565 643h43v2h-43zM565 639h43v1h-43zM565 630h43v1h-43zM565 625h43v1h-43zM565 614h43v1h-43zM565 602h43v1h-43zM565 596h43v1h-43zM565 589h43v1h-43zM565 581h43v2h-43zM565 572h43v1h-43z"/>
<path fill="#218f8d" d="M479 613h43v1h-43zM479 535h43v1h-43zM479 473h43v1h-43zM479 471h43v1h-43zM479 466h43v1h-43zM479 460h43v1h-43zM565 663h43v1h-43zM565 652h43v1h-43zM565 646h43v1h-43zM565 637h43v1h-43zM565 628h43v1h-43zM565 618h43v2h-43zM565 610h43v1h-43zM565 606h43v1h-43zM565 601h43v1h-43zM565 588h43v1h-43zM565 578h43v1h-43z"/>
<path fill="#20928c" d="M479 467h43v2h-43zM565 677h43v1h-43zM565 634h43v2h-43zM565 631h43v2h-43zM565 626h43v1h-43zM565 617h43v1h-43zM565 615h43v1h-43zM565 612h43v1h-43zM565 609h43v1h-43zM565 607h43v1h-43zM565 592h43v1h-43zM565 590h43v1h-43zM565 576h43v2h-43zM565 573h43v1h-43zM565 570h43v1h-43zM565 565h43v2h-43zM565 561h43v2h-43z"/>
<path fill="#1f948c" d="M479 474h43v1h-43zM479 472h43v1h-43zM479 469h43v2h-43zM479 461h43v1h-43zM565 659h43v2h-43zM565 649h43v3h-43zM565 647h43v1h-43zM565 645h43v1h-43zM565 638h43v1h-43zM565 629h43v1h-43zM565 616h43v1h-43zM565 608h43v1h-43zM565 605h43v1h-43zM565 580h43v1h-43zM565 567h43v1h-43zM565 558h43v1h-43zM565 555h43v1h-43z"/>
<path fill="#1f968b" d="M565 678h43v2h-43zM565 661h43v1h-43zM565 658h43v1h-43zM565 653h43v1h-43zM565 642h43v1h-43zM565 640h43v1h-43zM565 636h43v1h-43zM565 627h43v1h-43zM565 600h43v1h-43zM565 591h43v1h-43zM565 586h43v2h-43zM565 583h43v1h-43zM565 579h43v1h-43zM565 569h43v1h-43zM565 556h43v2h-43z"/>
<path fill="#1f998a" d="M479 538h43v1h-43zM479 479h43v1h-43zM479 475h43v1h-43zM565 680h43v2h-43zM565 671h43v1h-43zM565 667h43v1h-43zM565 664h43v2h-43zM565 654h43v1h-43zM565 611h43v1h-43zM565 603h43v2h-43zM565 584h43v1h-43zM565 559h43v2h-43zM565 554h43v1h-43zM565 547h43v1h-43z"/>
<path fill="#1e9c89" d="M479 485h43v1h-43zM479 480h43v1h-43zM479 476h43v3h-43zM565 682h43v1h-43zM565 672h43v1h-43zM565 669h43v1h-43zM565 655h43v2h-43zM565 598h43v1h-43zM565 585h43v1h-43zM565 551h43v3h-43z"/>
<path fill="#1f9e89" d="M479 647h43v1h-43zM479 486h43v2h-43zM479 482h43v3h-43zM565 683h43v1h-43zM565 670h43v1h-43zM565 668h43v1h-43zM565 657h43v1h-43zM565 641h43v1h-43zM565 597h43v1h-43zM565 548h43v3h-43zM565 546h43v1h-43zM565 535h43v1h-43z"/>
<path fill="#1fa188" d="M479 678h43v1h-43zM479 496h43v1h-43zM479 488h43v1h-43zM479 481h43v1h-43zM565 676h43v1h-43zM565 666h43v1h-43zM565 545h43v1h-43zM565 540h43v1h-43zM565 536h43v1h-43zM565 533h43v1h-43z"/>
<path fill="#20a386" d="M479 497h43v1h-43zM479 492h43v4h-43zM479 489h43v2h-43zM565 686h43v2h-43zM565 673h43v2h-43zM565 599h43v1h-43zM565 534h43v1h-43z"/>
<path fill="#21a585" d="M479 500h43v1h-43zM479 498h43v1h-43zM479 491h43v1h-43zM565 684h43v1h-43zM565 675h43v1h-43zM565 543h43v1h-43zM565 541h43v1h-43zM565 539h43v1h-43zM565 537h43v1h-43zM565 532h43v1h-43zM565 522h43v2h-43z"/>
<path fill="#22a884" d="M479 617h43v1h-43zM479 502h43v1h-43zM565 685h43v1h-43zM565 544h43v1h-43zM565 542h43v1h-43zM565 530h43v2h-43zM565 525h43v1h-43z"/>
<path fill="#25ab82" d="M479 670h43v1h-43zM479 505h43v2h-43zM565 538h43v1h-43zM565 526h43v1h-43zM565 524h43v1h-43z"/>
<path fill="#26ad81" d="M479 605h43v1h-43zM479 591h43v1h-43zM479 503h43v2h-43zM479 501h43v1h-43zM479 499h43v1h-43zM565 528h43v1h-43z"/>
<path fill="#29af7f" d="M479 620h43v1h-43zM479 534h43v1h-43zM479 516h43v1h-43zM479 514h43v1h-43zM479 509h43v1h-43zM479 507h43v1h-43zM565 529h43v1h-43zM565 527h43v1h-43zM565 520h43v2h-43z"/>
<path fill="#2db27d" d="M479 515h43v1h-43zM479 512h43v2h-43z"/>
<path fill="#31b57b" d="M479 673h43v1h-43zM479 625h43v1h-43zM479 537h43v1h-43zM479 510h43v2h-43zM479 508h43v1h-43zM565 514h43v1h-43zM565 511h43v2h-43z"/>
<path fill="#34b679" d="M479 543h43v1h-43zM479 517h43v2h-43zM565 516h43v1h-43zM565 510h43v1h-43z"/>
<path fill="#38b977" d="M565 517h43v3h-43zM565 515h43v1h-43zM565 513h43v1h-43z"/>
<path fill="#3dbc74" d="M479 532h43v1h-43zM479 530h43v1h-43zM479 526h43v1h-43zM479 521h43v4h-43zM479 519h43v1h-43z"/>
<path fill="#40bd72" d="M479 684h43v1h-43zM479 612h43v1h-43zM479 527h43v1h-43zM479 525h43v1h-43zM565 509h43v1h-43z"/>
<path fill="#46c06f" d="M479 604h43v1h-43zM479 554h43v1h-43zM479 533h43v1h-43zM565 508h43v1h-43zM565 504h43v3h-43z"/>
<path fill="#4cc26c" d="M479 667h43v1h-43zM479 631h43v1h-43zM479 624h43v1h-43zM479 556h43v2h-43zM479 536h43v1h-43zM479 531h43v1h-43zM479 528h43v2h-43zM479 520h43v1h-43zM565 507h43v1h-43zM565 498h43v4h-43z"/>
<path fill="#50c46a" d="M479 683h43v1h-43zM479 677h43v1h-43zM479 632h43v1h-43zM479 559h43v1h-43zM479 542h43v1h-43zM565 503h43v1h-43zM565 494h43v1h-43z"/>
<path fill="#56c667" d="M479 682h43v1h-43zM479 672h43v1h-43zM479 654h43v1h-43zM479 637h43v1h-43zM479 626h43v1h-43zM479 616h43v1h-43zM479 599h43v1h-43zM479 564h43v1h-43zM479 560h43v1h-43zM479 552h43v2h-43zM565 502h43v1h-43zM565 497h43v1h-43z"/>
<path fill="#5cc863" d="M479 666h43v1h-43zM479 655h43v2h-43zM479 653h43v1h-43zM479 640h43v2h-43zM479 633h43v1h-43zM479 630h43v1h-43zM479 586h43v2h-43zM479 574h43v1h-43zM479 565h43v1h-43zM479 562h43v2h-43zM479 555h43v1h-43zM479 547h43v1h-43zM479 539h43v1h-43zM565 495h43v1h-43zM565 491h43v1h-43z"/>
<path fill="#63cb5f" d="M479 685h43v1h-43zM479 681h43v1h-43zM479 669h43v1h-43zM479 663h43v1h-43zM479 650h43v1h-43zM479 628h43v1h-43zM479 558h43v1h-43zM479 551h43v1h-43zM479 540h43v1h-43zM565 492h43v2h-43z"/>
<path fill="#67cc5c" d="M479 686h43v2h-43zM479 680h43v1h-43zM479 674h43v1h-43zM479 664h43v1h-43zM479 651h43v1h-43zM479 642h43v1h-43zM479 629h43v1h-43zM479 627h43v1h-43zM479 619h43v1h-43zM479 584h43v1h-43zM479 561h43v1h-43zM479 548h43v1h-43zM479 541h43v1h-43zM565 496h43v1h-43zM565 490h43v1h-43zM565 487h43v1h-43zM565 480h43v3h-43zM565 477h43v1h-43z"/>
<path fill="#6ece58" d="M479 668h43v1h-43zM479 665h43v1h-43zM479 652h43v1h-43zM479 610h43v2h-43zM479 606h43v2h-43zM479 600h43v1h-43zM479 598h43v1h-43zM479 585h43v1h-43zM479 582h43v2h-43zM479 578h43v1h-43zM479 549h43v1h-43zM479 544h43v3h-43zM565 488h43v2h-43zM565 478h43v1h-43zM565 475h43v1h-43z"/>
<path fill="#75d054" d="M479 649h43v1h-43zM479 644h43v2h-43zM479 636h43v1h-43zM479 634h43v1h-43zM479 603h43v1h-43zM479 593h43v1h-43zM479 576h43v1h-43zM479 573h43v1h-43zM479 566h43v2h-43zM479 550h43v1h-43zM565 483h43v3h-43zM565 479h43v1h-43zM565 476h43v1h-43z"/>
<path fill="#7ad151" d="M479 679h43v1h-43zM479 675h43v1h-43zM479 646h43v1h-43zM479 638h43v1h-43zM479 635h43v1h-43zM479 609h43v1h-43zM479 602h43v1h-43zM479 594h43v1h-43zM479 592h43v1h-43zM479 579h43v2h-43zM479 577h43v1h-43zM479 575h43v1h-43zM479 572h43v1h-43zM565 486h43v1h-43zM565 463h43v1h-43z"/>
<path fill="#81d34d" d="M479 671h43v1h-43zM479 661h43v2h-43zM479 657h43v1h-43zM479 623h43v1h-43zM479 618h43v1h-43zM479 614h43v2h-43zM479 569h43v1h-43zM565 472h43v3h-43zM565 464h43v2h-43zM565 459h43v3h-43z"/>
<path fill="#89d548" d="M479 676h43v1h-43zM479 639h43v1h-43zM479 608h43v1h-43zM479 597h43v1h-43zM479 581h43v1h-43zM479 571h43v1h-43zM479 568h43v1h-43zM565 471h43v1h-43z"/>
<path fill="#8ed645" d="M479 660h43v1h-43zM479 643h43v1h-43zM479 621h43v2h-43zM479 601h43v1h-43zM479 590h43v1h-43zM565 470h43v1h-43zM565 462h43v1h-43z"/>
<path fill="#95d840" d="M479 595h43v1h-43zM479 589h43v1h-43zM565 467h43v2h-43zM565 458h43v1h-43zM565 455h43v2h-43zM565 453h43v1h-43z"/>
<path fill="#9dd93b" d="M479 588h43v1h-43zM479 570h43v1h-43zM565 469h43v1h-43zM565 466h43v1h-43z"/>
<path fill="#a2da37" d="M479 658h43v2h-43zM479 596h43v1h-43zM565 457h43v1h-43z"/>
<path fill="#aadc32" d="M565 443h43v1h-43z"/>
<path fill="#b2dd2d" d="M565 454h43v1h-43zM565 452h43v1h-43z"/>
<path fill="#bade28" d="M565 451h43v1h-43zM565 448h43v2h-43zM565 444h43v3h-43z"/>
<path fill="#c0df25" d="M522 647h43v2h-43zM565 450h43v1h-43zM565 442h43v1h-43z"/>
<path fill="#c8e020" d="M522 620h43v1h-43zM565 447h43v1h-43zM565 441h43v1h-43zM565 434h43v1h-43z"/>
<path fill="#d0e11c" d="M522 677h43v2h-43zM522 630h43v3h-43zM565 439h43v1h-43z"/>
<path fill="#d5e21a" d="M522 663h43v1h-43zM522 652h43v2h-43zM522 633h43v1h-43zM522 625h43v1h-43zM522 613h43v1h-43zM522 594h43v1h-43zM565 440h43v1h-43zM565 437h43v1h-43zM565 435h43v1h-43zM565 432h43v1h-43z"/>
<path fill="#dde318" d="M522 682h43v3h-43zM522 680h43v1h-43zM522 662h43v1h-43zM522 628h43v1h-43zM522 624h43v1h-43zM522 617h43v1h-43zM522 593h43v1h-43zM565 438h43v1h-43zM565 433h43v1h-43zM565 431h43v1h-43z"/>
<path fill="#e5e419" d="M522 670h43v1h-43zM522 664h43v1h-43zM522 651h43v1h-43zM522 649h43v1h-43zM522 644h43v1h-43zM522 634h43v1h-43zM522 623h43v1h-43zM522 619h43v1h-43zM522 606h43v1h-43zM522 602h43v1h-43zM522 582h43v1h-43zM522 563h43v1h-43zM565 436h43v1h-43z"/>
<path fill="#eae51a" d="M522 681h43v1h-43zM522 650h43v1h-43zM522 646h43v1h-43zM522 635h43v1h-43zM522 626h43v2h-43zM522 621h43v2h-43zM522 612h43v1h-43zM522 574h43v2h-43zM522 562h43v1h-43zM565 429h43v2h-43z"/>
<path fill="#f1e51d" d="M522 686h43v2h-43zM522 679h43v1h-43zM522 660h43v1h-43zM522 654h43v3h-43zM522 645h43v1h-43zM522 639h43v2h-43zM522 636h43v2h-43zM522 629h43v1h-43zM522 618h43v1h-43zM522 614h43v1h-43zM522 610h43v1h-43zM522 607h43v1h-43zM522 600h43v1h-43zM522 595h43v1h-43zM522 592h43v1h-43zM522 577h43v2h-43zM522 564h43v1h-43zM522 557h43v1h-43z"/>
<path fill="#f8e621" d="M522 672h43v2h-43zM522 665h43v1h-43zM522 641h43v3h-43zM522 638h43v1h-43zM522 609h43v1h-43zM522 605h43v1h-43zM522 581h43v1h-43zM522 573h43v1h-43zM522 555h43v1h-43z"/>
<path fill="#fde725" d="M522 685h43v1h-43zM522 674h43v3h-43zM522 671h43v1h-43zM522 666h43v4h-43zM522 661h43v1h-43zM522 657h43v3h-43zM522 615h43v2h-43zM522 611h43v1h-43zM522 608h43v1h-43zM522 603h43v2h-43zM522 601h43v1h-43zM522 596h43v4h-43zM522 583h43v9h-43zM522 579h43v2h-43zM522 576h43v1h-43zM522 565h43v8h-43zM522 558h43v4h-43zM522 556h43v1h-43zM522 429h43v126h-43z"/>
</g>
<clipPath id="c6"><rect x="441.5" y="429.5" width="216" height="258"/></clipPath>
<g clip-path="url(#c6)" fill="none" stroke-linecap="butt">
<polyline stroke="#808080" stroke-width="2.08" points="544.53,687.4 543.97,684.14 543.44,680.88 542.93,677.62 542.43,674.36 541.96,671.11 541.5,667.85 541.07,664.59 540.65,661.33 540.25,658.07 539.88,654.81 539.52,651.55 539.18,648.29 538.87,645.03 538.57,641.78 538.29,638.52 538.03,635.26 537.79,632 537.57,628.74 537.37,625.48 537.19,622.22 537.03,618.96 536.89,615.71 536.77,612.45 536.67,609.19 536.59,605.93 536.53,602.67 536.48,599.41 536.46,596.15 536.46,592.89 536.47,589.63 536.51,586.38 536.57,583.12 536.64,579.86 536.74,576.6 536.85,573.34 536.99,570.08 537.14,566.82 537.31,563.56 537.51,560.3 537.72,557.05 537.95,553.79 538.21,550.53 538.48,547.27 538.77,544.01 539.08,540.75 539.41,537.49 539.76,534.23 540.13,530.97 540.52,527.72 540.93,524.46 541.36,521.2 541.81,517.94 542.28,514.68 542.77,511.42 543.27,508.16 543.8,504.9 544.35,501.64 544.92,498.39 545.5,495.13 546.11,491.87 546.73,488.61 547.38,485.35 548.05,482.09 548.73,478.83 549.43,475.57 550.16,472.32 550.9,469.06 551.67,465.8 552.45,462.54 553.25,459.28 554.07,456.02 554.92,452.76 555.78,449.5 556.66,446.24 557.56,442.99 558.48,439.73 559.42,436.47 560.38,433.21 561.36,429.95"/>
<polyline stroke="#ff0000" stroke-width="2.78" points="544.53,687.4 544.16,685.28 543.81,683.15 543.46,681.03 543.13,678.91 542.8,676.79 542.48,674.66 542.16,672.54 541.86,670.42 541.56,668.29 541.27,666.17 541,664.05 540.72,661.92 540.46,659.8 540.21,657.68 539.96,655.56 539.72,653.43 539.49,651.31 539.27,649.19 539.06,647.06 538.86,644.94 538.66,642.82 538.47,640.69 538.29,638.57 538.12,636.45 537.96,634.33 537.81,632.2 537.66,630.08 537.52,627.96 537.39,625.83 537.27,623.71 537.16,621.59 537.06,619.46 536.96,617.34 536.87,615.22 536.79,613.1 536.72,610.97 536.66,608.85 536.61,606.73 536.56,604.6"/>
<polyline stroke="#ff0000" stroke-width="2.78" points="537.22,565.27 537.31,563.63 537.4,561.99 537.5,560.35 537.61,558.72 537.72,557.08 537.83,555.44 537.95,553.81 538.08,552.17 538.2,550.53 538.34,548.89 538.48,547.26 538.62,545.62 538.77,543.98 538.93,542.35 539.08,540.71 539.25,539.07 539.42,537.43 539.59,535.8 539.77,534.16 539.95,532.52 540.14,530.89 540.34,529.25 540.53,527.61 540.74,525.97 540.95,524.34 541.16,522.7 541.38,521.06 541.6,519.43 541.83,517.79 542.06,516.15 542.3,514.52 542.55,512.88 542.79,511.24 543.05,509.6 543.31,507.97 543.57,506.33 543.84,504.69 544.11,503.06 544.39,501.42"/>
<polyline stroke="#ff0000" stroke-width="2.78" points="547.97,482.47 548.25,481.12 548.53,479.78 548.82,478.43 549.11,477.08 549.4,475.74 549.7,474.39 550,473.04 550.3,471.7 550.61,470.35 550.91,469 551.23,467.66 551.54,466.31 551.86,464.96 552.19,463.62 552.51,462.27 552.84,460.92 553.18,459.58 553.51,458.23 553.85,456.88 554.2,455.54 554.54,454.19 554.89,452.84 555.25,451.5 555.61,450.15 555.97,448.8 556.33,447.46 556.7,446.11 557.07,444.76 557.44,443.42 557.82,442.07 558.2,440.72 558.58,439.38 558.97,438.03 559.36,436.68 559.75,435.34 560.15,433.99 560.55,432.64 560.95,431.3 561.36,429.95"/>
</g>
<rect x="441.5" y="429.5" width="216" height="258" fill="none" stroke="#000" stroke-width="1.11"/>
<path d="M458.5 687.5v4.86M501.5 687.5v4.86M544.5 687.5v4.86M587.5 687.5v4.86M630.5 687.5v4.86M441.5 686.5h-4.86M441.5 635.5h-4.86M441.5 583.5h-4.86M441.5 532.5h-4.86M441.5 480.5h-4.86" stroke="#000" stroke-width="1.11" fill="none"/>
<g font-size="13.89" text-anchor="middle">
<text x="458.2" y="707.9">548</text>
<text x="501.35" y="707.9">549</text>
<text x="544.5" y="707.9">550</text>
<text x="587.65" y="707.9">551</text>
<text x="630.8" y="707.9">552</text>
</g>
<g font-size="13.89" text-anchor="end">
<text x="431.1" y="692">0</text>
<text x="431.1" y="640">50</text>
<text x="431.1" y="589">100</text>
<text x="431.1" y="537">150</text>
<text x="431.1" y="486">200</text>
</g>
<text font-size="13.89" text-anchor="middle" x="548.77" y="726.7">X axis (array index)</text>
<text font-size="13.89" text-anchor="middle" transform="translate(396.1 558.67) rotate(-90)">Y axis (array index)</text>
<text font-size="16.67" text-anchor="middle" x="548.88" y="420">C distortion: line #6/8 (deg.: 2)</text>
<rect x="662.5" y="429.5" width="11" height="258" fill="url(#vir)" stroke="#000" stroke-width="1.11"/>
<path d="M673.5 659.5h4.86M673.5 628.5h4.86M673.5 597.5h4.86M673.5 566.5h4.86M673.5 535.5h4.86M673.5 504.5h4.86M673.5 473.5h4.86M673.5 442.5h4.86" stroke="#000" stroke-width="1.11" fill="none"/>
<g font-size="13.89">
<text x="683.1" y="664">2500</text>
<text x="683.1" y="633">5000</text>
<text x="683.1" y="602">7500</text>
<text x="683.1" y="571">10000</text>
<text x="683.1" y="540">12500</text>
<text x="683.1" y="509">15000</text>
<text x="683.1" y="478">17500</text>
<text x="683.1" y="447">20000</text>
</g>
<text font-size="13.89" text-anchor="middle" transform="translate(741.7 558.67) rotate(-90)">Number of counts</text>
</g>
<g id="p7">
<g shape-rendering="crispEdges">
<path fill="#440154" d="M817 485h41v1h-41zM817 471h41v1h-41zM817 460h41v1h-41zM817 448h41v2h-41zM817 429h41v2h-41zM987 643h43v1h-43zM987 619h43v1h-43zM987 610h43v1h-43zM987 582h43v1h-43zM987 570h43v1h-43zM987 563h43v1h-43zM987 544h43v1h-43z"/>
<path fill="#450457" d="M817 452h41v1h-41zM817 443h41v1h-41zM817 434h41v1h-41zM987 623h43v2h-43z"/>
<path fill="#46085c" d="M987 678h43v1h-43zM987 580h43v1h-43zM1030 623h4v1h-4z"/>
<path fill="#470d60" d="M817 547h41v1h-41zM817 536h41v1h-41zM817 511h41v1h-41zM817 481h41v1h-41zM817 473h41v1h-41zM817 457h41v1h-41zM817 454h41v1h-41zM817 444h41v1h-41zM817 440h41v1h-41zM817 437h41v1h-41zM987 670h43v1h-43zM987 648h43v1h-43zM987 640h43v1h-43zM987 605h43v1h-43zM987 599h43v1h-43zM987 593h43v1h-43zM987 565h43v1h-43zM987 556h43v1h-43zM987 549h43v1h-43z"/>
<path fill="#471063" d="M817 558h41v1h-41zM817 521h41v1h-41zM817 476h41v1h-41zM817 469h41v1h-41zM817 458h41v2h-41zM817 453h41v1h-41zM817 451h41v1h-41zM817 441h41v1h-41zM817 436h41v1h-41zM817 431h41v1h-41zM987 652h43v2h-43zM987 645h43v1h-43zM987 641h43v1h-43zM987 636h43v1h-43zM987 630h43v1h-43zM987 609h43v1h-43zM987 596h43v1h-43zM987 585h43v1h-43zM987 555h43v1h-43zM987 547h43v1h-43zM987 526h43v1h-43zM987 521h43v2h-43zM987 495h43v1h-43z"/>
<path fill="#481467" d="M817 627h41v1h-41zM817 525h41v1h-41zM817 512h41v1h-41zM817 496h41v1h-41zM817 487h41v1h-41zM817 464h41v1h-41zM817 445h41v2h-41zM817 439h41v1h-41zM987 675h43v1h-43zM987 672h43v1h-43zM987 649h43v1h-43zM987 644h43v1h-43zM987 628h43v1h-43zM987 621h43v2h-43zM987 618h43v1h-43zM987 616h43v1h-43zM987 612h43v1h-43zM987 606h43v1h-43zM987 564h43v1h-43zM987 559h43v1h-43zM987 538h43v1h-43zM987 529h43v1h-43zM987 519h43v1h-43zM1030 501h4v1h-4zM1030 454h4v1h-4z"/>
<path fill="#48186a" d="M817 538h41v1h-41zM817 515h41v1h-41zM817 497h41v1h-41zM817 490h41v1h-41zM817 482h41v1h-41zM817 466h41v2h-41zM817 461h41v1h-41zM817 455h41v1h-41zM987 682h43v1h-43zM987 667h43v1h-43zM987 657h43v4h-43zM987 638h43v1h-43zM987 607h43v1h-43zM987 597h43v1h-43zM987 577h43v1h-43zM987 569h43v1h-43zM987 550h43v2h-43zM987 539h43v1h-43zM987 537h43v1h-43zM987 530h43v1h-43zM987 528h43v1h-43zM987 524h43v1h-43zM987 513h43v1h-43zM987 503h43v1h-43zM987 491h43v1h-43zM987 480h43v1h-43zM987 477h43v1h-43zM1030 612h4v1h-4z"/>
<path fill="#481b6d" d="M817 598h41v1h-41zM817 556h41v1h-41zM817 546h41v1h-41zM817 542h41v1h-41zM817 531h41v1h-41zM817 526h41v1h-41zM817 517h41v2h-41zM817 500h41v2h-41zM817 494h41v1h-41zM817 488h41v1h-41zM817 468h41v1h-41zM817 463h41v1h-41zM817 442h41v1h-41zM817 433h41v1h-41zM987 686h43v2h-43zM987 684h43v1h-43zM987 674h43v1h-43zM987 654h43v1h-43zM987 651h43v1h-43zM987 631h43v1h-43zM987 620h43v1h-43zM987 602h43v1h-43zM987 600h43v1h-43zM987 594h43v1h-43zM987 591h43v1h-43zM987 589h43v1h-43zM987 576h43v1h-43zM987 572h43v1h-43zM987 568h43v1h-43zM987 562h43v1h-43zM987 557h43v1h-43zM987 554h43v1h-43zM987 510h43v1h-43zM987 507h43v1h-43zM1030 643h4v1h-4z"/>
<path fill="#481f70" d="M817 638h41v1h-41zM817 560h41v1h-41zM817 506h41v1h-41zM817 499h41v1h-41zM817 495h41v1h-41zM817 493h41v1h-41zM817 489h41v1h-41zM817 483h41v2h-41zM817 478h41v1h-41zM817 475h41v1h-41zM817 456h41v1h-41zM987 662h43v1h-43zM987 647h43v1h-43zM987 639h43v1h-43zM987 634h43v2h-43zM987 625h43v2h-43zM987 617h43v1h-43zM987 614h43v1h-43zM987 601h43v1h-43zM987 588h43v1h-43zM987 571h43v1h-43zM987 548h43v1h-43zM987 541h43v1h-43zM987 536h43v1h-43zM987 520h43v1h-43zM987 457h43v1h-43zM1030 581h4v1h-4zM1030 532h4v1h-4zM1030 494h4v1h-4z"/>
<path fill="#482374" d="M817 559h41v1h-41zM817 534h41v1h-41zM817 520h41v1h-41zM817 516h41v1h-41zM817 498h41v1h-41zM817 480h41v1h-41zM817 477h41v1h-41zM817 435h41v1h-41zM987 681h43v1h-43zM987 679h43v1h-43zM987 669h43v1h-43zM987 665h43v2h-43zM987 661h43v1h-43zM987 650h43v1h-43zM987 633h43v1h-43zM987 629h43v1h-43zM987 611h43v1h-43zM987 598h43v1h-43zM987 592h43v1h-43zM987 590h43v1h-43zM987 586h43v2h-43zM987 583h43v1h-43zM987 579h43v1h-43zM987 560h43v1h-43zM987 558h43v1h-43zM987 545h43v1h-43zM987 540h43v1h-43zM987 511h43v1h-43zM987 504h43v1h-43zM987 499h43v1h-43zM987 468h43v1h-43zM987 463h43v1h-43zM1030 455h4v1h-4z"/>
<path fill="#482576" d="M817 654h41v1h-41zM817 649h41v1h-41zM817 640h41v1h-41zM817 599h41v1h-41zM817 591h41v1h-41zM817 573h41v1h-41zM817 557h41v1h-41zM817 548h41v1h-41zM817 537h41v1h-41zM817 528h41v1h-41zM817 507h41v2h-41zM817 486h41v1h-41zM817 470h41v1h-41zM817 465h41v1h-41zM817 462h41v1h-41zM817 438h41v1h-41zM987 671h43v1h-43zM987 637h43v1h-43zM987 573h43v2h-43zM987 566h43v2h-43zM987 542h43v1h-43zM987 535h43v1h-43zM987 533h43v1h-43zM987 497h43v1h-43zM1030 684h4v1h-4zM1030 682h4v1h-4zM1030 659h4v1h-4zM1030 649h4v1h-4zM1030 644h4v1h-4zM1030 641h4v1h-4zM1030 627h4v1h-4zM1030 511h4v1h-4z"/>
<path fill="#482979" d="M817 681h41v1h-41zM817 676h41v1h-41zM817 666h41v1h-41zM817 645h41v1h-41zM817 641h41v1h-41zM817 639h41v1h-41zM817 590h41v1h-41zM817 582h41v1h-41zM817 577h41v1h-41zM817 562h41v1h-41zM817 545h41v1h-41zM817 535h41v1h-41zM817 524h41v1h-41zM817 509h41v1h-41zM817 479h41v1h-41zM817 447h41v1h-41zM987 680h43v1h-43zM987 676h43v1h-43zM987 673h43v1h-43zM987 668h43v1h-43zM987 655h43v2h-43zM987 646h43v1h-43zM987 627h43v1h-43zM987 615h43v1h-43zM987 608h43v1h-43zM987 595h43v1h-43zM987 581h43v1h-43zM987 512h43v1h-43zM987 500h43v1h-43zM987 498h43v1h-43zM987 481h43v1h-43zM987 469h43v1h-43zM987 465h43v1h-43zM987 442h43v1h-43zM1030 671h4v1h-4zM1030 648h4v1h-4zM1030 614h4v1h-4zM1030 563h4v1h-4zM1030 516h4v1h-4zM1030 502h4v1h-4z"/>
<path fill="#472d7b" d="M817 686h41v2h-41zM817 683h41v2h-41zM817 664h41v1h-41zM817 662h41v1h-41zM817 633h41v2h-41zM817 626h41v1h-41zM817 617h41v2h-41zM817 603h41v1h-41zM817 593h41v1h-41zM817 584h41v1h-41zM817 571h41v1h-41zM817 566h41v1h-41zM817 550h41v1h-41zM817 510h41v1h-41zM817 502h41v1h-41zM817 474h41v1h-41zM817 450h41v1h-41zM817 432h41v1h-41zM987 683h43v1h-43zM987 663h43v1h-43zM987 575h43v1h-43zM987 552h43v2h-43zM987 532h43v1h-43zM987 525h43v1h-43zM987 509h43v1h-43zM987 501h43v1h-43zM987 482h43v1h-43zM987 478h43v1h-43zM987 475h43v1h-43zM1030 675h4v1h-4zM1030 661h4v1h-4zM1030 640h4v1h-4zM1030 579h4v2h-4zM1030 564h4v1h-4zM1030 549h4v1h-4zM1030 510h4v1h-4z"/>
<path fill="#46307e" d="M817 675h41v1h-41zM817 669h41v1h-41zM817 663h41v1h-41zM817 659h41v2h-41zM817 652h41v1h-41zM817 643h41v1h-41zM817 619h41v1h-41zM817 583h41v1h-41zM817 563h41v1h-41zM817 522h41v1h-41zM817 504h41v2h-41zM817 491h41v1h-41zM987 677h43v1h-43zM987 664h43v1h-43zM987 613h43v1h-43zM987 603h43v1h-43zM987 578h43v1h-43zM987 531h43v1h-43zM987 517h43v2h-43zM987 505h43v1h-43zM987 496h43v1h-43zM987 494h43v1h-43zM987 490h43v1h-43zM987 485h43v1h-43zM987 472h43v1h-43zM987 458h43v1h-43zM987 456h43v1h-43zM987 446h43v1h-43zM1030 685h4v1h-4zM1030 667h4v1h-4zM1030 637h4v3h-4zM1030 605h4v2h-4zM1030 586h4v2h-4zM1030 584h4v1h-4zM1030 582h4v1h-4zM1030 575h4v1h-4zM1030 546h4v1h-4zM1030 539h4v1h-4zM1030 526h4v1h-4zM1030 497h4v1h-4zM1030 473h4v1h-4z"/>
<path fill="#46337f" d="M817 679h41v2h-41zM817 674h41v1h-41zM817 647h41v1h-41zM817 637h41v1h-41zM817 628h41v2h-41zM817 612h41v1h-41zM817 572h41v1h-41zM817 569h41v1h-41zM817 561h41v1h-41zM817 554h41v2h-41zM817 551h41v1h-41zM817 544h41v1h-41zM817 539h41v2h-41zM817 533h41v1h-41zM817 530h41v1h-41zM817 503h41v1h-41zM817 492h41v1h-41zM987 632h43v1h-43zM987 604h43v1h-43zM987 561h43v1h-43zM987 543h43v1h-43zM987 516h43v1h-43zM987 489h43v1h-43zM987 431h43v1h-43zM1030 680h4v1h-4zM1030 670h4v1h-4zM1030 664h4v1h-4zM1030 634h4v1h-4zM1030 629h4v1h-4zM1030 595h4v1h-4zM1030 558h4v1h-4zM1030 552h4v2h-4zM1030 545h4v1h-4zM1030 506h4v1h-4zM1030 495h4v1h-4zM1030 491h4v1h-4zM1030 474h4v1h-4zM1030 472h4v1h-4zM1030 434h4v1h-4z"/>
<path fill="#453781" d="M817 677h41v2h-41zM817 670h41v2h-41zM817 667h41v1h-41zM817 623h41v1h-41zM817 613h41v1h-41zM817 608h41v1h-41zM817 601h41v1h-41zM817 595h41v2h-41zM817 588h41v1h-41zM817 579h41v1h-41zM817 532h41v1h-41zM817 529h41v1h-41zM817 519h41v1h-41zM817 472h41v1h-41zM987 515h43v1h-43zM987 502h43v1h-43zM987 479h43v1h-43zM987 471h43v1h-43zM987 462h43v1h-43zM987 460h43v1h-43zM987 452h43v1h-43zM987 450h43v1h-43zM987 436h43v1h-43zM1030 681h4v1h-4zM1030 678h4v1h-4zM1030 676h4v1h-4zM1030 669h4v1h-4zM1030 651h4v1h-4zM1030 619h4v1h-4zM1030 608h4v1h-4zM1030 591h4v1h-4zM1030 577h4v1h-4zM1030 566h4v1h-4zM1030 562h4v1h-4zM1030 531h4v1h-4zM1030 521h4v1h-4zM1030 480h4v1h-4zM1030 475h4v1h-4zM1030 469h4v1h-4zM1030 447h4v1h-4z"/>
<path fill="#443a83" d="M817 685h41v1h-41zM817 646h41v1h-41zM817 642h41v1h-41zM817 630h41v1h-41zM817 602h41v1h-41zM817 594h41v1h-41zM817 592h41v1h-41zM817 581h41v1h-41zM817 578h41v1h-41zM817 543h41v1h-41zM987 584h43v1h-43zM987 546h43v1h-43zM987 534h43v1h-43zM987 527h43v1h-43zM987 492h43v1h-43zM987 483h43v2h-43zM987 473h43v2h-43zM987 453h43v1h-43zM987 440h43v1h-43zM1030 665h4v1h-4zM1030 636h4v1h-4zM1030 630h4v1h-4zM1030 628h4v1h-4zM1030 615h4v1h-4zM1030 610h4v1h-4zM1030 596h4v1h-4zM1030 560h4v1h-4zM1030 537h4v1h-4zM1030 504h4v1h-4zM1030 493h4v1h-4zM1030 471h4v1h-4zM1030 446h4v1h-4zM1030 436h4v1h-4z"/>
<path fill="#433d84" d="M817 655h41v2h-41zM817 650h41v2h-41zM817 616h41v1h-41zM817 609h41v1h-41zM817 607h41v1h-41zM817 597h41v1h-41zM817 585h41v1h-41zM817 567h41v1h-41zM817 552h41v2h-41zM817 541h41v1h-41zM817 523h41v1h-41zM817 513h41v2h-41zM987 642h43v1h-43zM987 493h43v1h-43zM987 487h43v1h-43zM987 461h43v1h-43zM987 459h43v1h-43zM987 454h43v1h-43zM1030 662h4v1h-4zM1030 657h4v1h-4zM1030 647h4v1h-4zM1030 633h4v1h-4zM1030 626h4v1h-4zM1030 616h4v1h-4zM1030 607h4v1h-4zM1030 603h4v1h-4zM1030 593h4v1h-4zM1030 590h4v1h-4zM1030 569h4v1h-4zM1030 548h4v1h-4zM1030 498h4v1h-4zM1030 482h4v1h-4zM1030 463h4v1h-4z"/>
<path fill="#424086" d="M817 661h41v1h-41zM817 653h41v1h-41zM817 648h41v1h-41zM817 620h41v1h-41zM817 614h41v1h-41zM817 580h41v1h-41zM817 575h41v1h-41zM817 549h41v1h-41zM817 527h41v1h-41zM987 488h43v1h-43zM987 486h43v1h-43zM987 466h43v1h-43zM987 439h43v1h-43zM987 433h43v2h-43zM1030 679h4v1h-4zM1030 677h4v1h-4zM1030 673h4v1h-4zM1030 609h4v1h-4zM1030 598h4v1h-4zM1030 585h4v1h-4zM1030 567h4v1h-4zM1030 555h4v1h-4zM1030 536h4v1h-4zM1030 524h4v2h-4zM1030 522h4v1h-4zM1030 507h4v1h-4zM1030 503h4v1h-4zM1030 478h4v1h-4zM1030 460h4v1h-4z"/>
<path fill="#414487" d="M817 682h41v1h-41zM817 672h41v1h-41zM817 631h41v1h-41zM817 606h41v1h-41zM817 600h41v1h-41zM817 589h41v1h-41zM817 574h41v1h-41zM817 565h41v1h-41zM987 685h43v1h-43zM987 514h43v1h-43zM987 476h43v1h-43zM987 470h43v1h-43zM987 455h43v1h-43zM987 447h43v3h-43zM987 444h43v1h-43zM987 432h43v1h-43zM987 429h43v2h-43zM1030 663h4v1h-4zM1030 658h4v1h-4zM1030 642h4v1h-4zM1030 632h4v1h-4zM1030 624h4v1h-4zM1030 620h4v3h-4zM1030 600h4v1h-4zM1030 574h4v1h-4zM1030 568h4v1h-4zM1030 540h4v1h-4zM1030 535h4v1h-4zM1030 519h4v1h-4zM1030 512h4v1h-4zM1030 500h4v1h-4zM1030 488h4v3h-4zM1030 479h4v1h-4zM1030 470h4v1h-4zM1030 456h4v1h-4zM1030 451h4v3h-4zM1030 431h4v1h-4z"/>
<path fill="#404688" d="M817 604h41v2h-41zM817 586h41v2h-41zM987 523h43v1h-43zM987 508h43v1h-43zM987 467h43v1h-43zM987 464h43v1h-43zM987 443h43v1h-43zM987 438h43v1h-43zM987 435h43v1h-43zM1030 672h4v1h-4zM1030 666h4v1h-4zM1030 660h4v1h-4zM1030 654h4v1h-4zM1030 652h4v1h-4zM1030 631h4v1h-4zM1030 618h4v1h-4zM1030 611h4v1h-4zM1030 594h4v1h-4zM1030 592h4v1h-4zM1030 559h4v1h-4zM1030 556h4v1h-4zM1030 547h4v1h-4zM1030 515h4v1h-4zM1030 492h4v1h-4zM1030 486h4v1h-4zM1030 459h4v1h-4zM1030 442h4v2h-4zM1030 438h4v2h-4z"/>
<path fill="#3e4989" d="M817 658h41v1h-41zM817 644h41v1h-41zM817 635h41v1h-41zM817 621h41v2h-41zM817 576h41v1h-41zM987 506h43v1h-43zM987 445h43v1h-43zM1030 650h4v1h-4zM1030 617h4v1h-4zM1030 601h4v1h-4zM1030 599h4v1h-4zM1030 576h4v1h-4zM1030 541h4v1h-4zM1030 533h4v1h-4zM1030 514h4v1h-4zM1030 465h4v1h-4zM1030 461h4v1h-4zM1030 450h4v1h-4zM1030 440h4v1h-4zM1030 432h4v1h-4z"/>
<path fill="#3d4d8a" d="M817 657h41v1h-41zM817 636h41v1h-41zM817 632h41v1h-41zM817 611h41v1h-41zM817 564h41v1h-41zM987 451h43v1h-43zM987 437h43v1h-43zM1030 668h4v1h-4zM1030 645h4v1h-4zM1030 635h4v1h-4zM1030 613h4v1h-4zM1030 588h4v2h-4zM1030 583h4v1h-4zM1030 572h4v1h-4zM1030 570h4v1h-4zM1030 550h4v1h-4zM1030 534h4v1h-4zM1030 528h4v1h-4zM1030 523h4v1h-4zM1030 517h4v2h-4zM1030 485h4v1h-4zM1030 464h4v1h-4zM1030 448h4v2h-4zM1030 435h4v1h-4zM1030 433h4v1h-4zM1030 429h4v2h-4z"/>
<path fill="#3c4f8a" d="M817 673h41v1h-41zM817 668h41v1h-41zM817 624h41v1h-41zM817 615h41v1h-41zM817 610h41v1h-41zM817 570h41v1h-41zM1030 686h4v2h-4zM1030 625h4v1h-4zM1030 602h4v1h-4zM1030 597h4v1h-4zM1030 573h4v1h-4zM1030 571h4v1h-4zM1030 561h4v1h-4zM1030 538h4v1h-4zM1030 530h4v1h-4zM1030 520h4v1h-4zM1030 481h4v1h-4zM1030 476h4v2h-4z"/>
<path fill="#3b528b" d="M987 441h43v1h-43zM1030 683h4v1h-4zM1030 646h4v1h-4zM1030 557h4v1h-4zM1030 527h4v1h-4zM1030 508h4v2h-4zM1030 505h4v1h-4zM1030 462h4v1h-4zM1030 441h4v1h-4z"/>
<path fill="#39558c" d="M817 625h41v1h-41zM817 568h41v1h-41zM1030 554h4v1h-4zM1030 551h4v1h-4zM1030 529h4v1h-4zM1030 496h4v1h-4zM1030 483h4v2h-4zM1030 467h4v1h-4z"/>
<path fill="#38598c" d="M1030 544h4v1h-4zM1030 513h4v1h-4zM1030 487h4v1h-4z"/>
<path fill="#375b8d" d="M1030 653h4v1h-4zM1030 604h4v1h-4zM1030 542h4v1h-4zM1030 499h4v1h-4zM1030 457h4v1h-4zM1030 445h4v1h-4zM1030 437h4v1h-4z"/>
<path fill="#355e8d" d="M1030 565h4v1h-4zM1030 468h4v1h-4zM1030 458h4v1h-4z"/>
<path fill="#34618d" d="M1030 655h4v2h-4zM1030 578h4v1h-4z"/>
<path fill="#33638d" d="M944 567h43v1h-43zM1030 674h4v1h-4zM1030 466h4v1h-4zM1030 444h4v1h-4z"/>
<path fill="#30698e" d="M858 432h43v1h-43zM1030 543h4v1h-4z"/>
<path fill="#2f6b8e" d="M858 434h43v1h-43zM944 558h43v1h-43z"/>
<path fill="#2e6e8e" d="M817 665h41v1h-41zM944 618h43v1h-43z"/>
<path fill="#2d718e" d="M944 588h43v1h-43z"/>
<path fill="#2b758e" d="M944 663h43v1h-43zM944 608h43v1h-43z"/>
<path fill="#2a788e" d="M858 502h43v1h-43zM858 460h43v1h-43zM858 445h43v1h-43zM944 575h43v1h-43z"/>
<path fill="#297b8e" d="M858 525h43v1h-43zM858 433h43v1h-43zM944 620h43v1h-43zM944 540h43v1h-43z"/>
<path fill="#287d8e" d="M858 488h43v1h-43zM858 473h43v1h-43zM944 615h43v1h-43zM944 573h43v1h-43z"/>
<path fill="#27808e" d="M858 471h43v1h-43zM944 642h43v1h-43zM944 623h43v1h-43zM944 619h43v1h-43z"/>
<path fill="#26828e" d="M858 514h43v1h-43zM858 448h43v2h-43zM944 610h43v1h-43zM944 604h43v1h-43zM944 579h43v1h-43zM944 568h43v1h-43zM944 546h43v1h-43z"/>
<path fill="#25848e" d="M858 479h43v1h-43zM858 459h43v1h-43zM858 447h43v1h-43zM858 440h43v1h-43zM944 638h43v1h-43zM944 601h43v1h-43zM944 548h43v1h-43z"/>
<path fill="#24878e" d="M858 481h43v1h-43zM858 463h43v1h-43zM858 452h43v2h-43zM944 649h43v1h-43z"/>
<path fill="#238a8d" d="M858 454h43v1h-43zM944 662h43v1h-43zM944 648h43v1h-43zM944 580h43v1h-43zM944 559h43v1h-43zM944 555h43v1h-43zM944 535h43v1h-43z"/>
<path fill="#228c8d" d="M858 475h43v1h-43zM858 444h43v1h-43zM858 439h43v1h-43zM858 435h43v1h-43zM858 431h43v1h-43zM944 630h43v1h-43zM944 582h43v1h-43zM944 562h43v1h-43zM944 551h43v1h-43z"/>
<path fill="#218f8d" d="M858 503h43v1h-43zM858 480h43v1h-43zM858 469h43v1h-43zM944 674h43v1h-43zM944 655h43v2h-43zM944 632h43v1h-43zM944 607h43v1h-43zM944 605h43v1h-43zM944 597h43v1h-43zM944 581h43v1h-43zM944 578h43v1h-43zM944 576h43v1h-43zM944 574h43v1h-43zM944 565h43v1h-43z"/>
<path fill="#20928c" d="M858 495h43v1h-43zM858 474h43v1h-43zM858 465h43v1h-43zM858 462h43v1h-43zM858 456h43v1h-43zM858 437h43v1h-43zM944 651h43v1h-43zM944 629h43v1h-43zM944 624h43v1h-43zM944 614h43v1h-43zM944 606h43v1h-43zM944 603h43v1h-43zM944 594h43v1h-43zM944 592h43v1h-43zM944 572h43v1h-43zM944 566h43v1h-43zM944 538h43v1h-43zM944 528h43v1h-43zM944 510h43v1h-43z"/>
<path fill="#1f948c" d="M858 612h43v1h-43zM858 496h43v1h-43zM858 457h43v1h-43zM858 446h43v1h-43zM944 686h43v2h-43zM944 657h43v1h-43zM944 653h43v1h-43zM944 646h43v1h-43zM944 633h43v1h-43zM944 621h43v2h-43zM944 613h43v1h-43zM944 600h43v1h-43zM944 593h43v1h-43zM944 585h43v1h-43zM944 561h43v1h-43zM944 525h43v1h-43zM944 516h43v1h-43zM944 513h43v1h-43z"/>
<path fill="#1f968b" d="M858 500h43v2h-43zM858 477h43v1h-43zM858 472h43v1h-43zM944 639h43v2h-43zM944 552h43v2h-43zM944 543h43v1h-43zM944 501h43v1h-43z"/>
<path fill="#1f998a" d="M858 516h43v1h-43zM858 509h43v1h-43zM858 476h43v1h-43zM858 470h43v1h-43zM858 466h43v1h-43zM858 461h43v1h-43zM858 455h43v1h-43zM944 635h43v1h-43zM944 609h43v1h-43zM944 590h43v1h-43zM944 556h43v1h-43zM944 544h43v1h-43zM944 515h43v1h-43z"/>
<path fill="#1e9c89" d="M858 535h43v1h-43zM858 486h43v1h-43zM858 482h43v1h-43zM858 468h43v1h-43zM858 438h43v1h-43zM944 637h43v1h-43zM944 634h43v1h-43zM944 628h43v1h-43zM944 571h43v1h-43zM944 563h43v1h-43zM944 557h43v1h-43zM944 539h43v1h-43zM944 521h43v1h-43zM944 495h43v1h-43z"/>
<path fill="#1f9e89" d="M858 597h43v1h-43zM858 510h43v1h-43zM858 493h43v1h-43zM858 464h43v1h-43zM858 443h43v1h-43zM858 429h43v2h-43zM944 659h43v2h-43zM944 631h43v1h-43zM944 591h43v1h-43zM944 564h43v1h-43zM944 506h43v1h-43z"/>
<path fill="#1fa188" d="M858 498h43v1h-43zM858 451h43v1h-43zM858 442h43v1h-43zM858 436h43v1h-43zM944 682h43v1h-43zM944 644h43v1h-43zM944 577h43v1h-43zM944 550h43v1h-43zM944 536h43v1h-43zM944 532h43v1h-43zM944 509h43v1h-43zM944 502h43v1h-43zM944 482h43v1h-43z"/>
<path fill="#20a386" d="M858 673h43v1h-43zM858 607h43v1h-43zM858 508h43v1h-43zM858 485h43v1h-43zM944 671h43v1h-43zM944 661h43v1h-43zM944 647h43v1h-43zM944 643h43v1h-43zM944 636h43v1h-43zM944 570h43v1h-43zM944 520h43v1h-43z"/>
<path fill="#21a585" d="M858 520h43v2h-43zM858 467h43v1h-43zM944 654h43v1h-43zM944 625h43v1h-43zM944 595h43v1h-43zM944 589h43v1h-43zM944 486h43v1h-43z"/>
<path fill="#22a884" d="M858 543h43v1h-43zM858 505h43v1h-43zM858 499h43v1h-43zM858 450h43v1h-43zM944 681h43v1h-43zM944 668h43v1h-43zM944 652h43v1h-43zM944 645h43v1h-43zM944 627h43v1h-43zM944 616h43v1h-43zM944 598h43v1h-43zM944 586h43v2h-43zM944 560h43v1h-43zM944 545h43v1h-43zM944 503h43v1h-43z"/>
<path fill="#25ab82" d="M858 523h43v1h-43zM858 489h43v1h-43zM858 478h43v1h-43zM944 641h43v1h-43zM944 617h43v1h-43zM944 596h43v1h-43zM944 569h43v1h-43zM944 547h43v1h-43zM944 530h43v1h-43zM944 522h43v1h-43zM944 511h43v1h-43zM944 483h43v2h-43z"/>
<path fill="#26ad81" d="M858 522h43v1h-43zM858 506h43v1h-43zM858 504h43v1h-43zM858 490h43v1h-43zM858 483h43v2h-43zM944 599h43v1h-43zM944 583h43v1h-43zM944 533h43v1h-43zM944 519h43v1h-43z"/>
<path fill="#29af7f" d="M858 636h43v1h-43zM858 617h43v1h-43zM858 567h43v1h-43zM858 538h43v1h-43zM858 524h43v1h-43zM944 612h43v1h-43zM944 554h43v1h-43zM944 542h43v1h-43zM944 534h43v1h-43zM944 494h43v1h-43z"/>
<path fill="#2db27d" d="M858 552h43v2h-43zM858 487h43v1h-43zM944 677h43v1h-43zM944 611h43v1h-43zM944 584h43v1h-43zM944 461h43v1h-43z"/>
<path fill="#31b57b" d="M858 638h43v1h-43zM858 625h43v1h-43zM858 534h43v1h-43zM858 458h43v1h-43zM944 673h43v1h-43zM944 626h43v1h-43zM944 531h43v1h-43zM944 527h43v1h-43zM944 443h43v1h-43z"/>
<path fill="#34b679" d="M858 603h43v1h-43zM858 556h43v1h-43zM858 533h43v1h-43zM858 530h43v1h-43zM858 494h43v1h-43zM858 441h43v1h-43zM901 432h43v1h-43zM944 664h43v1h-43zM944 602h43v1h-43zM944 537h43v1h-43zM944 526h43v1h-43zM944 517h43v2h-43zM944 507h43v1h-43zM944 500h43v1h-43zM944 492h43v1h-43zM944 490h43v1h-43zM944 475h43v1h-43z"/>
<path fill="#38b977" d="M858 648h43v1h-43zM858 559h43v1h-43zM858 513h43v1h-43zM901 624h43v1h-43zM901 563h43v1h-43zM944 684h43v1h-43zM944 650h43v1h-43zM944 529h43v1h-43z"/>
<path fill="#3dbc74" d="M858 681h43v1h-43zM858 647h43v1h-43zM858 613h43v1h-43zM858 515h43v1h-43zM944 665h43v1h-43zM944 549h43v1h-43zM944 485h43v1h-43zM944 476h43v1h-43zM944 468h43v1h-43zM944 452h43v1h-43z"/>
<path fill="#40bd72" d="M858 631h43v1h-43zM858 621h43v3h-43zM858 532h43v1h-43zM858 529h43v1h-43zM944 685h43v1h-43zM944 504h43v1h-43z"/>
<path fill="#46c06f" d="M858 678h43v1h-43zM858 672h43v1h-43zM858 668h43v1h-43zM858 643h43v1h-43zM858 626h43v1h-43zM858 557h43v1h-43zM858 511h43v1h-43zM858 507h43v1h-43zM858 491h43v2h-43zM944 499h43v1h-43zM944 491h43v1h-43zM944 489h43v1h-43zM944 473h43v1h-43z"/>
<path fill="#4cc26c" d="M858 666h43v2h-43zM858 564h43v1h-43zM858 562h43v1h-43zM858 546h43v1h-43zM901 613h43v1h-43zM901 461h43v1h-43zM944 523h43v1h-43zM944 480h43v1h-43zM944 458h43v1h-43zM944 434h43v1h-43z"/>
<path fill="#50c46a" d="M858 685h43v1h-43zM858 659h43v1h-43zM858 630h43v1h-43zM858 598h43v1h-43zM858 592h43v1h-43zM858 560h43v1h-43zM858 519h43v1h-43zM901 592h43v1h-43zM901 456h43v1h-43zM944 683h43v1h-43zM944 676h43v1h-43zM944 466h43v1h-43z"/>
<path fill="#56c667" d="M858 662h43v1h-43zM858 609h43v1h-43zM858 605h43v1h-43zM858 591h43v1h-43zM858 565h43v1h-43zM858 550h43v1h-43zM858 544h43v1h-43zM944 514h43v1h-43zM944 493h43v1h-43zM944 462h43v2h-43z"/>
<path fill="#5cc863" d="M858 634h43v1h-43zM858 619h43v1h-43zM858 593h43v1h-43zM858 555h43v1h-43zM858 531h43v1h-43zM901 684h43v1h-43zM944 669h43v1h-43zM944 667h43v1h-43zM944 453h43v1h-43z"/>
<path fill="#63cb5f" d="M858 629h43v1h-43zM858 570h43v1h-43zM858 517h43v2h-43zM858 512h43v1h-43zM901 577h43v1h-43zM944 505h43v1h-43zM944 487h43v1h-43z"/>
<path fill="#67cc5c" d="M858 671h43v1h-43zM858 633h43v1h-43zM858 624h43v1h-43zM858 620h43v1h-43zM858 542h43v1h-43zM858 527h43v2h-43zM901 633h43v1h-43zM944 666h43v1h-43zM944 658h43v1h-43zM944 541h43v1h-43zM944 496h43v1h-43zM944 477h43v1h-43zM944 451h43v1h-43z"/>
<path fill="#6ece58" d="M858 682h43v1h-43zM858 674h43v1h-43zM858 661h43v1h-43zM858 653h43v1h-43zM858 651h43v1h-43zM858 649h43v1h-43zM858 646h43v1h-43zM858 601h43v1h-43zM858 586h43v2h-43zM858 548h43v1h-43zM901 673h43v1h-43zM901 450h43v1h-43zM901 438h43v1h-43zM944 465h43v1h-43zM944 442h43v1h-43z"/>
<path fill="#75d054" d="M858 683h43v1h-43zM858 677h43v1h-43zM858 654h43v1h-43zM858 650h43v1h-43zM858 642h43v1h-43zM858 614h43v1h-43zM858 604h43v1h-43zM858 594h43v1h-43zM858 589h43v1h-43zM858 584h43v1h-43zM901 628h43v1h-43zM901 524h43v1h-43zM901 513h43v1h-43zM901 439h43v1h-43zM944 672h43v1h-43zM944 512h43v1h-43zM944 478h43v1h-43zM944 444h43v1h-43z"/>
<path fill="#7ad151" d="M858 670h43v1h-43zM858 583h43v1h-43zM901 668h43v1h-43zM901 641h43v1h-43zM901 474h43v1h-43zM944 678h43v1h-43zM944 508h43v1h-43zM944 498h43v1h-43zM944 488h43v1h-43zM944 481h43v1h-43zM944 469h43v1h-43zM944 433h43v1h-43z"/>
<path fill="#81d34d" d="M858 675h43v1h-43zM858 664h43v1h-43zM858 637h43v1h-43zM858 610h43v1h-43zM858 578h43v1h-43zM858 549h43v1h-43zM858 536h43v1h-43zM858 497h43v1h-43zM901 653h43v1h-43zM901 621h43v2h-43zM901 454h43v1h-43z"/>
<path fill="#89d548" d="M858 665h43v1h-43zM858 632h43v1h-43zM858 600h43v1h-43zM858 573h43v1h-43zM858 540h43v1h-43zM858 526h43v1h-43zM901 593h43v1h-43zM901 569h43v1h-43zM901 552h43v2h-43zM901 452h43v1h-43zM944 679h43v1h-43zM944 497h43v1h-43zM944 474h43v1h-43zM944 446h43v1h-43zM944 431h43v1h-43z"/>
<path fill="#8ed645" d="M858 679h43v1h-43zM858 644h43v1h-43zM858 640h43v1h-43zM858 611h43v1h-43zM858 572h43v1h-43zM858 561h43v1h-43zM858 537h43v1h-43zM901 676h43v1h-43zM901 670h43v1h-43zM901 651h43v2h-43zM901 504h43v1h-43zM901 435h43v1h-43zM944 670h43v1h-43zM944 435h43v1h-43z"/>
<path fill="#95d840" d="M858 676h43v1h-43zM858 663h43v1h-43zM858 541h43v1h-43zM858 539h43v1h-43zM901 599h43v1h-43zM901 483h43v2h-43zM901 459h43v1h-43zM944 464h43v1h-43z"/>
<path fill="#9dd93b" d="M858 686h43v2h-43zM858 684h43v1h-43zM858 645h43v1h-43zM858 563h43v1h-43zM901 666h43v1h-43zM901 664h43v1h-43zM901 619h43v1h-43zM901 551h43v1h-43zM944 675h43v1h-43zM944 470h43v2h-43z"/>
<path fill="#a2da37" d="M858 652h43v1h-43zM858 628h43v1h-43zM858 595h43v1h-43zM858 585h43v1h-43zM858 575h43v2h-43zM901 677h43v1h-43zM901 589h43v1h-43zM901 559h43v1h-43zM901 555h43v1h-43zM901 544h43v1h-43zM901 528h43v1h-43zM901 517h43v3h-43zM901 496h43v1h-43zM901 436h43v1h-43zM901 429h43v2h-43zM944 438h43v2h-43z"/>
<path fill="#aadc32" d="M858 680h43v1h-43zM858 669h43v1h-43zM858 655h43v3h-43zM858 635h43v1h-43zM858 606h43v1h-43zM858 602h43v1h-43zM858 599h43v1h-43zM858 596h43v1h-43zM858 547h43v1h-43zM901 674h43v1h-43zM901 663h43v1h-43zM901 648h43v1h-43zM901 631h43v1h-43zM901 614h43v1h-43zM901 594h43v1h-43zM901 591h43v1h-43zM901 570h43v1h-43zM901 538h43v1h-43zM901 514h43v2h-43zM901 493h43v1h-43zM901 471h43v1h-43zM901 467h43v1h-43zM944 445h43v1h-43z"/>
<path fill="#b2dd2d" d="M858 590h43v1h-43zM858 574h43v1h-43zM858 571h43v1h-43zM858 566h43v1h-43zM901 681h43v2h-43zM901 609h43v1h-43zM901 603h43v1h-43zM901 583h43v1h-43zM901 581h43v1h-43zM901 532h43v1h-43zM944 524h43v1h-43zM944 460h43v1h-43zM944 450h43v1h-43z"/>
<path fill="#bade28" d="M858 581h43v2h-43zM858 577h43v1h-43zM858 551h43v1h-43zM901 678h43v1h-43zM901 661h43v1h-43zM901 608h43v1h-43zM901 605h43v1h-43zM901 584h43v1h-43zM901 580h43v1h-43zM901 541h43v1h-43zM944 472h43v1h-43zM944 467h43v1h-43z"/>
<path fill="#c0df25" d="M858 569h43v1h-43zM901 634h43v1h-43zM901 627h43v1h-43zM901 620h43v1h-43zM901 611h43v1h-43zM901 600h43v1h-43zM901 579h43v1h-43zM901 549h43v1h-43zM901 537h43v1h-43zM901 501h43v1h-43zM901 465h43v1h-43zM901 457h43v1h-43zM944 432h43v1h-43z"/>
<path fill="#c8e020" d="M858 641h43v1h-43zM858 579h43v1h-43zM901 672h43v1h-43zM901 543h43v1h-43zM901 502h43v1h-43zM901 482h43v1h-43zM901 445h43v1h-43zM901 443h43v1h-43zM901 433h43v1h-43zM944 457h43v1h-43zM944 454h43v1h-43zM944 436h43v1h-43z"/>
<path fill="#d0e11c" d="M858 627h43v1h-43zM858 616h43v1h-43zM858 568h43v1h-43zM901 685h43v1h-43zM901 637h43v1h-43zM901 612h43v1h-43zM901 562h43v1h-43zM901 554h43v1h-43zM901 533h43v1h-43zM901 447h43v1h-43zM901 441h43v1h-43zM944 429h43v2h-43z"/>
<path fill="#d5e21a" d="M858 615h43v1h-43zM858 580h43v1h-43zM858 554h43v1h-43zM901 649h43v1h-43zM901 595h43v1h-43zM901 550h43v1h-43zM901 536h43v1h-43zM901 527h43v1h-43zM901 486h43v1h-43zM901 455h43v1h-43zM901 431h43v1h-43zM944 440h43v1h-43z"/>
<path fill="#dde318" d="M858 608h43v1h-43zM858 558h43v1h-43zM901 683h43v1h-43zM901 680h43v1h-43zM901 669h43v1h-43zM901 660h43v1h-43zM901 646h43v1h-43zM901 602h43v1h-43zM901 597h43v1h-43zM901 561h43v1h-43zM901 557h43v1h-43zM901 542h43v1h-43zM901 535h43v1h-43zM901 520h43v1h-43zM901 510h43v1h-43zM901 506h43v1h-43zM901 492h43v1h-43zM901 469h43v1h-43zM944 479h43v1h-43zM944 459h43v1h-43z"/>
<path fill="#e5e419" d="M858 618h43v1h-43zM858 588h43v1h-43zM858 545h43v1h-43zM901 665h43v1h-43zM901 655h43v2h-43zM901 643h43v1h-43zM901 640h43v1h-43zM901 632h43v1h-43zM901 568h43v1h-43zM901 516h43v1h-43zM901 505h43v1h-43zM901 503h43v1h-43zM901 495h43v1h-43zM901 491h43v1h-43zM901 466h43v1h-43zM901 460h43v1h-43zM944 441h43v1h-43z"/>
<path fill="#eae51a" d="M858 639h43v1h-43zM901 662h43v1h-43zM901 654h43v1h-43zM901 610h43v1h-43zM901 606h43v1h-43zM901 545h43v2h-43zM901 525h43v2h-43zM901 475h43v1h-43zM901 462h43v1h-43zM901 434h43v1h-43zM944 447h43v1h-43z"/>
<path fill="#f1e51d" d="M858 658h43v1h-43zM901 626h43v1h-43zM901 617h43v1h-43zM901 590h43v1h-43zM901 566h43v1h-43zM901 523h43v1h-43zM901 508h43v1h-43zM901 489h43v1h-43zM901 478h43v1h-43zM944 680h43v1h-43zM944 448h43v2h-43z"/>
<path fill="#f8e621" d="M901 644h43v1h-43zM901 629h43v1h-43zM901 623h43v1h-43zM901 598h43v1h-43zM901 573h43v1h-43zM901 548h43v1h-43zM901 531h43v1h-43zM901 485h43v1h-43zM901 451h43v1h-43zM944 455h43v2h-43z"/>
<path fill="#fde725" d="M858 660h43v1h-43zM901 686h43v2h-43zM901 679h43v1h-43zM901 675h43v1h-43zM901 671h43v1h-43zM901 667h43v1h-43zM901 657h43v3h-43zM901 650h43v1h-43zM901 647h43v1h-43zM901 645h43v1h-43zM901 642h43v1h-43zM901 638h43v2h-43zM901 635h43v2h-43zM901 630h43v1h-43zM901 625h43v1h-43zM901 618h43v1h-43zM901 615h43v2h-43zM901 607h43v1h-43zM901 604h43v1h-43zM901 601h43v1h-43zM901 596h43v1h-43zM901 585h43v4h-43zM901 582h43v1h-43zM901 578h43v1h-43zM901 574h43v3h-43zM901 571h43v2h-43zM901 567h43v1h-43zM901 564h43v2h-43zM901 560h43v1h-43zM901 558h43v1h-43zM901 556h43v1h-43zM901 547h43v1h-43zM901 539h43v2h-43zM901 534h43v1h-43zM901 529h43v2h-43zM901 521h43v2h-43zM901 511h43v2h-43zM901 509h43v1h-43zM901 507h43v1h-43zM901 497h43v4h-43zM901 494h43v1h-43zM901 490h43v1h-43zM901 487h43v2h-43zM901 479h43v3h-43zM901 476h43v2h-43zM901 472h43v2h-43zM901 470h43v1h-43zM901 468h43v1h-43zM901 463h43v2h-43zM901 458h43v1h-43zM901 453h43v1h-43zM901 448h43v2h-43zM901 446h43v1h-43zM901 444h43v1h-43zM901 442h43v1h-43zM901 440h43v1h-43zM901 437h43v1h-43zM944 437h43v1h-43z"/>
</g>
<clipPath id="c7"><rect x="817.5" y="429.5" width="216" height="258"/></clipPath>
<g clip-path="url(#c7)" fill="none" stroke-linecap="butt">
<polyline stroke="#808080" stroke-width="2.08" points="920.22,687.4 919.68,684.14 919.16,680.88 918.66,677.62 918.17,674.36 917.71,671.11 917.27,667.85 916.84,664.59 916.44,661.33 916.05,658.07 915.68,654.81 915.33,651.55 915.01,648.29 914.7,645.03 914.41,641.78 914.14,638.52 913.88,635.26 913.65,632 913.44,628.74 913.24,625.48 913.07,622.22 912.91,618.96 912.78,615.71 912.66,612.45 912.56,609.19 912.48,605.93 912.42,602.67 912.38,599.41 912.36,596.15 912.36,592.89 912.38,589.63 912.41,586.38 912.47,583.12 912.54,579.86 912.64,576.6 912.75,573.34 912.88,570.08 913.03,566.82 913.2,563.56 913.4,560.3 913.6,557.05 913.83,553.79 914.08,550.53 914.35,547.27 914.63,544.01 914.94,540.75 915.26,537.49 915.61,534.23 915.97,530.97 916.35,527.72 916.76,524.46 917.18,521.2 917.62,517.94 918.08,514.68 918.55,511.42 919.05,508.16 919.57,504.9 920.1,501.64 920.66,498.39 921.23,495.13 921.83,491.87 922.44,488.61 923.07,485.35 923.72,482.09 924.39,478.83 925.08,475.57 925.79,472.32 926.52,469.06 927.27,465.8 928.04,462.54 928.82,459.28 929.63,456.02 930.45,452.76 931.3,449.5 932.16,446.24 933.04,442.99 933.94,439.73 934.86,436.47 935.8,433.21 936.76,429.95"/>
<polyline stroke="#ff0000" stroke-width="2.78" points="920.22,687.4 919.86,685.28 919.52,683.15 919.18,681.03 918.85,678.91 918.53,676.79 918.22,674.66 917.91,672.54 917.62,670.42 917.33,668.29 917.05,666.17 916.77,664.05 916.51,661.92 916.25,659.8 916,657.68 915.76,655.56 915.53,653.43 915.31,651.31 915.09,649.19 914.89,647.06 914.69,644.94 914.5,642.82 914.31,640.69 914.14,638.57 913.97,636.45 913.81,634.33 913.66,632.2 913.52,630.08 913.39,627.96 913.26,625.83 913.15,623.71 913.04,621.59 912.94,619.46 912.84,617.34 912.76,615.22 912.68,613.1 912.61,610.97 912.55,608.85 912.5,606.73 912.45,604.6"/>
<polyline stroke="#ff0000" stroke-width="2.78" points="913.11,565.27 913.2,563.63 913.29,561.99 913.39,560.35 913.49,558.72 913.6,557.08 913.71,555.44 913.83,553.81 913.95,552.17 914.08,550.53 914.21,548.89 914.35,547.26 914.49,545.62 914.64,543.98 914.79,542.35 914.94,540.71 915.1,539.07 915.27,537.43 915.44,535.8 915.62,534.16 915.8,532.52 915.98,530.89 916.17,529.25 916.37,527.61 916.57,525.97 916.77,524.34 916.98,522.7 917.19,521.06 917.41,519.43 917.64,517.79 917.87,516.15 918.1,514.52 918.34,512.88 918.58,511.24 918.83,509.6 919.08,507.97 919.34,506.33 919.6,504.69 919.87,503.06 920.14,501.42"/>
<polyline stroke="#ff0000" stroke-width="2.78" points="923.65,482.47 923.92,481.12 924.2,479.78 924.48,478.43 924.76,477.08 925.05,475.74 925.34,474.39 925.63,473.04 925.93,471.7 926.23,470.35 926.53,469 926.84,467.66 927.15,466.31 927.46,464.96 927.78,463.62 928.1,462.27 928.42,460.92 928.75,459.58 929.08,458.23 929.41,456.88 929.75,455.54 930.09,454.19 930.43,452.84 930.78,451.5 931.13,450.15 931.48,448.8 931.83,447.46 932.19,446.11 932.56,444.76 932.92,443.42 933.29,442.07 933.66,440.72 934.04,439.38 934.42,438.03 934.8,436.68 935.19,435.34 935.57,433.99 935.97,432.64 936.36,431.3 936.76,429.95"/>
</g>
<rect x="817.5" y="429.5" width="216" height="258" fill="none" stroke="#000" stroke-width="1.11"/>
<path d="M836.5 687.5v4.86M879.5 687.5v4.86M922.5 687.5v4.86M966.5 687.5v4.86M1009.5 687.5v4.86M817.5 686.5h-4.86M817.5 635.5h-4.86M817.5 583.5h-4.86M817.5 532.5h-4.86M817.5 480.5h-4.86" stroke="#000" stroke-width="1.11" fill="none"/>
<g font-size="13.89" text-anchor="middle">
<text x="836.62" y="707.9">640</text>
<text x="879.77" y="707.9">641</text>
<text x="922.92" y="707.9">642</text>
<text x="966.07" y="707.9">643</text>
<text x="1009.22" y="707.9">644</text>
</g>
<g font-size="13.89" text-anchor="end">
<text x="807.1" y="692">0</text>
<text x="807.1" y="640">50</text>
<text x="807.1" y="589">100</text>
<text x="807.1" y="537">150</text>
<text x="807.1" y="486">200</text>
</g>
<text font-size="13.89" text-anchor="middle" x="924.77" y="726.7">X axis (array index)</text>
<text font-size="13.89" text-anchor="middle" transform="translate(771.1 558.67) rotate(-90)">Y axis (array index)</text>
<text font-size="16.67" text-anchor="middle" x="924.88" y="420">C distortion: line #7/8 (deg.: 2)</text>
<rect x="1038.5" y="429.5" width="11" height="258" fill="url(#vir)" stroke="#000" stroke-width="1.11"/>
<path d="M1049.5 670.5h4.86M1049.5 637.5h4.86M1049.5 604.5h4.86M1049.5 571.5h4.86M1049.5 538.5h4.86M1049.5 505.5h4.86M1049.5 472.5h4.86M1049.5 439.5h4.86" stroke="#000" stroke-width="1.11" fill="none"/>
<g font-size="13.89">
<text x="1058.6" y="676">20</text>
<text x="1058.6" y="643">40</text>
<text x="1058.6" y="610">60</text>
<text x="1058.6" y="577">80</text>
<text x="1058.6" y="544">100</text>
<text x="1058.6" y="511">120</text>
<text x="1058.6" y="478">140</text>
<text x="1058.6" y="445">160</text>
</g>
<text font-size="13.89" text-anchor="middle" transform="translate(1100.22 558.67) rotate(-90)">Number of counts</text>
</g>
<g id="p8">
<g shape-rendering="crispEdges">
<path fill="#440154" d="M1364 621h43v2h-43zM1364 610h43v1h-43zM1407 668h2v1h-2zM1407 508h2v1h-2zM1407 463h2v1h-2zM1407 444h2v1h-2z"/>
<path fill="#450457" d="M1193 471h42v1h-42zM1364 666h43v1h-43zM1364 596h43v1h-43zM1407 559h2v1h-2z"/>
<path fill="#46085c" d="M1193 488h42v1h-42zM1193 470h42v1h-42zM1193 455h42v1h-42zM1364 675h43v1h-43zM1364 657h43v1h-43zM1364 607h43v1h-43zM1364 580h43v1h-43zM1364 564h43v1h-43zM1364 550h43v1h-43zM1407 648h2v1h-2zM1407 645h2v1h-2zM1407 617h2v1h-2zM1407 597h2v1h-2zM1407 555h2v1h-2zM1407 548h2v1h-2zM1407 527h2v1h-2zM1407 497h2v1h-2z"/>
<path fill="#470d60" d="M1193 437h42v1h-42zM1193 433h42v1h-42zM1364 686h43v2h-43zM1364 684h43v1h-43zM1364 665h43v1h-43zM1364 644h43v1h-43zM1364 625h43v1h-43zM1364 623h43v1h-43zM1364 584h43v1h-43zM1364 581h43v1h-43zM1364 574h43v1h-43zM1364 505h43v1h-43zM1407 665h2v1h-2zM1407 663h2v1h-2zM1407 608h2v1h-2zM1407 590h2v1h-2zM1407 579h2v1h-2zM1407 572h2v1h-2zM1407 495h2v1h-2zM1407 479h2v1h-2zM1407 451h2v1h-2z"/>
<path fill="#471063" d="M1193 502h42v1h-42zM1193 491h42v1h-42zM1193 481h42v1h-42zM1193 474h42v1h-42zM1193 438h42v1h-42zM1364 685h43v1h-43zM1364 681h43v1h-43zM1364 672h43v1h-43zM1364 636h43v1h-43zM1364 634h43v1h-43zM1364 626h43v1h-43zM1364 618h43v2h-43zM1364 612h43v2h-43zM1364 586h43v2h-43zM1364 562h43v1h-43zM1364 463h43v1h-43zM1407 675h2v1h-2zM1407 650h2v1h-2zM1407 639h2v1h-2zM1407 626h2v1h-2zM1407 588h2v1h-2zM1407 582h2v1h-2zM1407 550h2v1h-2zM1407 545h2v1h-2zM1407 525h2v1h-2zM1407 520h2v1h-2zM1407 517h2v2h-2zM1407 511h2v1h-2zM1407 505h2v1h-2zM1407 503h2v1h-2zM1407 434h2v1h-2zM1407 429h2v2h-2z"/>
<path fill="#481467" d="M1193 513h42v1h-42zM1193 506h42v1h-42zM1193 465h42v1h-42zM1364 682h43v1h-43zM1364 669h43v1h-43zM1364 663h43v2h-43zM1364 647h43v1h-43zM1364 643h43v1h-43zM1364 620h43v1h-43zM1364 605h43v1h-43zM1364 595h43v1h-43zM1364 593h43v1h-43zM1364 591h43v1h-43zM1364 576h43v1h-43zM1364 569h43v1h-43zM1364 560h43v1h-43zM1364 546h43v1h-43zM1364 519h43v1h-43zM1364 486h43v1h-43zM1407 671h2v1h-2zM1407 662h2v1h-2zM1407 628h2v1h-2zM1407 621h2v2h-2zM1407 619h2v1h-2zM1407 610h2v1h-2zM1407 604h2v1h-2zM1407 596h2v1h-2zM1407 589h2v1h-2zM1407 562h2v1h-2zM1407 539h2v1h-2zM1407 533h2v1h-2zM1407 516h2v1h-2zM1407 504h2v1h-2zM1407 489h2v1h-2zM1407 472h2v1h-2zM1407 460h2v1h-2zM1407 432h2v1h-2z"/>
<path fill="#48186a" d="M1193 548h42v1h-42zM1193 492h42v1h-42zM1193 461h42v1h-42zM1193 459h42v1h-42zM1193 447h42v1h-42zM1193 445h42v1h-42zM1193 441h42v1h-42zM1364 679h43v1h-43zM1364 676h43v1h-43zM1364 670h43v1h-43zM1364 667h43v1h-43zM1364 658h43v1h-43zM1364 648h43v3h-43zM1364 628h43v1h-43zM1364 624h43v1h-43zM1364 614h43v1h-43zM1364 609h43v1h-43zM1364 590h43v1h-43zM1364 545h43v1h-43zM1364 534h43v1h-43zM1364 522h43v1h-43zM1364 488h43v1h-43zM1364 485h43v1h-43zM1407 685h2v1h-2zM1407 674h2v1h-2zM1407 644h2v1h-2zM1407 640h2v1h-2zM1407 632h2v2h-2zM1407 611h2v1h-2zM1407 609h2v1h-2zM1407 606h2v1h-2zM1407 592h2v1h-2zM1407 586h2v2h-2zM1407 574h2v2h-2zM1407 543h2v2h-2zM1407 530h2v1h-2zM1407 515h2v1h-2zM1407 498h2v1h-2zM1407 488h2v1h-2zM1407 481h2v1h-2zM1407 475h2v1h-2zM1407 469h2v1h-2zM1407 452h2v1h-2zM1407 443h2v1h-2z"/>
<path fill="#481b6d" d="M1193 527h42v1h-42zM1193 498h42v1h-42zM1193 483h42v2h-42zM1193 456h42v1h-42zM1364 674h43v1h-43zM1364 660h43v1h-43zM1364 654h43v1h-43zM1364 637h43v1h-43zM1364 633h43v1h-43zM1364 600h43v2h-43zM1364 592h43v1h-43zM1364 571h43v1h-43zM1364 565h43v1h-43zM1364 557h43v1h-43zM1364 537h43v1h-43zM1364 527h43v1h-43zM1364 520h43v1h-43zM1364 489h43v1h-43zM1364 440h43v1h-43zM1364 436h43v1h-43zM1407 686h2v2h-2zM1407 683h2v1h-2zM1407 673h2v1h-2zM1407 669h2v1h-2zM1407 661h2v1h-2zM1407 658h2v2h-2zM1407 654h2v1h-2zM1407 641h2v1h-2zM1407 624h2v1h-2zM1407 620h2v1h-2zM1407 613h2v1h-2zM1407 605h2v1h-2zM1407 601h2v1h-2zM1407 566h2v2h-2zM1407 551h2v1h-2zM1407 535h2v1h-2zM1407 507h2v1h-2zM1407 486h2v1h-2zM1407 478h2v1h-2zM1407 476h2v1h-2zM1407 468h2v1h-2zM1407 439h2v1h-2zM1407 433h2v1h-2z"/>
<path fill="#481f70" d="M1193 686h42v2h-42zM1193 542h42v1h-42zM1193 489h42v1h-42zM1193 482h42v1h-42zM1193 476h42v1h-42zM1193 457h42v1h-42zM1193 435h42v1h-42zM1193 432h42v1h-42zM1364 655h43v2h-43zM1364 652h43v1h-43zM1364 645h43v1h-43zM1364 639h43v1h-43zM1364 635h43v1h-43zM1364 630h43v1h-43zM1364 627h43v1h-43zM1364 608h43v1h-43zM1364 604h43v1h-43zM1364 567h43v1h-43zM1364 547h43v2h-43zM1364 541h43v1h-43zM1364 538h43v1h-43zM1364 515h43v1h-43zM1364 509h43v1h-43zM1364 499h43v1h-43zM1364 443h43v1h-43zM1407 679h2v1h-2zM1407 676h2v1h-2zM1407 670h2v1h-2zM1407 667h2v1h-2zM1407 649h2v1h-2zM1407 646h2v1h-2zM1407 634h2v2h-2zM1407 630h2v1h-2zM1407 623h2v1h-2zM1407 618h2v1h-2zM1407 615h2v1h-2zM1407 571h2v1h-2zM1407 568h2v1h-2zM1407 556h2v1h-2zM1407 546h2v2h-2zM1407 529h2v1h-2zM1407 524h2v1h-2zM1407 483h2v2h-2zM1407 480h2v1h-2z"/>
<path fill="#482374" d="M1193 606h42v1h-42zM1193 503h42v1h-42zM1193 501h42v1h-42zM1193 494h42v1h-42zM1193 479h42v1h-42zM1193 475h42v1h-42zM1193 462h42v1h-42zM1193 460h42v1h-42zM1193 453h42v1h-42zM1193 451h42v1h-42zM1193 448h42v2h-42zM1193 439h42v1h-42zM1193 436h42v1h-42zM1364 680h43v1h-43zM1364 678h43v1h-43zM1364 659h43v1h-43zM1364 631h43v1h-43zM1364 616h43v1h-43zM1364 577h43v1h-43zM1364 575h43v1h-43zM1364 568h43v1h-43zM1364 555h43v1h-43zM1364 544h43v1h-43zM1364 524h43v2h-43zM1364 513h43v1h-43zM1364 511h43v1h-43zM1364 503h43v1h-43zM1364 500h43v1h-43zM1364 494h43v1h-43zM1364 492h43v1h-43zM1364 490h43v1h-43zM1364 481h43v1h-43zM1364 461h43v1h-43zM1407 682h2v1h-2zM1407 677h2v1h-2zM1407 653h2v1h-2zM1407 651h2v1h-2zM1407 643h2v1h-2zM1407 636h2v1h-2zM1407 629h2v1h-2zM1407 598h2v1h-2zM1407 583h2v1h-2zM1407 577h2v1h-2zM1407 563h2v2h-2zM1407 531h2v1h-2zM1407 528h2v1h-2zM1407 526h2v1h-2zM1407 523h2v1h-2zM1407 510h2v1h-2zM1407 467h2v1h-2zM1407 464h2v2h-2zM1407 456h2v1h-2zM1407 446h2v1h-2zM1407 431h2v1h-2z"/>
<path fill="#482576" d="M1193 535h42v1h-42zM1193 480h42v1h-42zM1193 478h42v1h-42zM1193 464h42v1h-42zM1193 450h42v1h-42zM1193 446h42v1h-42zM1193 443h42v2h-42zM1193 431h42v1h-42zM1364 683h43v1h-43zM1364 677h43v1h-43zM1364 661h43v1h-43zM1364 653h43v1h-43zM1364 629h43v1h-43zM1364 615h43v1h-43zM1364 602h43v1h-43zM1364 597h43v1h-43zM1364 594h43v1h-43zM1364 588h43v1h-43zM1364 582h43v1h-43zM1364 578h43v1h-43zM1364 566h43v1h-43zM1364 558h43v1h-43zM1364 542h43v2h-43zM1364 540h43v1h-43zM1364 528h43v1h-43zM1364 526h43v1h-43zM1364 516h43v1h-43zM1364 507h43v1h-43zM1364 501h43v1h-43zM1364 497h43v1h-43zM1364 483h43v2h-43zM1364 452h43v1h-43zM1364 437h43v1h-43zM1407 680h2v2h-2zM1407 660h2v1h-2zM1407 642h2v1h-2zM1407 631h2v1h-2zM1407 627h2v1h-2zM1407 614h2v1h-2zM1407 612h2v1h-2zM1407 607h2v1h-2zM1407 603h2v1h-2zM1407 599h2v1h-2zM1407 585h2v1h-2zM1407 580h2v1h-2zM1407 573h2v1h-2zM1407 569h2v1h-2zM1407 561h2v1h-2zM1407 541h2v1h-2zM1407 537h2v1h-2zM1407 534h2v1h-2zM1407 521h2v1h-2zM1407 492h2v1h-2zM1407 482h2v1h-2zM1407 471h2v1h-2zM1407 462h2v1h-2zM1407 455h2v1h-2zM1407 447h2v1h-2z"/>
<path fill="#482979" d="M1193 579h42v1h-42zM1193 570h42v1h-42zM1193 520h42v1h-42zM1193 490h42v1h-42zM1193 452h42v1h-42zM1193 434h42v1h-42zM1193 429h42v2h-42zM1364 662h43v1h-43zM1364 651h43v1h-43zM1364 646h43v1h-43zM1364 606h43v1h-43zM1364 589h43v1h-43zM1364 583h43v1h-43zM1364 573h43v1h-43zM1364 552h43v2h-43zM1364 535h43v1h-43zM1364 532h43v1h-43zM1364 512h43v1h-43zM1364 510h43v1h-43zM1364 502h43v1h-43zM1364 495h43v2h-43zM1364 474h43v2h-43zM1364 468h43v1h-43zM1364 464h43v1h-43zM1364 455h43v1h-43zM1407 672h2v1h-2zM1407 664h2v1h-2zM1407 655h2v3h-2zM1407 638h2v1h-2zM1407 602h2v1h-2zM1407 594h2v2h-2zM1407 591h2v1h-2zM1407 576h2v1h-2zM1407 570h2v1h-2zM1407 557h2v1h-2zM1407 552h2v2h-2zM1407 519h2v1h-2zM1407 512h2v1h-2zM1407 500h2v1h-2zM1407 496h2v1h-2zM1407 493h2v2h-2zM1407 490h2v1h-2zM1407 477h2v1h-2zM1407 470h2v1h-2zM1407 458h2v1h-2zM1407 448h2v3h-2zM1407 440h2v2h-2zM1407 435h2v1h-2z"/>
<path fill="#472d7b" d="M1193 685h42v1h-42zM1193 640h42v1h-42zM1193 613h42v1h-42zM1193 609h42v1h-42zM1193 566h42v1h-42zM1193 564h42v1h-42zM1193 544h42v1h-42zM1193 539h42v1h-42zM1193 500h42v1h-42zM1193 485h42v1h-42zM1193 467h42v1h-42zM1193 442h42v1h-42zM1364 671h43v1h-43zM1364 640h43v1h-43zM1364 617h43v1h-43zM1364 585h43v1h-43zM1364 579h43v1h-43zM1364 570h43v1h-43zM1364 563h43v1h-43zM1364 561h43v1h-43zM1364 559h43v1h-43zM1364 556h43v1h-43zM1364 539h43v1h-43zM1364 533h43v1h-43zM1364 514h43v1h-43zM1364 506h43v1h-43zM1364 478h43v2h-43zM1364 459h43v1h-43zM1407 652h2v1h-2zM1407 637h2v1h-2zM1407 625h2v1h-2zM1407 616h2v1h-2zM1407 600h2v1h-2zM1407 560h2v1h-2zM1407 549h2v1h-2zM1407 542h2v1h-2zM1407 514h2v1h-2zM1407 509h2v1h-2zM1407 501h2v1h-2zM1407 487h2v1h-2zM1407 485h2v1h-2zM1407 473h2v1h-2zM1407 459h2v1h-2zM1407 457h2v1h-2zM1407 442h2v1h-2z"/>
<path fill="#46307e" d="M1193 684h42v1h-42zM1193 681h42v1h-42zM1193 667h42v1h-42zM1193 628h42v1h-42zM1193 595h42v1h-42zM1193 508h42v1h-42zM1193 497h42v1h-42zM1193 495h42v1h-42zM1193 486h42v1h-42zM1193 463h42v1h-42zM1364 668h43v1h-43zM1364 638h43v1h-43zM1364 603h43v1h-43zM1364 599h43v1h-43zM1364 551h43v1h-43zM1364 536h43v1h-43zM1364 529h43v2h-43zM1364 504h43v1h-43zM1364 491h43v1h-43zM1364 470h43v2h-43zM1364 458h43v1h-43zM1364 445h43v1h-43zM1407 678h2v1h-2zM1407 666h2v1h-2zM1407 581h2v1h-2zM1407 578h2v1h-2zM1407 540h2v1h-2zM1407 536h2v1h-2zM1407 532h2v1h-2zM1407 499h2v1h-2zM1407 474h2v1h-2zM1407 461h2v1h-2zM1407 436h2v2h-2z"/>
<path fill="#46337f" d="M1193 670h42v1h-42zM1193 652h42v1h-42zM1193 615h42v1h-42zM1193 598h42v1h-42zM1193 560h42v1h-42zM1193 552h42v2h-42zM1193 549h42v1h-42zM1193 530h42v3h-42zM1193 528h42v1h-42zM1193 521h42v1h-42zM1193 517h42v2h-42zM1193 515h42v1h-42zM1193 496h42v1h-42zM1193 493h42v1h-42zM1193 472h42v1h-42zM1193 454h42v1h-42zM1364 642h43v1h-43zM1364 611h43v1h-43zM1364 598h43v1h-43zM1364 554h43v1h-43zM1364 549h43v1h-43zM1364 523h43v1h-43zM1364 517h43v2h-43zM1364 508h43v1h-43zM1364 487h43v1h-43zM1364 465h43v1h-43zM1364 462h43v1h-43zM1364 453h43v1h-43zM1407 584h2v1h-2zM1407 565h2v1h-2zM1407 538h2v1h-2zM1407 502h2v1h-2zM1407 491h2v1h-2z"/>
<path fill="#453781" d="M1193 673h42v1h-42zM1193 655h42v3h-42zM1193 630h42v1h-42zM1193 580h42v1h-42zM1193 543h42v1h-42zM1193 534h42v1h-42zM1193 512h42v1h-42zM1193 510h42v1h-42zM1193 473h42v1h-42zM1193 466h42v1h-42zM1364 673h43v1h-43zM1364 632h43v1h-43zM1364 498h43v1h-43zM1364 482h43v1h-43zM1364 476h43v1h-43zM1407 684h2v1h-2zM1407 647h2v1h-2zM1407 593h2v1h-2zM1407 558h2v1h-2zM1407 513h2v1h-2zM1407 466h2v1h-2zM1407 445h2v1h-2z"/>
<path fill="#443a83" d="M1193 682h42v2h-42zM1193 674h42v1h-42zM1193 666h42v1h-42zM1193 661h42v1h-42zM1193 650h42v1h-42zM1193 641h42v2h-42zM1193 638h42v1h-42zM1193 608h42v1h-42zM1193 604h42v1h-42zM1193 584h42v1h-42zM1193 563h42v1h-42zM1193 559h42v1h-42zM1193 538h42v1h-42zM1193 522h42v1h-42zM1193 514h42v1h-42zM1193 511h42v1h-42zM1193 507h42v1h-42zM1193 504h42v2h-42zM1193 487h42v1h-42zM1193 477h42v1h-42zM1193 469h42v1h-42zM1193 458h42v1h-42zM1364 641h43v1h-43zM1364 572h43v1h-43zM1364 521h43v1h-43zM1364 493h43v1h-43zM1364 466h43v2h-43zM1364 460h43v1h-43zM1364 444h43v1h-43zM1364 441h43v1h-43zM1364 435h43v1h-43zM1407 453h2v1h-2zM1407 438h2v1h-2z"/>
<path fill="#433d84" d="M1193 680h42v1h-42zM1193 671h42v1h-42zM1193 669h42v1h-42zM1193 617h42v1h-42zM1193 611h42v1h-42zM1193 591h42v1h-42zM1193 574h42v1h-42zM1193 571h42v1h-42zM1193 554h42v1h-42zM1193 550h42v1h-42zM1193 540h42v2h-42zM1193 524h42v1h-42zM1193 519h42v1h-42zM1193 516h42v1h-42zM1193 468h42v1h-42zM1193 440h42v1h-42zM1364 531h43v1h-43zM1364 480h43v1h-43zM1364 473h43v1h-43zM1364 450h43v2h-43zM1364 433h43v1h-43zM1407 554h2v1h-2zM1407 522h2v1h-2z"/>
<path fill="#424086" d="M1193 677h42v1h-42zM1193 654h42v1h-42zM1193 634h42v1h-42zM1193 619h42v1h-42zM1193 562h42v1h-42zM1193 557h42v2h-42zM1193 547h42v1h-42zM1193 526h42v1h-42zM1364 456h43v1h-43zM1364 442h43v1h-43zM1407 506h2v1h-2z"/>
<path fill="#414487" d="M1193 679h42v1h-42zM1193 675h42v2h-42zM1193 665h42v1h-42zM1193 647h42v1h-42zM1193 645h42v1h-42zM1193 633h42v1h-42zM1193 631h42v1h-42zM1193 629h42v1h-42zM1193 625h42v1h-42zM1193 610h42v1h-42zM1193 582h42v1h-42zM1193 561h42v1h-42zM1193 537h42v1h-42zM1193 529h42v1h-42zM1193 509h42v1h-42zM1193 499h42v1h-42zM1364 477h43v1h-43zM1364 472h43v1h-43zM1364 469h43v1h-43zM1364 434h43v1h-43zM1364 429h43v2h-43zM1407 454h2v1h-2z"/>
<path fill="#404688" d="M1193 648h42v1h-42zM1193 636h42v1h-42zM1193 621h42v2h-42zM1193 616h42v1h-42zM1193 614h42v1h-42zM1193 605h42v1h-42zM1193 593h42v1h-42zM1193 588h42v1h-42zM1193 583h42v1h-42zM1193 577h42v1h-42zM1193 575h42v1h-42zM1193 572h42v1h-42zM1193 556h42v1h-42zM1193 551h42v1h-42zM1193 546h42v1h-42zM1193 536h42v1h-42zM1193 533h42v1h-42zM1193 523h42v1h-42zM1364 454h43v1h-43zM1364 438h43v2h-43z"/>
<path fill="#3e4989" d="M1193 672h42v1h-42zM1193 664h42v1h-42zM1193 644h42v1h-42zM1193 618h42v1h-42zM1193 600h42v1h-42zM1193 590h42v1h-42zM1193 569h42v1h-42zM1364 446h43v4h-43z"/>
<path fill="#3d4d8a" d="M1193 653h42v1h-42zM1193 649h42v1h-42zM1193 635h42v1h-42zM1193 627h42v1h-42zM1193 607h42v1h-42zM1193 594h42v1h-42zM1193 585h42v1h-42zM1193 573h42v1h-42zM1193 555h42v1h-42zM1193 545h42v1h-42zM1364 457h43v1h-43z"/>
<path fill="#3c4f8a" d="M1193 660h42v1h-42zM1193 651h42v1h-42zM1193 632h42v1h-42zM1193 626h42v1h-42zM1193 602h42v1h-42zM1193 599h42v1h-42zM1193 589h42v1h-42zM1321 562h43v1h-43z"/>
<path fill="#3b528b" d="M1193 646h42v1h-42zM1193 637h42v1h-42zM1193 620h42v1h-42zM1193 567h42v1h-42z"/>
<path fill="#39558c" d="M1193 668h42v1h-42zM1193 658h42v1h-42zM1193 601h42v1h-42zM1193 596h42v1h-42zM1193 576h42v1h-42zM1193 565h42v1h-42zM1364 432h43v1h-43z"/>
<path fill="#38598c" d="M1193 663h42v1h-42zM1193 612h42v1h-42zM1193 568h42v1h-42z"/>
<path fill="#375b8d" d="M1193 678h42v1h-42zM1193 643h42v1h-42zM1193 624h42v1h-42zM1193 592h42v1h-42zM1193 586h42v2h-42zM1193 525h42v1h-42z"/>
<path fill="#355e8d" d="M1193 662h42v1h-42zM1193 623h42v1h-42zM1193 597h42v1h-42z"/>
<path fill="#34618d" d="M1193 659h42v1h-42zM1193 639h42v1h-42zM1193 603h42v1h-42zM1193 581h42v1h-42zM1364 431h43v1h-43z"/>
<path fill="#33638d" d="M1193 578h42v1h-42z"/>
<path fill="#30698e" d="M1321 621h43v2h-43z"/>
<path fill="#2f6b8e" d="M1321 683h43v1h-43zM1321 662h43v1h-43zM1321 654h43v1h-43z"/>
<path fill="#2e6e8e" d="M1321 623h43v1h-43zM1321 552h43v2h-43z"/>
<path fill="#2d718e" d="M1321 682h43v1h-43zM1321 676h43v1h-43zM1321 618h43v1h-43zM1321 604h43v1h-43zM1321 592h43v2h-43zM1321 565h43v1h-43z"/>
<path fill="#2c738e" d="M1321 608h43v1h-43zM1321 573h43v1h-43zM1321 523h43v1h-43z"/>
<path fill="#2b758e" d="M1235 461h43v1h-43zM1321 554h43v1h-43zM1321 548h43v1h-43zM1321 546h43v1h-43z"/>
<path fill="#2a788e" d="M1321 635h43v1h-43zM1321 564h43v1h-43z"/>
<path fill="#297b8e" d="M1235 480h43v1h-43zM1321 633h43v1h-43zM1321 605h43v1h-43zM1321 590h43v1h-43zM1321 563h43v1h-43z"/>
<path fill="#287d8e" d="M1235 458h43v1h-43zM1235 431h43v1h-43zM1321 678h43v1h-43zM1321 663h43v1h-43zM1321 614h43v1h-43zM1321 606h43v1h-43z"/>
<path fill="#27808e" d="M1321 648h43v1h-43zM1321 637h43v1h-43zM1321 594h43v1h-43zM1321 581h43v1h-43zM1321 540h43v1h-43z"/>
<path fill="#26828e" d="M1235 460h43v1h-43zM1321 659h43v1h-43zM1321 651h43v1h-43zM1321 643h43v1h-43zM1321 626h43v1h-43zM1321 586h43v3h-43zM1321 582h43v1h-43zM1321 577h43v1h-43zM1321 561h43v1h-43zM1321 556h43v1h-43zM1321 543h43v1h-43zM1321 537h43v1h-43zM1321 527h43v1h-43zM1321 521h43v1h-43zM1321 511h43v1h-43z"/>
<path fill="#25848e" d="M1235 456h43v1h-43zM1235 450h43v1h-43zM1235 433h43v1h-43zM1321 680h43v1h-43zM1321 629h43v1h-43zM1321 542h43v1h-43z"/>
<path fill="#24878e" d="M1235 497h43v1h-43zM1235 470h43v1h-43zM1235 447h43v1h-43zM1235 429h43v2h-43zM1321 658h43v1h-43zM1321 640h43v1h-43zM1321 632h43v1h-43zM1321 603h43v1h-43zM1321 601h43v1h-43zM1321 555h43v1h-43zM1321 529h43v1h-43z"/>
<path fill="#238a8d" d="M1321 672h43v1h-43zM1321 666h43v1h-43zM1321 661h43v1h-43zM1321 639h43v1h-43zM1321 631h43v1h-43zM1321 624h43v1h-43zM1321 616h43v1h-43zM1321 613h43v1h-43zM1321 595h43v1h-43zM1321 578h43v1h-43zM1321 571h43v1h-43zM1321 569h43v1h-43zM1321 567h43v1h-43zM1321 557h43v1h-43z"/>
<path fill="#228c8d" d="M1235 483h43v2h-43zM1321 650h43v1h-43zM1321 620h43v1h-43zM1321 612h43v1h-43zM1321 602h43v1h-43zM1321 585h43v1h-43zM1321 534h43v1h-43z"/>
<path fill="#218f8d" d="M1235 463h43v1h-43zM1235 435h43v1h-43zM1321 677h43v1h-43zM1321 675h43v1h-43zM1321 671h43v1h-43zM1321 655h43v2h-43zM1321 652h43v1h-43zM1321 575h43v1h-43z"/>
<path fill="#20928c" d="M1235 432h43v1h-43zM1321 644h43v1h-43zM1321 619h43v1h-43zM1321 617h43v1h-43zM1321 607h43v1h-43zM1321 596h43v1h-43zM1321 574h43v1h-43zM1321 568h43v1h-43zM1321 550h43v1h-43zM1321 547h43v1h-43zM1321 539h43v1h-43zM1321 508h43v1h-43z"/>
<path fill="#1f948c" d="M1235 445h43v1h-43zM1321 684h43v1h-43zM1321 670h43v1h-43zM1321 646h43v1h-43zM1321 634h43v1h-43zM1321 600h43v1h-43zM1321 597h43v1h-43zM1321 584h43v1h-43zM1321 580h43v1h-43zM1321 514h43v1h-43z"/>
<path fill="#1f968b" d="M1235 439h43v2h-43zM1321 668h43v1h-43zM1321 649h43v1h-43zM1321 642h43v1h-43zM1321 615h43v1h-43zM1321 591h43v1h-43zM1321 576h43v1h-43zM1321 572h43v1h-43zM1321 538h43v1h-43z"/>
<path fill="#1f998a" d="M1235 482h43v1h-43zM1235 436h43v1h-43zM1321 679h43v1h-43zM1321 673h43v1h-43zM1321 667h43v1h-43zM1321 664h43v1h-43zM1321 638h43v1h-43zM1321 627h43v1h-43zM1321 589h43v1h-43zM1321 544h43v1h-43zM1321 526h43v1h-43z"/>
<path fill="#1e9c89" d="M1235 442h43v1h-43zM1321 665h43v1h-43zM1321 645h43v1h-43zM1321 598h43v2h-43zM1321 533h43v1h-43zM1321 513h43v1h-43zM1321 499h43v1h-43zM1321 496h43v1h-43zM1321 466h43v1h-43z"/>
<path fill="#1f9e89" d="M1235 532h43v1h-43zM1235 477h43v1h-43zM1235 464h43v1h-43zM1235 454h43v1h-43zM1321 685h43v1h-43zM1321 636h43v1h-43zM1321 625h43v1h-43zM1321 611h43v1h-43zM1321 559h43v1h-43zM1321 528h43v1h-43zM1321 510h43v1h-43z"/>
<path fill="#1fa188" d="M1235 468h43v1h-43zM1235 466h43v1h-43zM1235 457h43v1h-43zM1235 443h43v1h-43zM1321 681h43v1h-43zM1321 628h43v1h-43zM1321 570h43v1h-43zM1321 558h43v1h-43zM1321 522h43v1h-43zM1321 503h43v1h-43z"/>
<path fill="#20a386" d="M1235 495h43v1h-43zM1235 469h43v1h-43zM1235 467h43v1h-43zM1235 452h43v1h-43zM1235 441h43v1h-43zM1235 437h43v1h-43zM1321 660h43v1h-43zM1321 610h43v1h-43zM1321 579h43v1h-43zM1321 551h43v1h-43z"/>
<path fill="#21a585" d="M1235 678h43v1h-43zM1235 455h43v1h-43zM1235 446h43v1h-43zM1321 686h43v2h-43zM1321 531h43v1h-43zM1321 525h43v1h-43zM1321 504h43v1h-43zM1321 472h43v1h-43z"/>
<path fill="#22a884" d="M1235 493h43v1h-43zM1235 473h43v1h-43zM1321 657h43v1h-43zM1321 532h43v1h-43zM1321 530h43v1h-43zM1321 520h43v1h-43zM1321 517h43v2h-43zM1321 512h43v1h-43zM1321 486h43v1h-43zM1321 480h43v2h-43z"/>
<path fill="#25ab82" d="M1235 529h43v1h-43zM1235 494h43v1h-43zM1235 471h43v1h-43zM1235 462h43v1h-43zM1235 434h43v1h-43zM1321 549h43v1h-43zM1321 524h43v1h-43zM1321 519h43v1h-43zM1321 515h43v1h-43zM1321 493h43v1h-43zM1321 491h43v1h-43z"/>
<path fill="#26ad81" d="M1235 498h43v1h-43zM1235 486h43v1h-43zM1235 453h43v1h-43zM1235 444h43v1h-43zM1321 653h43v1h-43zM1321 647h43v1h-43zM1321 560h43v1h-43zM1321 541h43v1h-43zM1321 509h43v1h-43zM1321 487h43v1h-43z"/>
<path fill="#29af7f" d="M1235 526h43v1h-43zM1235 501h43v1h-43zM1235 481h43v1h-43zM1235 478h43v2h-43zM1235 465h43v1h-43zM1235 451h43v1h-43zM1321 674h43v1h-43zM1321 583h43v1h-43zM1321 545h43v1h-43zM1321 494h43v2h-43z"/>
<path fill="#2db27d" d="M1235 651h43v1h-43zM1235 647h43v1h-43zM1235 605h43v1h-43zM1235 485h43v1h-43zM1235 475h43v1h-43zM1235 472h43v1h-43zM1235 438h43v1h-43zM1278 458h43v1h-43zM1321 566h43v1h-43zM1321 536h43v1h-43zM1321 505h43v1h-43zM1321 501h43v1h-43zM1321 477h43v1h-43zM1321 433h43v1h-43z"/>
<path fill="#31b57b" d="M1235 668h43v1h-43zM1235 648h43v1h-43zM1235 489h43v1h-43zM1235 459h43v1h-43zM1235 448h43v2h-43zM1321 641h43v1h-43zM1321 609h43v1h-43zM1321 535h43v1h-43zM1321 483h43v2h-43zM1321 475h43v1h-43zM1321 467h43v1h-43z"/>
<path fill="#34b679" d="M1235 537h43v1h-43zM1235 499h43v1h-43zM1321 669h43v1h-43zM1321 516h43v1h-43zM1321 502h43v1h-43zM1321 498h43v1h-43zM1321 461h43v1h-43zM1321 455h43v1h-43zM1321 446h43v1h-43z"/>
<path fill="#38b977" d="M1235 686h43v2h-43zM1235 660h43v1h-43zM1235 589h43v1h-43zM1235 554h43v2h-43zM1235 500h43v1h-43zM1235 476h43v1h-43zM1278 612h43v1h-43zM1321 478h43v1h-43zM1321 464h43v1h-43z"/>
<path fill="#3dbc74" d="M1235 664h43v1h-43zM1235 655h43v2h-43zM1235 474h43v1h-43zM1278 450h43v1h-43zM1321 630h43v1h-43zM1321 500h43v1h-43zM1321 489h43v1h-43zM1321 469h43v1h-43z"/>
<path fill="#40bd72" d="M1235 654h43v1h-43zM1235 534h43v1h-43zM1235 531h43v1h-43zM1235 519h43v2h-43zM1278 627h43v1h-43zM1321 506h43v2h-43zM1321 490h43v1h-43zM1321 470h43v1h-43zM1321 444h43v2h-43z"/>
<path fill="#46c06f" d="M1235 666h43v1h-43zM1235 642h43v1h-43zM1235 491h43v1h-43zM1278 591h43v1h-43zM1278 523h43v1h-43zM1278 473h43v1h-43zM1321 492h43v1h-43zM1321 488h43v1h-43zM1321 474h43v1h-43zM1321 468h43v1h-43zM1321 432h43v1h-43z"/>
<path fill="#4cc26c" d="M1235 652h43v1h-43zM1235 630h43v1h-43zM1235 560h43v1h-43zM1235 546h43v1h-43zM1235 487h43v2h-43zM1278 572h43v1h-43zM1278 493h43v1h-43zM1321 497h43v1h-43zM1321 485h43v1h-43zM1321 482h43v1h-43zM1321 479h43v1h-43zM1321 465h43v1h-43zM1321 456h43v1h-43zM1321 434h43v1h-43z"/>
<path fill="#50c46a" d="M1235 627h43v1h-43zM1235 617h43v1h-43zM1235 613h43v1h-43zM1235 552h43v2h-43zM1235 548h43v1h-43zM1235 508h43v1h-43zM1278 628h43v1h-43zM1278 531h43v1h-43zM1321 476h43v1h-43zM1321 473h43v1h-43zM1321 457h43v1h-43z"/>
<path fill="#56c667" d="M1235 684h43v1h-43zM1235 538h43v1h-43zM1278 651h43v1h-43zM1278 475h43v1h-43z"/>
<path fill="#5cc863" d="M1235 669h43v1h-43zM1235 643h43v1h-43zM1235 599h43v1h-43zM1235 515h43v1h-43zM1235 510h43v1h-43zM1235 507h43v1h-43zM1235 496h43v1h-43zM1278 682h43v1h-43zM1278 664h43v1h-43zM1278 576h43v1h-43zM1278 539h43v1h-43zM1321 460h43v1h-43zM1321 442h43v1h-43z"/>
<path fill="#63cb5f" d="M1235 680h43v1h-43zM1235 592h43v1h-43zM1235 525h43v1h-43zM1235 509h43v1h-43zM1278 619h43v1h-43z"/>
<path fill="#67cc5c" d="M1235 675h43v1h-43zM1235 639h43v1h-43zM1235 598h43v1h-43zM1235 556h43v1h-43zM1235 522h43v1h-43zM1278 653h43v1h-43zM1278 533h43v1h-43zM1278 527h43v1h-43zM1278 506h43v1h-43zM1278 438h43v1h-43zM1321 458h43v1h-43zM1321 451h43v1h-43zM1321 438h43v1h-43z"/>
<path fill="#6ece58" d="M1235 584h43v1h-43zM1235 562h43v1h-43zM1235 543h43v1h-43zM1278 594h43v1h-43zM1278 540h43v1h-43zM1278 445h43v1h-43zM1321 471h43v1h-43zM1321 452h43v1h-43zM1321 436h43v1h-43z"/>
<path fill="#75d054" d="M1235 685h43v1h-43zM1235 672h43v1h-43zM1235 637h43v1h-43zM1235 624h43v1h-43zM1235 607h43v1h-43zM1235 602h43v1h-43zM1235 600h43v1h-43zM1235 502h43v1h-43zM1278 575h43v1h-43zM1278 559h43v1h-43zM1278 463h43v1h-43z"/>
<path fill="#7ad151" d="M1235 667h43v1h-43zM1235 661h43v1h-43zM1235 549h43v1h-43zM1235 517h43v2h-43zM1235 490h43v1h-43zM1278 578h43v1h-43zM1278 568h43v1h-43zM1278 563h43v1h-43zM1278 478h43v1h-43zM1278 465h43v1h-43zM1321 435h43v1h-43z"/>
<path fill="#81d34d" d="M1235 682h43v1h-43zM1235 638h43v1h-43zM1235 623h43v1h-43zM1235 614h43v1h-43zM1235 601h43v1h-43zM1235 577h43v1h-43zM1235 572h43v1h-43zM1235 566h43v1h-43zM1235 544h43v1h-43zM1235 542h43v1h-43zM1235 516h43v1h-43zM1235 505h43v1h-43zM1235 503h43v1h-43zM1235 492h43v1h-43zM1278 482h43v1h-43zM1278 441h43v1h-43zM1278 433h43v1h-43zM1321 453h43v1h-43zM1321 440h43v1h-43z"/>
<path fill="#89d548" d="M1235 683h43v1h-43zM1235 677h43v1h-43zM1235 645h43v1h-43zM1235 620h43v1h-43zM1235 612h43v1h-43zM1235 606h43v1h-43zM1235 564h43v1h-43zM1235 535h43v1h-43zM1235 513h43v1h-43zM1235 511h43v1h-43zM1278 670h43v1h-43zM1278 607h43v1h-43zM1278 603h43v2h-43zM1278 597h43v1h-43zM1278 530h43v1h-43zM1278 481h43v1h-43zM1321 459h43v1h-43zM1321 448h43v2h-43z"/>
<path fill="#8ed645" d="M1235 670h43v1h-43zM1235 625h43v1h-43zM1235 610h43v1h-43zM1235 561h43v1h-43zM1235 550h43v1h-43zM1235 545h43v1h-43zM1235 506h43v1h-43zM1278 678h43v1h-43zM1278 635h43v1h-43zM1278 624h43v1h-43zM1278 592h43v1h-43zM1278 581h43v1h-43zM1278 459h43v1h-43zM1278 440h43v1h-43zM1321 454h43v1h-43z"/>
<path fill="#95d840" d="M1235 658h43v1h-43zM1235 608h43v1h-43zM1235 586h43v2h-43zM1235 582h43v1h-43zM1235 565h43v1h-43zM1235 514h43v1h-43zM1278 614h43v1h-43zM1278 611h43v1h-43zM1278 593h43v1h-43zM1278 557h43v1h-43zM1278 429h43v2h-43zM1321 462h43v1h-43zM1321 443h43v1h-43z"/>
<path fill="#9dd93b" d="M1235 626h43v1h-43zM1235 570h43v1h-43zM1235 533h43v1h-43zM1235 528h43v1h-43zM1235 504h43v1h-43zM1278 528h43v1h-43zM1278 513h43v1h-43zM1278 470h43v1h-43zM1278 451h43v1h-43zM1278 446h43v1h-43zM1321 463h43v1h-43zM1321 429h43v3h-43z"/>
<path fill="#a2da37" d="M1235 681h43v1h-43zM1235 657h43v1h-43zM1235 641h43v1h-43zM1235 635h43v1h-43zM1235 619h43v1h-43zM1278 605h43v1h-43zM1278 546h43v1h-43zM1278 534h43v1h-43zM1278 514h43v1h-43zM1278 483h43v3h-43zM1278 467h43v1h-43zM1278 436h43v1h-43z"/>
<path fill="#aadc32" d="M1235 580h43v1h-43zM1235 563h43v1h-43zM1235 541h43v1h-43zM1235 512h43v1h-43zM1278 671h43v1h-43zM1278 647h43v1h-43zM1278 645h43v1h-43zM1278 641h43v1h-43zM1278 639h43v1h-43zM1278 521h43v1h-43zM1278 464h43v1h-43z"/>
<path fill="#b2dd2d" d="M1235 629h43v1h-43zM1235 616h43v1h-43zM1235 609h43v1h-43zM1235 596h43v1h-43zM1235 530h43v1h-43zM1235 527h43v1h-43zM1278 657h43v1h-43zM1278 554h43v1h-43zM1278 538h43v1h-43zM1278 532h43v1h-43zM1278 510h43v1h-43zM1278 497h43v1h-43zM1278 468h43v1h-43zM1321 439h43v1h-43zM1321 437h43v1h-43z"/>
<path fill="#bade28" d="M1235 653h43v1h-43zM1235 628h43v1h-43zM1235 611h43v1h-43zM1235 590h43v1h-43zM1235 588h43v1h-43zM1235 583h43v1h-43zM1235 575h43v1h-43zM1235 569h43v1h-43zM1278 676h43v1h-43zM1278 567h43v1h-43zM1278 502h43v1h-43zM1278 500h43v1h-43zM1278 469h43v1h-43zM1278 431h43v1h-43z"/>
<path fill="#c0df25" d="M1235 650h43v1h-43zM1235 634h43v1h-43zM1235 632h43v1h-43zM1235 618h43v1h-43zM1235 604h43v1h-43zM1235 558h43v1h-43zM1278 629h43v1h-43zM1278 623h43v1h-43zM1278 569h43v1h-43zM1278 560h43v1h-43zM1278 454h43v1h-43zM1321 447h43v1h-43z"/>
<path fill="#c8e020" d="M1235 679h43v1h-43zM1235 649h43v1h-43zM1235 568h43v1h-43zM1235 551h43v1h-43zM1235 524h43v1h-43zM1235 521h43v1h-43zM1278 632h43v1h-43zM1278 617h43v1h-43zM1278 601h43v1h-43zM1278 588h43v1h-43zM1278 556h43v1h-43zM1278 524h43v1h-43zM1278 494h43v1h-43zM1278 492h43v1h-43zM1278 447h43v1h-43zM1278 443h43v1h-43zM1278 434h43v1h-43zM1321 441h43v1h-43z"/>
<path fill="#d0e11c" d="M1235 673h43v1h-43zM1235 665h43v1h-43zM1235 603h43v1h-43zM1235 593h43v1h-43zM1235 576h43v1h-43zM1278 663h43v1h-43zM1278 658h43v1h-43zM1278 649h43v1h-43zM1278 638h43v1h-43zM1278 609h43v1h-43zM1278 598h43v1h-43zM1278 579h43v1h-43zM1278 552h43v2h-43zM1278 541h43v1h-43zM1278 480h43v1h-43zM1278 474h43v1h-43zM1278 442h43v1h-43zM1278 439h43v1h-43z"/>
<path fill="#d5e21a" d="M1235 671h43v1h-43zM1235 659h43v1h-43zM1235 644h43v1h-43zM1235 633h43v1h-43zM1235 615h43v1h-43zM1235 579h43v1h-43zM1235 539h43v1h-43zM1278 686h43v2h-43zM1278 684h43v1h-43zM1278 655h43v2h-43zM1278 648h43v1h-43zM1278 630h43v1h-43zM1278 626h43v1h-43zM1278 555h43v1h-43zM1278 461h43v1h-43zM1321 450h43v1h-43z"/>
<path fill="#dde318" d="M1235 594h43v1h-43zM1235 585h43v1h-43zM1235 573h43v1h-43zM1235 567h43v1h-43zM1278 585h43v1h-43zM1278 570h43v1h-43zM1278 525h43v1h-43zM1278 504h43v1h-43zM1278 476h43v1h-43zM1278 456h43v1h-43z"/>
<path fill="#e5e419" d="M1235 597h43v1h-43zM1235 536h43v1h-43zM1278 642h43v1h-43zM1278 615h43v1h-43zM1278 596h43v1h-43zM1278 586h43v2h-43zM1278 571h43v1h-43zM1278 549h43v1h-43zM1278 547h43v1h-43zM1278 536h43v1h-43zM1278 526h43v1h-43zM1278 509h43v1h-43zM1278 503h43v1h-43z"/>
<path fill="#eae51a" d="M1278 675h43v1h-43zM1278 661h43v1h-43zM1278 637h43v1h-43zM1278 608h43v1h-43zM1278 590h43v1h-43zM1278 577h43v1h-43zM1278 535h43v1h-43zM1278 522h43v1h-43zM1278 520h43v1h-43zM1278 517h43v2h-43zM1278 477h43v1h-43z"/>
<path fill="#f1e51d" d="M1235 591h43v1h-43zM1235 557h43v1h-43zM1278 633h43v1h-43zM1278 595h43v1h-43zM1278 580h43v1h-43zM1278 573h43v1h-43zM1278 562h43v1h-43zM1278 544h43v1h-43zM1278 529h43v1h-43zM1278 515h43v1h-43zM1278 508h43v1h-43zM1278 491h43v1h-43zM1278 487h43v1h-43zM1278 457h43v1h-43zM1278 448h43v2h-43z"/>
<path fill="#f8e621" d="M1235 578h43v1h-43zM1278 674h43v1h-43zM1278 599h43v1h-43zM1278 589h43v1h-43zM1278 566h43v1h-43zM1278 564h43v1h-43zM1278 551h43v1h-43zM1278 543h43v1h-43zM1278 453h43v1h-43z"/>
<path fill="#fde725" d="M1235 676h43v1h-43zM1235 674h43v1h-43zM1235 662h43v2h-43zM1235 646h43v1h-43zM1235 640h43v1h-43zM1235 636h43v1h-43zM1235 631h43v1h-43zM1235 621h43v2h-43zM1235 595h43v1h-43zM1235 581h43v1h-43zM1235 574h43v1h-43zM1235 571h43v1h-43zM1235 559h43v1h-43zM1235 547h43v1h-43zM1235 540h43v1h-43zM1235 523h43v1h-43zM1278 685h43v1h-43zM1278 683h43v1h-43zM1278 679h43v3h-43zM1278 677h43v1h-43zM1278 672h43v2h-43zM1278 665h43v5h-43zM1278 662h43v1h-43zM1278 659h43v2h-43zM1278 654h43v1h-43zM1278 652h43v1h-43zM1278 650h43v1h-43zM1278 646h43v1h-43zM1278 643h43v2h-43zM1278 640h43v1h-43zM1278 636h43v1h-43zM1278 634h43v1h-43zM1278 631h43v1h-43zM1278 625h43v1h-43zM1278 620h43v3h-43zM1278 618h43v1h-43zM1278 616h43v1h-43zM1278 613h43v1h-43zM1278 610h43v1h-43zM1278 606h43v1h-43zM1278 602h43v1h-43zM1278 600h43v1h-43zM1278 582h43v3h-43zM1278 574h43v1h-43zM1278 565h43v1h-43zM1278 561h43v1h-43zM1278 558h43v1h-43zM1278 550h43v1h-43zM1278 548h43v1h-43zM1278 545h43v1h-43zM1278 542h43v1h-43zM1278 537h43v1h-43zM1278 519h43v1h-43zM1278 516h43v1h-43zM1278 511h43v2h-43zM1278 507h43v1h-43zM1278 505h43v1h-43zM1278 501h43v1h-43zM1278 498h43v2h-43zM1278 495h43v2h-43zM1278 488h43v3h-43zM1278 486h43v1h-43zM1278 479h43v1h-43zM1278 471h43v2h-43zM1278 466h43v1h-43zM1278 462h43v1h-43zM1278 460h43v1h-43zM1278 455h43v1h-43zM1278 452h43v1h-43zM1278 444h43v1h-43zM1278 437h43v1h-43zM1278 435h43v1h-43zM1278 432h43v1h-43z"/>
</g>
<clipPath id="c8"><rect x="1193.5" y="429.5" width="215" height="258"/></clipPath>
<g clip-path="url(#c8)" fill="none" stroke-linecap="butt">
<polyline stroke="#808080" stroke-width="2.08" points="1297.27,687.4 1296.64,684.14 1296.03,680.88 1295.44,677.62 1294.88,674.36 1294.33,671.11 1293.81,667.85 1293.31,664.59 1292.83,661.33 1292.37,658.07 1291.93,654.81 1291.51,651.55 1291.12,648.29 1290.74,645.03 1290.39,641.78 1290.06,638.52 1289.75,635.26 1289.46,632 1289.19,628.74 1288.94,625.48 1288.72,622.22 1288.51,618.96 1288.33,615.71 1288.16,612.45 1288.02,609.19 1287.9,605.93 1287.81,602.67 1287.73,599.41 1287.67,596.15 1287.64,592.89 1287.62,589.63 1287.63,586.38 1287.66,583.12 1287.71,579.86 1287.78,576.6 1287.87,573.34 1287.99,570.08 1288.12,566.82 1288.28,563.56 1288.46,560.3 1288.65,557.05 1288.87,553.79 1289.12,550.53 1289.38,547.27 1289.66,544.01 1289.97,540.75 1290.29,537.49 1290.64,534.23 1291.01,530.97 1291.4,527.72 1291.81,524.46 1292.24,521.2 1292.69,517.94 1293.17,514.68 1293.66,511.42 1294.18,508.16 1294.72,504.9 1295.28,501.64 1295.86,498.39 1296.46,495.13 1297.09,491.87 1297.73,488.61 1298.4,485.35 1299.08,482.09 1299.79,478.83 1300.52,475.57 1301.27,472.32 1302.04,469.06 1302.84,465.8 1303.65,462.54 1304.49,459.28 1305.34,456.02 1306.22,452.76 1307.12,449.5 1308.04,446.24 1308.98,442.99 1309.94,439.73 1310.93,436.47 1311.93,433.21 1312.96,429.95"/>
<polyline stroke="#ff0000" stroke-width="2.78" points="1297.27,687.4 1296.86,685.28 1296.45,683.15 1296.06,681.03 1295.67,678.91 1295.3,676.79 1294.93,674.66 1294.57,672.54 1294.22,670.42 1293.88,668.29 1293.55,666.17 1293.23,664.05 1292.91,661.92 1292.61,659.8 1292.32,657.68 1292.03,655.56 1291.75,653.43 1291.48,651.31 1291.22,649.19 1290.97,647.06 1290.73,644.94 1290.5,642.82 1290.28,640.69 1290.06,638.57 1289.86,636.45 1289.66,634.33 1289.47,632.2 1289.3,630.08 1289.13,627.96 1288.97,625.83 1288.82,623.71 1288.67,621.59 1288.54,619.46 1288.42,617.34 1288.3,615.22 1288.2,613.1 1288.1,610.97 1288.01,608.85 1287.93,606.73 1287.86,604.6"/>
<polyline stroke="#ff0000" stroke-width="2.78" points="1288.19,565.27 1288.27,563.63 1288.36,561.99 1288.45,560.35 1288.55,558.72 1288.65,557.08 1288.76,555.44 1288.87,553.81 1288.99,552.17 1289.11,550.53 1289.24,548.89 1289.38,547.26 1289.52,545.62 1289.66,543.98 1289.81,542.35 1289.97,540.71 1290.13,539.07 1290.3,537.43 1290.47,535.8 1290.65,534.16 1290.83,532.52 1291.02,530.89 1291.21,529.25 1291.41,527.61 1291.61,525.97 1291.82,524.34 1292.04,522.7 1292.26,521.06 1292.48,519.43 1292.72,517.79 1292.95,516.15 1293.19,514.52 1293.44,512.88 1293.69,511.24 1293.95,509.6 1294.21,507.97 1294.48,506.33 1294.76,504.69 1295.03,503.06 1295.32,501.42"/>
<polyline stroke="#ff0000" stroke-width="2.78" points="1299,482.47 1299.29,481.12 1299.58,479.78 1299.88,478.43 1300.18,477.08 1300.48,475.74 1300.79,474.39 1301.1,473.04 1301.42,471.7 1301.73,470.35 1302.05,469 1302.38,467.66 1302.71,466.31 1303.04,464.96 1303.38,463.62 1303.72,462.27 1304.06,460.92 1304.41,459.58 1304.76,458.23 1305.11,456.88 1305.47,455.54 1305.83,454.19 1306.2,452.84 1306.57,451.5 1306.94,450.15 1307.31,448.8 1307.69,447.46 1308.08,446.11 1308.46,444.76 1308.86,443.42 1309.25,442.07 1309.65,440.72 1310.05,439.38 1310.45,438.03 1310.86,436.68 1311.27,435.34 1311.69,433.99 1312.11,432.64 1312.53,431.3 1312.96,429.95"/>
</g>
<rect x="1193.5" y="429.5" width="215" height="258" fill="none" stroke="#000" stroke-width="1.11"/>
<path d="M1213.5 687.5v4.86M1256.5 687.5v4.86M1299.5 687.5v4.86M1343.5 687.5v4.86M1386.5 687.5v4.86M1193.5 686.5h-4.86M1193.5 635.5h-4.86M1193.5 583.5h-4.86M1193.5 532.5h-4.86M1193.5 480.5h-4.86" stroke="#000" stroke-width="1.11" fill="none"/>
<g font-size="13.89" text-anchor="middle">
<text x="1213.61" y="707.9">945</text>
<text x="1256.76" y="707.9">946</text>
<text x="1299.91" y="707.9">947</text>
<text x="1343.06" y="707.9">948</text>
<text x="1386.21" y="707.9">949</text>
</g>
<g font-size="13.89" text-anchor="end">
<text x="1183.1" y="692">0</text>
<text x="1183.1" y="640">50</text>
<text x="1183.1" y="589">100</text>
<text x="1183.1" y="537">150</text>
<text x="1183.1" y="486">200</text>
</g>
<text font-size="13.89" text-anchor="middle" x="1300.78" y="726.7">X axis (array index)</text>
<text font-size="13.89" text-anchor="middle" transform="translate(1147.1 558.67) rotate(-90)">Y axis (array index)</text>
<text font-size="16.67" text-anchor="middle" x="1300.88" y="420">C distortion: line #8/8 (deg.: 2)</text>
<rect x="1413.5" y="429.5" width="11" height="258" fill="url(#vir)" stroke="#000" stroke-width="1.11"/>
<path d="M1424.5 660.5h4.86M1424.5 625.5h4.86M1424.5 589.5h4.86M1424.5 554.5h4.86M1424.5 519.5h4.86M1424.5 483.5h4.86M1424.5 448.5h4.86" stroke="#000" stroke-width="1.11" fill="none"/>
<g font-size="13.89">
<text x="1434.1" y="666">20</text>
<text x="1434.1" y="630">40</text>
<text x="1434.1" y="595">60</text>
<text x="1434.1" y="560">80</text>
<text x="1434.1" y="524">100</text>
<text x="1434.1" y="489">120</text>
<text x="1434.1" y="454">140</text>
</g>
<text font-size="13.89" text-anchor="middle" transform="translate(1476.02 558.67) rotate(-90)">Number of counts</text>
</g>
</svg></body></html>
